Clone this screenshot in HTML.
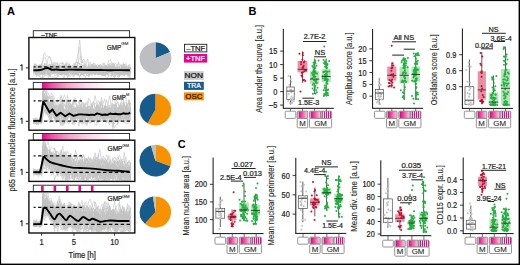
<!DOCTYPE html>
<html><head><meta charset="utf-8"><style>
html,body{margin:0;padding:0;background:#fff;}
body{width:520px;height:265px;overflow:hidden;font-family:"Liberation Sans",sans-serif;}
svg{display:block;}
</style></head><body>
<svg xmlns="http://www.w3.org/2000/svg" width="520" height="265" viewBox="0 0 520 265" font-family="Liberation Sans, sans-serif"><defs>
<linearGradient id="grad1" x1="0" x2="1" y1="0" y2="0">
<stop offset="0" stop-color="#fff"/><stop offset="0.085" stop-color="#fff"/><stop offset="0.09" stop-color="#e6058b"/><stop offset="0.2" stop-color="#ee5aa8"/><stop offset="0.35" stop-color="#f5a5cd"/><stop offset="0.55" stop-color="#fbdaeb"/><stop offset="0.78" stop-color="#fff"/><stop offset="1" stop-color="#fff"/>
</linearGradient>
<linearGradient id="grad2" x1="0" x2="1" y1="0" y2="0">
<stop offset="0" stop-color="#fff"/><stop offset="0.085" stop-color="#fff"/><stop offset="0.09" stop-color="#e6058b"/><stop offset="0.2" stop-color="#ee5aa8"/><stop offset="0.38" stop-color="#f5a5cd"/><stop offset="0.6" stop-color="#fbdaeb"/><stop offset="0.85" stop-color="#fff"/><stop offset="1" stop-color="#fff"/>
</linearGradient>
<linearGradient id="cg" x1="0" x2="1" y1="0" y2="0">
<stop offset="0" stop-color="#b8b8b8"/><stop offset="0.14" stop-color="#b8b8b8"/><stop offset="0.15" stop-color="#e6058b"/><stop offset="0.5" stop-color="#ee5aa6"/><stop offset="1" stop-color="#fbd3e8"/>
</linearGradient>
<pattern id="stripes" patternUnits="userSpaceOnUse" width="2" height="10">
<rect x="0" y="0" width="2" height="10" fill="#fde6f2"/><rect x="0" y="0" width="1" height="10" fill="#e6058b"/>
</pattern>
</defs><rect x="0" y="0" width="520" height="1.1" fill="#000"/>
<rect x="0" y="0" width="1.1" height="265" fill="#000"/>
<rect x="518.6" y="0" width="1.4" height="265" fill="#000"/>
<rect x="0" y="263.6" width="520" height="1.4" fill="#000"/>
<text x="7.00" y="14.80" font-size="11" fill="#000" font-weight="bold">A</text>
<text x="248.40" y="14.80" font-size="11" fill="#000" font-weight="bold">B</text>
<text x="177.80" y="147.60" font-size="11" fill="#000" font-weight="bold">C</text>
<rect x="33.30" y="30.70" width="96.30" height="6.80" fill="#fff" stroke="#222" stroke-width="0.9"/>
<rect x="33.3" y="82.40" width="96.3" height="6.80" fill="url(#grad1)" stroke="#222" stroke-width="0.9"/>
<rect x="33.3" y="133.50" width="96.3" height="6.70" fill="url(#grad2)" stroke="#222" stroke-width="0.9"/>
<rect x="33.30" y="185.20" width="96.30" height="6.50" fill="#fff" stroke="#222" stroke-width="0.9"/>
<rect x="41.10" y="185.60" width="2.60" height="5.70" fill="#e6058b"/>
<rect x="53.55" y="185.60" width="2.60" height="5.70" fill="#e6058b"/>
<rect x="66.00" y="185.60" width="2.60" height="5.70" fill="#e6058b"/>
<rect x="78.45" y="185.60" width="2.60" height="5.70" fill="#e6058b"/>
<rect x="90.90" y="185.60" width="2.60" height="5.70" fill="#e6058b"/>
<text x="41.30" y="36.60" font-size="6.2" fill="#231f20" stroke="#231f20" stroke-width="0.22" textLength="15.80" lengthAdjust="spacingAndGlyphs">&#8211;TNF</text>
<polyline points="33.5,70.5 34.3,71.5 35.1,71.0 35.9,70.4 36.7,69.1 37.5,69.3 38.4,71.5 39.2,72.0 40.0,73.4 40.8,73.1 41.6,73.1 42.4,72.8 43.2,69.6 44.0,71.4 44.8,72.0 45.6,72.5 46.5,69.4 47.3,67.0 48.1,66.7 48.9,67.1 49.7,68.7 50.5,69.2 51.3,70.6 52.1,69.6 52.9,70.5 53.8,71.2 54.6,70.1 55.4,73.1 56.2,73.4 57.0,74.6 57.8,72.6 58.6,70.9 59.4,70.4 60.2,70.4 61.0,71.5 61.8,71.8 62.7,70.8 63.5,69.3 64.3,68.9 65.1,71.5 65.9,70.0 66.7,70.7 67.5,71.4 68.3,68.9 69.1,69.5 69.9,72.0 70.8,68.5 71.6,68.7 72.4,69.1 73.2,68.3 74.0,69.9 74.8,70.1 75.6,67.9 76.4,69.4 77.2,67.6 78.0,59.5 78.9,47.1 79.7,40.1 80.5,47.7 81.3,57.1 82.1,62.8 82.9,60.2 83.7,59.0 84.5,60.2 85.3,63.5 86.2,66.3 87.0,70.3 87.8,67.4 88.6,66.1 89.4,67.8 90.2,71.0 91.0,71.9 91.8,68.6 92.6,65.2 93.4,67.4 94.2,67.2 95.1,66.5 95.9,69.3 96.7,71.5 97.5,71.6 98.3,71.8 99.1,72.3 99.9,74.4 100.7,74.5 101.5,74.3 102.3,74.2 103.2,70.8 104.0,72.9 104.8,73.9 105.6,73.9 106.4,69.9 107.2,69.2 108.0,71.0 108.8,68.1 109.6,68.6 110.5,70.9 111.3,68.8 112.1,72.0 112.9,72.6 113.7,71.9 114.5,72.1 115.3,72.8 116.1,72.5 116.9,73.9 117.7,72.0 118.5,71.0 119.4,72.7 120.2,72.2 121.0,70.5 121.8,72.1 122.6,74.1 123.4,72.5 124.2,69.9 125.0,70.0 125.8,70.0 126.6,69.8 127.5,72.4 128.3,70.3 129.1,72.5 129.9,70.0 130.7,69.0" fill="none" stroke="#c3c3c3" stroke-width="0.6" stroke-linejoin="round"/>
<polyline points="33.5,74.5 34.3,75.4 35.1,75.2 35.9,74.7 36.7,74.4 37.5,74.8 38.4,74.0 39.2,74.0 40.0,74.6 40.8,74.1 41.6,74.9 42.4,75.2 43.2,77.7 44.0,76.8 44.8,75.0 45.6,73.7 46.5,73.4 47.3,74.7 48.1,73.6 48.9,74.0 49.7,76.6 50.5,71.4 51.3,69.9 52.1,71.1 52.9,72.2 53.8,72.7 54.6,72.0 55.4,73.3 56.2,73.6 57.0,72.5 57.8,76.4 58.6,76.0 59.4,74.2 60.2,73.6 61.0,73.0 61.8,72.8 62.7,68.4 63.5,68.8 64.3,71.5 65.1,70.0 65.9,70.6 66.7,72.7 67.5,74.1 68.3,76.1 69.1,72.4 69.9,71.9 70.8,71.6 71.6,72.8 72.4,74.1 73.2,68.2 74.0,68.9 74.8,64.6 75.6,64.9 76.4,61.1 77.2,58.1 78.0,53.4 78.9,47.3 79.7,48.5 80.5,57.0 81.3,65.3 82.1,70.4 82.9,74.9 83.7,76.4 84.5,75.0 85.3,77.7 86.2,75.2 87.0,76.0 87.8,74.6 88.6,74.3 89.4,75.0 90.2,74.7 91.0,75.2 91.8,72.0 92.6,69.8 93.4,71.6 94.2,70.4 95.1,69.4 95.9,67.9 96.7,71.3 97.5,72.9 98.3,75.2 99.1,73.0 99.9,72.9 100.7,71.0 101.5,72.7 102.3,75.3 103.2,73.1 104.0,75.5 104.8,76.3 105.6,75.0 106.4,71.2 107.2,73.9 108.0,73.4 108.8,72.2 109.6,73.0 110.5,73.6 111.3,75.7 112.1,73.2 112.9,74.9 113.7,76.7 114.5,77.7 115.3,76.1 116.1,74.0 116.9,75.3 117.7,74.7 118.5,74.4 119.4,76.2 120.2,74.8 121.0,70.5 121.8,70.5 122.6,68.2 123.4,70.7 124.2,71.8 125.0,71.1 125.8,71.5 126.6,73.2 127.5,73.2 128.3,75.2 129.1,74.4 129.9,75.6 130.7,77.2" fill="none" stroke="#c3c3c3" stroke-width="0.6" stroke-linejoin="round"/>
<polyline points="33.5,69.4 34.3,71.1 35.1,67.9 35.9,66.9 36.7,64.8 37.5,68.1 38.4,66.8 39.2,67.8 40.0,68.2 40.8,68.8 41.6,68.3 42.4,69.3 43.2,72.5 44.0,72.0 44.8,72.4 45.6,73.5 46.5,72.3 47.3,69.8 48.1,69.1 48.9,71.2 49.7,68.4 50.5,68.0 51.3,70.3 52.1,71.6 52.9,71.3 53.8,72.4 54.6,72.1 55.4,69.8 56.2,67.5 57.0,67.3 57.8,69.7 58.6,69.0 59.4,68.0 60.2,67.4 61.0,65.8 61.8,66.9 62.7,66.0 63.5,67.9 64.3,64.8 65.1,66.9 65.9,66.9 66.7,64.8 67.5,67.5 68.3,67.9 69.1,65.1 69.9,65.2 70.8,67.1 71.6,67.3 72.4,69.5 73.2,70.9 74.0,71.9 74.8,71.9 75.6,73.3 76.4,72.5 77.2,70.1 78.0,62.2 78.9,59.4 79.7,57.8 80.5,55.9 81.3,57.1 82.1,63.3 82.9,61.3 83.7,62.2 84.5,66.1 85.3,65.1 86.2,68.6 87.0,73.3 87.8,73.1 88.6,73.5 89.4,74.2 90.2,71.7 91.0,71.2 91.8,71.5 92.6,72.5 93.4,71.9 94.2,71.2 95.1,69.4 95.9,69.1 96.7,70.9 97.5,71.0 98.3,69.5 99.1,68.4 99.9,73.2 100.7,74.3 101.5,74.2 102.3,69.0 103.2,70.4 104.0,71.2 104.8,73.7 105.6,73.5 106.4,72.5 107.2,72.8 108.0,69.0 108.8,71.1 109.6,71.4 110.5,70.0 111.3,72.3 112.1,74.7 112.9,71.3 113.7,70.0 114.5,70.6 115.3,70.8 116.1,70.1 116.9,68.6 117.7,72.6 118.5,73.6 119.4,70.8 120.2,68.6 121.0,71.8 121.8,73.0 122.6,75.2 123.4,75.2 124.2,72.5 125.0,72.3 125.8,68.4 126.6,67.8 127.5,68.4 128.3,69.8 129.1,68.9 129.9,69.1 130.7,70.2" fill="none" stroke="#c3c3c3" stroke-width="0.6" stroke-linejoin="round"/>
<polyline points="33.5,69.6 34.3,69.7 35.1,68.8 35.9,70.0 36.7,69.7 37.5,68.1 38.4,67.2 39.2,67.5 40.0,67.4 40.8,67.2 41.6,65.4 42.4,62.3 43.2,57.8 44.0,52.6 44.8,52.9 45.6,55.3 46.5,56.2 47.3,55.8 48.1,57.1 48.9,56.8 49.7,56.3 50.5,60.0 51.3,61.4 52.1,65.2 52.9,64.9 53.8,62.0 54.6,62.3 55.4,66.7 56.2,66.6 57.0,65.0 57.8,64.8 58.6,66.7 59.4,68.0 60.2,68.5 61.0,70.9 61.8,71.4 62.7,70.6 63.5,71.0 64.3,72.9 65.1,73.3 65.9,73.6 66.7,70.5 67.5,69.7 68.3,70.6 69.1,69.5 69.9,71.0 70.8,71.3 71.6,72.0 72.4,70.7 73.2,74.2 74.0,74.6 74.8,72.6 75.6,71.6 76.4,74.9 77.2,72.6 78.0,72.9 78.9,73.2 79.7,72.0 80.5,69.1 81.3,69.3 82.1,69.7 82.9,71.2 83.7,71.7 84.5,70.9 85.3,71.6 86.2,71.6 87.0,71.1 87.8,70.5 88.6,69.6 89.4,70.4 90.2,68.2 91.0,67.3 91.8,67.7 92.6,65.6 93.4,65.7 94.2,63.3 95.1,63.7 95.9,66.0 96.7,67.6 97.5,67.8 98.3,67.7 99.1,65.6 99.9,69.4 100.7,70.0 101.5,71.4 102.3,69.2 103.2,68.7 104.0,65.8 104.8,67.8 105.6,69.5 106.4,66.2 107.2,66.8 108.0,68.3 108.8,65.6 109.6,63.5 110.5,63.2 111.3,63.7 112.1,62.8 112.9,64.5 113.7,66.0 114.5,67.8 115.3,69.1 116.1,71.4 116.9,72.5 117.7,69.3 118.5,68.3 119.4,66.7 120.2,65.5 121.0,66.2 121.8,66.9 122.6,68.2 123.4,65.7 124.2,64.6 125.0,65.6 125.8,66.2 126.6,66.3 127.5,66.9 128.3,66.1 129.1,67.9 129.9,68.7 130.7,68.5" fill="none" stroke="#c3c3c3" stroke-width="0.6" stroke-linejoin="round"/>
<polyline points="33.5,69.8 34.3,65.5 35.1,65.2 35.9,66.7 36.7,65.2 37.5,66.9 38.4,67.9 39.2,65.9 40.0,65.8 40.8,64.8 41.6,64.2 42.4,62.8 43.2,60.1 44.0,57.0 44.8,57.1 45.6,58.8 46.5,62.8 47.3,65.8 48.1,66.6 48.9,66.1 49.7,67.1 50.5,66.9 51.3,66.1 52.1,67.1 52.9,67.2 53.8,68.2 54.6,69.5 55.4,69.0 56.2,73.1 57.0,71.7 57.8,73.0 58.6,72.4 59.4,73.5 60.2,68.8 61.0,67.9 61.8,68.9 62.7,70.2 63.5,73.9 64.3,73.4 65.1,74.5 65.9,74.5 66.7,74.8 67.5,74.3 68.3,72.9 69.1,72.9 69.9,70.4 70.8,72.2 71.6,70.0 72.4,70.4 73.2,73.7 74.0,72.4 74.8,71.8 75.6,73.2 76.4,72.3 77.2,70.4 78.0,70.7 78.9,71.5 79.7,72.2 80.5,70.4 81.3,73.1 82.1,75.0 82.9,73.6 83.7,73.1 84.5,71.6 85.3,73.4 86.2,71.4 87.0,72.1 87.8,70.8 88.6,69.5 89.4,70.8 90.2,72.7 91.0,72.0 91.8,70.4 92.6,71.6 93.4,71.1 94.2,71.3 95.1,73.4 95.9,74.3 96.7,72.3 97.5,75.3 98.3,73.9 99.1,74.1 99.9,71.9 100.7,71.3 101.5,68.2 102.3,71.6 103.2,73.4 104.0,70.5 104.8,67.8 105.6,65.4 106.4,67.4 107.2,65.2 108.0,63.2 108.8,60.8 109.6,59.9 110.5,59.3 111.3,62.2 112.1,62.8 112.9,65.6 113.7,67.9 114.5,69.6 115.3,69.5 116.1,68.2 116.9,69.0 117.7,68.5 118.5,71.5 119.4,72.3 120.2,71.5 121.0,70.4 121.8,69.2 122.6,67.9 123.4,68.0 124.2,69.0 125.0,70.2 125.8,71.1 126.6,74.2 127.5,71.9 128.3,71.4 129.1,75.5 129.9,71.0 130.7,69.9" fill="none" stroke="#c3c3c3" stroke-width="0.6" stroke-linejoin="round"/>
<polyline points="33.5,67.8 34.3,68.4 35.1,67.8 35.9,68.3 36.7,68.2 37.5,69.3 38.4,65.8 39.2,64.8 40.0,65.6 40.8,64.5 41.6,63.7 42.4,65.7 43.2,65.1 44.0,66.6 44.8,67.4 45.6,66.7 46.5,65.5 47.3,62.8 48.1,58.0 48.9,56.8 49.7,57.5 50.5,57.7 51.3,59.8 52.1,63.5 52.9,63.9 53.8,66.5 54.6,70.0 55.4,68.2 56.2,67.6 57.0,66.0 57.8,67.0 58.6,65.4 59.4,65.1 60.2,62.9 61.0,63.2 61.8,64.1 62.7,62.5 63.5,66.6 64.3,68.7 65.1,65.8 65.9,67.6 66.7,67.4 67.5,68.2 68.3,68.6 69.1,65.9 69.9,66.0 70.8,68.9 71.6,67.6 72.4,65.9 73.2,64.2 74.0,63.2 74.8,65.0 75.6,68.4 76.4,68.9 77.2,68.9 78.0,72.1 78.9,70.0 79.7,68.2 80.5,68.9 81.3,69.4 82.1,67.3 82.9,65.5 83.7,66.5 84.5,67.2 85.3,65.2 86.2,65.6 87.0,65.3 87.8,66.6 88.6,66.7 89.4,66.8 90.2,66.5 91.0,68.5 91.8,70.4 92.6,69.0 93.4,70.0 94.2,68.1 95.1,68.1 95.9,69.1 96.7,71.1 97.5,69.5 98.3,68.8 99.1,68.8 99.9,66.1 100.7,66.5 101.5,65.7 102.3,66.8 103.2,65.2 104.0,62.7 104.8,64.1 105.6,65.5 106.4,65.2 107.2,67.3 108.0,66.9 108.8,66.1 109.6,67.3 110.5,64.9 111.3,64.5 112.1,65.4 112.9,67.3 113.7,67.1 114.5,67.8 115.3,66.7 116.1,67.4 116.9,70.1 117.7,68.3 118.5,71.9 119.4,69.6 120.2,69.1 121.0,68.9 121.8,70.2 122.6,67.5 123.4,64.1 124.2,66.1 125.0,67.8 125.8,68.7 126.6,72.6 127.5,71.5 128.3,70.8 129.1,71.4 129.9,70.9 130.7,72.6" fill="none" stroke="#c3c3c3" stroke-width="0.6" stroke-linejoin="round"/>
<polyline points="33.5,69.7 34.3,64.4 35.1,67.3 35.9,67.6 36.7,69.8 37.5,73.4 38.4,72.5 39.2,71.5 40.0,70.4 40.8,69.0 41.6,68.4 42.4,69.9 43.2,70.1 44.0,70.3 44.8,70.0 45.6,71.6 46.5,72.0 47.3,71.3 48.1,72.1 48.9,71.4 49.7,69.2 50.5,71.9 51.3,72.2 52.1,70.1 52.9,71.9 53.8,72.0 54.6,69.0 55.4,72.0 56.2,72.0 57.0,73.0 57.8,72.6 58.6,71.7 59.4,68.8 60.2,70.8 61.0,70.6 61.8,69.9 62.7,70.1 63.5,69.5 64.3,69.5 65.1,67.4 65.9,66.2 66.7,62.1 67.5,62.5 68.3,65.1 69.1,68.7 69.9,68.8 70.8,69.4 71.6,72.4 72.4,71.5 73.2,72.4 74.0,74.5 74.8,73.4 75.6,74.5 76.4,72.2 77.2,72.0 78.0,71.4 78.9,71.3 79.7,72.8 80.5,76.0 81.3,73.3 82.1,71.6 82.9,72.0 83.7,69.8 84.5,70.8 85.3,71.6 86.2,70.8 87.0,71.5 87.8,68.7 88.6,70.4 89.4,67.9 90.2,67.4 91.0,67.2 91.8,67.2 92.6,68.9 93.4,68.5 94.2,66.9 95.1,66.6 95.9,67.5 96.7,65.3 97.5,64.5 98.3,65.8 99.1,66.0 99.9,64.4 100.7,70.0 101.5,73.9 102.3,70.1 103.2,70.4 104.0,71.3 104.8,72.7 105.6,73.1 106.4,72.0 107.2,69.8 108.0,70.1 108.8,71.8 109.6,69.7 110.5,68.2 111.3,68.8 112.1,66.1 112.9,66.9 113.7,67.1 114.5,68.7 115.3,68.1 116.1,67.3 116.9,67.5 117.7,68.2 118.5,67.7 119.4,68.5 120.2,70.2 121.0,72.1 121.8,74.4 122.6,72.0 123.4,70.8 124.2,66.7 125.0,70.8 125.8,69.5 126.6,69.7 127.5,70.7 128.3,68.4 129.1,69.7 129.9,69.8 130.7,67.0" fill="none" stroke="#c3c3c3" stroke-width="0.6" stroke-linejoin="round"/>
<polyline points="33.5,72.3 34.3,68.8 35.1,70.6 35.9,70.9 36.7,71.5 37.5,71.9 38.4,73.6 39.2,72.3 40.0,73.2 40.8,71.8 41.6,72.6 42.4,70.7 43.2,70.4 44.0,73.2 44.8,73.1 45.6,72.1 46.5,69.8 47.3,68.7 48.1,69.5 48.9,71.3 49.7,71.7 50.5,72.2 51.3,71.6 52.1,73.5 52.9,72.0 53.8,70.7 54.6,72.0 55.4,71.7 56.2,70.9 57.0,69.8 57.8,69.6 58.6,70.8 59.4,71.3 60.2,69.1 61.0,70.2 61.8,70.5 62.7,68.9 63.5,70.5 64.3,69.9 65.1,69.2 65.9,70.1 66.7,71.0 67.5,67.7 68.3,66.6 69.1,63.5 69.9,66.8 70.8,65.5 71.6,68.2 72.4,67.9 73.2,70.3 74.0,74.4 74.8,69.5 75.6,69.2 76.4,70.5 77.2,70.3 78.0,69.3 78.9,73.1 79.7,72.5 80.5,69.3 81.3,71.0 82.1,68.1 82.9,70.6 83.7,69.6 84.5,70.1 85.3,72.2 86.2,71.9 87.0,69.3 87.8,66.9 88.6,69.8 89.4,71.1 90.2,69.6 91.0,71.2 91.8,71.8 92.6,72.5 93.4,68.3 94.2,68.4 95.1,70.4 95.9,71.6 96.7,72.7 97.5,68.1 98.3,69.0 99.1,70.2 99.9,74.4 100.7,71.7 101.5,70.8 102.3,70.8 103.2,72.1 104.0,70.9 104.8,72.6 105.6,70.8 106.4,71.1 107.2,70.1 108.0,70.4 108.8,69.3 109.6,67.1 110.5,69.7 111.3,70.4 112.1,69.4 112.9,69.9 113.7,71.3 114.5,68.9 115.3,68.3 116.1,68.5 116.9,68.3 117.7,66.4 118.5,62.0 119.4,64.3 120.2,64.8 121.0,65.0 121.8,65.3 122.6,66.7 123.4,67.0 124.2,66.5 125.0,66.6 125.8,66.9 126.6,67.0 127.5,66.2 128.3,68.5 129.1,66.9 129.9,69.0 130.7,67.8" fill="none" stroke="#c3c3c3" stroke-width="0.6" stroke-linejoin="round"/>
<polyline points="33.5,72.2 34.3,71.9 35.1,70.2 35.9,70.2 36.7,70.4 37.5,67.5 38.4,67.2 39.2,68.3 40.0,68.0 40.8,68.7 41.6,70.2 42.4,71.4 43.2,72.4 44.0,72.7 44.8,71.5 45.6,71.0 46.5,70.3 47.3,69.7 48.1,69.5 48.9,66.8 49.7,67.0 50.5,67.4 51.3,65.9 52.1,65.8 52.9,66.1 53.8,65.0 54.6,67.8 55.4,62.9 56.2,63.8 57.0,62.5 57.8,66.4 58.6,72.0 59.4,67.7 60.2,68.7 61.0,70.0 61.8,69.5 62.7,70.6 63.5,66.8 64.3,69.1 65.1,69.9 65.9,70.0 66.7,69.0 67.5,70.3 68.3,69.5 69.1,70.0 69.9,69.2 70.8,65.8 71.6,66.9 72.4,68.1 73.2,69.8 74.0,68.5 74.8,68.8 75.6,70.2 76.4,70.3 77.2,72.2 78.0,74.8 78.9,72.0 79.7,68.4 80.5,70.2 81.3,72.5 82.1,73.2 82.9,73.3 83.7,70.8 84.5,68.2 85.3,68.3 86.2,64.8 87.0,60.6 87.8,59.1 88.6,64.4 89.4,68.3 90.2,67.6 91.0,67.5 91.8,69.0 92.6,68.4 93.4,71.2 94.2,70.8 95.1,68.9 95.9,71.3 96.7,70.0 97.5,70.4 98.3,70.2 99.1,69.7 99.9,70.3 100.7,69.1 101.5,66.4 102.3,63.9 103.2,63.5 104.0,64.1 104.8,65.7 105.6,67.0 106.4,68.7 107.2,69.3 108.0,68.2 108.8,67.6 109.6,64.9 110.5,66.0 111.3,67.9 112.1,69.3 112.9,69.3 113.7,69.2 114.5,70.9 115.3,70.7 116.1,71.7 116.9,72.1 117.7,71.9 118.5,73.4 119.4,71.6 120.2,70.5 121.0,69.1 121.8,68.1 122.6,71.1 123.4,73.6 124.2,72.6 125.0,72.8 125.8,73.9 126.6,74.1 127.5,74.9 128.3,71.5 129.1,70.0 129.9,70.7 130.7,72.8" fill="none" stroke="#c3c3c3" stroke-width="0.6" stroke-linejoin="round"/>
<polyline points="33.5,68.6 34.3,68.4 35.1,67.8 35.9,67.0 36.7,70.3 37.5,69.2 38.4,69.4 39.2,73.1 40.0,74.1 40.8,73.5 41.6,71.5 42.4,71.7 43.2,73.8 44.0,73.8 44.8,74.7 45.6,73.6 46.5,73.4 47.3,72.1 48.1,72.2 48.9,73.7 49.7,70.3 50.5,70.1 51.3,70.5 52.1,69.4 52.9,69.1 53.8,70.6 54.6,73.6 55.4,73.6 56.2,73.1 57.0,69.8 57.8,72.9 58.6,72.2 59.4,71.5 60.2,69.3 61.0,69.4 61.8,67.8 62.7,68.5 63.5,69.7 64.3,69.8 65.1,70.3 65.9,68.9 66.7,71.5 67.5,70.0 68.3,67.1 69.1,67.6 69.9,67.0 70.8,66.2 71.6,66.7 72.4,68.1 73.2,66.7 74.0,67.4 74.8,70.4 75.6,71.4 76.4,70.8 77.2,70.7 78.0,70.3 78.9,70.2 79.7,71.3 80.5,70.8 81.3,66.7 82.1,67.6 82.9,66.8 83.7,68.8 84.5,68.1 85.3,68.9 86.2,72.7 87.0,70.2 87.8,68.4 88.6,66.6 89.4,63.7 90.2,62.4 91.0,65.1 91.8,65.5 92.6,63.7 93.4,63.1 94.2,66.0 95.1,65.9 95.9,66.4 96.7,67.9 97.5,70.6 98.3,73.4 99.1,73.8 99.9,72.2 100.7,70.5 101.5,71.2 102.3,70.6 103.2,67.2 104.0,66.3 104.8,66.3 105.6,66.8 106.4,67.0 107.2,66.0 108.0,66.4 108.8,64.7 109.6,67.2 110.5,67.2 111.3,63.9 112.1,65.5 112.9,66.1 113.7,62.8 114.5,67.2 115.3,69.3 116.1,73.1 116.9,70.7 117.7,71.6 118.5,72.0 119.4,71.8 120.2,71.6 121.0,72.9 121.8,69.7 122.6,67.8 123.4,66.1 124.2,66.3 125.0,66.4 125.8,68.0 126.6,69.0 127.5,69.3 128.3,68.4 129.1,68.1 129.9,70.2 130.7,71.3" fill="none" stroke="#c3c3c3" stroke-width="0.6" stroke-linejoin="round"/>
<polyline points="33.5,69.9 34.3,72.5 35.1,71.0 35.9,71.9 36.7,73.3 37.5,72.1 38.4,72.9 39.2,70.4 40.0,72.1 40.8,71.9 41.6,69.0 42.4,70.4 43.2,69.0 44.0,71.5 44.8,70.1 45.6,69.9 46.5,70.5 47.3,69.9 48.1,70.5 48.9,69.6 49.7,70.9 50.5,70.8 51.3,71.0 52.1,66.4 52.9,69.4 53.8,69.7 54.6,67.1 55.4,68.2 56.2,69.5 57.0,71.5 57.8,69.5 58.6,72.2 59.4,71.5 60.2,75.0 61.0,73.5 61.8,73.7 62.7,72.2 63.5,69.9 64.3,71.8 65.1,72.9 65.9,74.6 66.7,74.8 67.5,72.7 68.3,69.4 69.1,68.6 69.9,68.0 70.8,67.4 71.6,69.2 72.4,70.1 73.2,69.7 74.0,70.2 74.8,70.0 75.6,70.5 76.4,71.7 77.2,72.8 78.0,71.1 78.9,68.5 79.7,71.3 80.5,71.2 81.3,72.8 82.1,69.5 82.9,69.2 83.7,69.6 84.5,67.5 85.3,67.5 86.2,69.5 87.0,71.4 87.8,73.5 88.6,70.8 89.4,67.7 90.2,68.1 91.0,68.5 91.8,67.4 92.6,64.3 93.4,65.9 94.2,67.8 95.1,69.3 95.9,69.1 96.7,70.3 97.5,71.8 98.3,70.7 99.1,67.8 99.9,69.1 100.7,70.2 101.5,70.3 102.3,71.8 103.2,70.4 104.0,70.3 104.8,69.8 105.6,70.9 106.4,73.3 107.2,72.1 108.0,74.9 108.8,76.1 109.6,75.8 110.5,75.2 111.3,76.7 112.1,74.7 112.9,73.3 113.7,70.8 114.5,71.4 115.3,73.3 116.1,73.3 116.9,73.2 117.7,72.1 118.5,71.8 119.4,69.0 120.2,70.8 121.0,69.3 121.8,66.7 122.6,64.7 123.4,62.8 124.2,63.9 125.0,65.5 125.8,63.5 126.6,66.4 127.5,69.1 128.3,68.9 129.1,67.3 129.9,67.3 130.7,67.3" fill="none" stroke="#c3c3c3" stroke-width="0.6" stroke-linejoin="round"/>
<polyline points="33.5,70.1 34.3,67.0 35.1,68.4 35.9,66.6 36.7,69.2 37.5,67.6 38.4,67.4 39.2,66.9 40.0,67.1 40.8,70.2 41.6,71.7 42.4,72.3 43.2,72.4 44.0,69.4 44.8,68.9 45.6,68.5 46.5,67.6 47.3,69.2 48.1,68.4 48.9,67.9 49.7,67.0 50.5,64.7 51.3,67.3 52.1,70.4 52.9,70.8 53.8,69.2 54.6,65.2 55.4,67.0 56.2,70.0 57.0,70.7 57.8,72.1 58.6,74.1 59.4,74.9 60.2,73.0 61.0,74.0 61.8,74.3 62.7,70.8 63.5,70.1 64.3,68.0 65.1,68.6 65.9,70.1 66.7,68.5 67.5,65.8 68.3,69.3 69.1,70.3 69.9,72.7 70.8,70.0 71.6,71.9 72.4,74.9 73.2,76.9 74.0,74.8 74.8,74.1 75.6,72.9 76.4,73.9 77.2,74.6 78.0,73.6 78.9,70.6 79.7,71.8 80.5,70.7 81.3,71.7 82.1,71.8 82.9,74.1 83.7,75.0 84.5,73.0 85.3,72.9 86.2,75.1 87.0,73.0 87.8,73.0 88.6,74.3 89.4,75.3 90.2,74.8 91.0,71.5 91.8,69.3 92.6,70.1 93.4,70.8 94.2,74.9 95.1,72.3 95.9,73.7 96.7,74.1 97.5,70.4 98.3,69.2 99.1,69.9 99.9,69.3 100.7,69.4 101.5,70.5 102.3,69.3 103.2,70.4 104.0,69.4 104.8,68.9 105.6,70.3 106.4,69.5 107.2,70.2 108.0,72.9 108.8,72.3 109.6,71.6 110.5,72.5 111.3,71.4 112.1,72.9 112.9,70.2 113.7,71.3 114.5,70.3 115.3,69.1 116.1,72.4 116.9,70.5 117.7,73.4 118.5,73.7 119.4,75.2 120.2,72.3 121.0,73.8 121.8,75.2 122.6,73.8 123.4,72.7 124.2,76.1 125.0,74.8 125.8,73.0 126.6,71.3 127.5,71.8 128.3,72.0 129.1,71.9 129.9,74.3 130.7,72.8" fill="none" stroke="#c3c3c3" stroke-width="0.6" stroke-linejoin="round"/>
<polyline points="33.5,72.4 34.3,70.1 35.1,71.7 35.9,74.2 36.7,70.9 37.5,68.9 38.4,67.5 39.2,65.3 40.0,67.3 40.8,65.1 41.6,67.3 42.4,70.4 43.2,67.7 44.0,67.8 44.8,65.4 45.6,67.9 46.5,67.3 47.3,67.7 48.1,68.4 48.9,69.7 49.7,69.3 50.5,69.5 51.3,68.8 52.1,69.3 52.9,67.6 53.8,68.4 54.6,65.8 55.4,66.2 56.2,70.3 57.0,70.4 57.8,68.2 58.6,69.2 59.4,67.8 60.2,65.8 61.0,65.8 61.8,68.2 62.7,69.3 63.5,69.3 64.3,68.1 65.1,66.9 65.9,69.9 66.7,70.3 67.5,68.7 68.3,65.7 69.1,64.7 69.9,70.2 70.8,68.3 71.6,68.7 72.4,69.4 73.2,69.3 74.0,69.1 74.8,67.1 75.6,66.3 76.4,70.0 77.2,68.8 78.0,70.5 78.9,67.7 79.7,67.9 80.5,68.9 81.3,70.9 82.1,68.8 82.9,70.1 83.7,70.7 84.5,69.3 85.3,70.3 86.2,68.8 87.0,67.9 87.8,68.4 88.6,64.5 89.4,65.9 90.2,65.4 91.0,64.4 91.8,65.3 92.6,67.8 93.4,67.8 94.2,70.4 95.1,68.5 95.9,66.8 96.7,70.2 97.5,70.8 98.3,72.1 99.1,70.2 99.9,71.4 100.7,71.4 101.5,72.1 102.3,71.5 103.2,73.1 104.0,71.2 104.8,69.3 105.6,67.1 106.4,69.8 107.2,68.7 108.0,67.4 108.8,66.6 109.6,66.9 110.5,65.7 111.3,66.5 112.1,66.4 112.9,66.6 113.7,66.0 114.5,67.2 115.3,67.2 116.1,68.2 116.9,69.1 117.7,69.9 118.5,66.4 119.4,66.6 120.2,66.3 121.0,68.6 121.8,66.4 122.6,66.3 123.4,66.9 124.2,67.2 125.0,69.6 125.8,69.0 126.6,70.8 127.5,68.3 128.3,65.8 129.1,69.0 129.9,70.0 130.7,70.8" fill="none" stroke="#c3c3c3" stroke-width="0.6" stroke-linejoin="round"/>
<polyline points="33.5,69.3 34.3,67.1 35.1,69.0 35.9,68.0 36.7,69.7 37.5,69.5 38.4,66.1 39.2,64.7 40.0,67.6 40.8,67.6 41.6,67.2 42.4,68.0 43.2,67.4 44.0,66.9 44.8,67.5 45.6,68.0 46.5,70.6 47.3,70.1 48.1,72.6 48.9,74.4 49.7,75.5 50.5,75.2 51.3,73.5 52.1,72.4 52.9,71.0 53.8,69.2 54.6,68.9 55.4,67.7 56.2,70.6 57.0,70.9 57.8,69.5 58.6,66.1 59.4,66.7 60.2,66.5 61.0,65.4 61.8,64.4 62.7,62.0 63.5,64.7 64.3,65.7 65.1,70.6 65.9,70.0 66.7,69.3 67.5,71.4 68.3,70.8 69.1,70.4 69.9,69.3 70.8,68.1 71.6,70.6 72.4,71.6 73.2,73.5 74.0,71.5 74.8,70.7 75.6,68.7 76.4,70.2 77.2,67.5 78.0,68.7 78.9,70.4 79.7,72.1 80.5,69.6 81.3,71.0 82.1,69.2 82.9,67.8 83.7,65.9 84.5,68.5 85.3,71.1 86.2,69.4 87.0,68.0 87.8,67.6 88.6,71.8 89.4,72.5 90.2,70.5 91.0,67.1 91.8,66.4 92.6,68.9 93.4,71.8 94.2,70.4 95.1,68.8 95.9,67.9 96.7,65.0 97.5,67.5 98.3,66.0 99.1,68.4 99.9,65.7 100.7,64.5 101.5,66.0 102.3,65.5 103.2,67.6 104.0,67.9 104.8,66.2 105.6,67.8 106.4,69.4 107.2,66.1 108.0,69.7 108.8,70.1 109.6,70.9 110.5,67.2 111.3,66.4 112.1,66.5 112.9,68.8 113.7,66.3 114.5,65.5 115.3,63.1 116.1,64.2 116.9,66.0 117.7,64.0 118.5,64.3 119.4,66.3 120.2,69.5 121.0,70.3 121.8,69.3 122.6,67.2 123.4,66.0 124.2,65.7 125.0,66.7 125.8,67.1 126.6,70.2 127.5,70.2 128.3,68.0 129.1,70.6 129.9,71.5 130.7,70.8" fill="none" stroke="#c3c3c3" stroke-width="0.6" stroke-linejoin="round"/>
<polyline points="33.5,68.6 34.3,67.9 35.1,70.4 35.9,69.4 36.7,67.9 37.5,69.3 38.4,70.3 39.2,71.7 40.0,72.7 40.8,74.7 41.6,72.5 42.4,73.8 43.2,71.6 44.0,72.7 44.8,72.7 45.6,72.8 46.5,74.0 47.3,73.3 48.1,74.6 48.9,75.2 49.7,74.4 50.5,72.7 51.3,71.2 52.1,70.5 52.9,70.5 53.8,70.8 54.6,75.8 55.4,75.7 56.2,75.8 57.0,73.2 57.8,71.6 58.6,71.1 59.4,71.6 60.2,69.9 61.0,73.0 61.8,71.7 62.7,73.4 63.5,69.2 64.3,69.9 65.1,70.8 65.9,71.3 66.7,72.4 67.5,72.6 68.3,72.6 69.1,69.3 69.9,68.8 70.8,65.9 71.6,68.5 72.4,69.9 73.2,70.0 74.0,69.2 74.8,68.9 75.6,72.7 76.4,75.1 77.2,74.1 78.0,75.5 78.9,71.8 79.7,68.7 80.5,68.7 81.3,68.2 82.1,68.2 82.9,69.5 83.7,74.9 84.5,73.0 85.3,72.7 86.2,72.8 87.0,72.4 87.8,73.7 88.6,76.0 89.4,72.8 90.2,72.7 91.0,72.0 91.8,72.5 92.6,69.8 93.4,67.5 94.2,64.9 95.1,67.7 95.9,69.1 96.7,69.9 97.5,66.6 98.3,67.4 99.1,67.4 99.9,66.3 100.7,66.3 101.5,68.9 102.3,70.6 103.2,70.8 104.0,71.9 104.8,70.9 105.6,71.2 106.4,71.4 107.2,72.3 108.0,72.0 108.8,71.7 109.6,71.5 110.5,70.5 111.3,74.4 112.1,74.4 112.9,74.3 113.7,77.3 114.5,77.7 115.3,73.7 116.1,74.2 116.9,74.8 117.7,77.0 118.5,77.6 119.4,77.2 120.2,73.7 121.0,71.7 121.8,72.2 122.6,72.8 123.4,70.9 124.2,70.5 125.0,70.1 125.8,70.7 126.6,71.5 127.5,71.1 128.3,69.2 129.1,71.9 129.9,74.4 130.7,73.5" fill="none" stroke="#c3c3c3" stroke-width="0.6" stroke-linejoin="round"/>
<polyline points="33.5,71.4 34.3,72.3 35.1,72.6 35.9,70.8 36.7,71.7 37.5,73.1 38.4,71.0 39.2,74.0 40.0,76.5 40.8,77.7 41.6,77.7 42.4,77.7 43.2,75.3 44.0,73.1 44.8,71.1 45.6,71.2 46.5,71.0 47.3,72.0 48.1,68.4 48.9,72.7 49.7,75.8 50.5,74.3 51.3,74.4 52.1,74.1 52.9,73.6 53.8,72.5 54.6,71.8 55.4,70.2 56.2,70.6 57.0,70.6 57.8,71.1 58.6,69.6 59.4,70.0 60.2,70.3 61.0,71.4 61.8,69.5 62.7,70.5 63.5,72.1 64.3,72.7 65.1,71.5 65.9,70.5 66.7,70.2 67.5,71.5 68.3,73.8 69.1,72.7 69.9,71.1 70.8,71.6 71.6,71.7 72.4,69.9 73.2,69.0 74.0,69.3 74.8,70.8 75.6,68.8 76.4,67.7 77.2,69.4 78.0,67.8 78.9,68.8 79.7,69.9 80.5,69.9 81.3,68.5 82.1,69.0 82.9,69.0 83.7,70.0 84.5,68.8 85.3,71.1 86.2,68.3 87.0,68.7 87.8,69.3 88.6,71.2 89.4,70.1 90.2,71.1 91.0,70.1 91.8,71.5 92.6,74.0 93.4,72.5 94.2,72.7 95.1,70.6 95.9,72.2 96.7,73.7 97.5,72.9 98.3,70.5 99.1,71.2 99.9,72.9 100.7,74.0 101.5,74.4 102.3,70.4 103.2,69.4 104.0,72.1 104.8,69.7 105.6,71.8 106.4,74.5 107.2,74.7 108.0,75.3 108.8,73.5 109.6,70.8 110.5,70.6 111.3,70.3 112.1,70.3 112.9,71.6 113.7,71.1 114.5,71.3 115.3,71.8 116.1,71.5 116.9,74.2 117.7,73.9 118.5,73.2 119.4,72.1 120.2,70.7 121.0,72.9 121.8,72.5 122.6,70.3 123.4,69.5 124.2,69.6 125.0,69.2 125.8,71.4 126.6,69.3 127.5,70.5 128.3,70.8 129.1,68.9 129.9,69.5 130.7,69.7" fill="none" stroke="#c3c3c3" stroke-width="0.6" stroke-linejoin="round"/>
<polyline points="33.5,66.7 34.3,67.4 35.1,64.8 35.9,63.8 36.7,66.1 37.5,68.1 38.4,67.9 39.2,66.8 40.0,68.7 40.8,65.0 41.6,64.4 42.4,66.4 43.2,67.7 44.0,66.0 44.8,63.4 45.6,66.8 46.5,67.3 47.3,65.9 48.1,66.4 48.9,68.1 49.7,63.8 50.5,66.6 51.3,68.0 52.1,64.5 52.9,66.6 53.8,64.0 54.6,66.8 55.4,67.6 56.2,71.2 57.0,69.2 57.8,68.7 58.6,70.0 59.4,68.3 60.2,66.9 61.0,66.5 61.8,66.6 62.7,65.1 63.5,66.6 64.3,67.7 65.1,67.7 65.9,70.4 66.7,69.0 67.5,70.7 68.3,68.9 69.1,69.7 69.9,66.0 70.8,66.7 71.6,66.6 72.4,66.1 73.2,65.5 74.0,65.5 74.8,64.9 75.6,62.1 76.4,62.6 77.2,63.1 78.0,63.5 78.9,62.9 79.7,64.0 80.5,66.2 81.3,66.2 82.1,65.7 82.9,68.4 83.7,69.7 84.5,70.5 85.3,71.5 86.2,69.9 87.0,69.0 87.8,70.3 88.6,68.6 89.4,68.1 90.2,68.5 91.0,68.8 91.8,68.0 92.6,69.4 93.4,68.6 94.2,69.4 95.1,70.6 95.9,70.8 96.7,71.0 97.5,68.2 98.3,65.9 99.1,65.3 99.9,66.7 100.7,69.3 101.5,66.8 102.3,67.5 103.2,66.1 104.0,65.3 104.8,65.5 105.6,67.1 106.4,67.6 107.2,69.4 108.0,67.3 108.8,68.8 109.6,69.9 110.5,69.3 111.3,69.6 112.1,68.1 112.9,66.2 113.7,65.9 114.5,65.3 115.3,70.5 116.1,68.9 116.9,71.1 117.7,70.4 118.5,70.1 119.4,70.5 120.2,68.4 121.0,69.6 121.8,69.6 122.6,66.6 123.4,67.8 124.2,68.6 125.0,69.0 125.8,71.1 126.6,69.4 127.5,69.7 128.3,70.3 129.1,68.0 129.9,69.8 130.7,66.8" fill="none" stroke="#c3c3c3" stroke-width="0.6" stroke-linejoin="round"/>
<polyline points="33.5,69.8 34.3,67.8 35.1,68.0 35.9,65.6 36.7,66.7 37.5,65.5 38.4,67.0 39.2,65.1 40.0,66.9 40.8,67.1 41.6,67.7 42.4,67.9 43.2,68.4 44.0,66.5 44.8,63.1 45.6,64.8 46.5,64.4 47.3,65.0 48.1,66.8 48.9,64.2 49.7,64.3 50.5,64.6 51.3,64.2 52.1,66.0 52.9,66.6 53.8,66.0 54.6,65.2 55.4,67.6 56.2,66.9 57.0,68.4 57.8,69.3 58.6,66.2 59.4,65.2 60.2,66.3 61.0,67.6 61.8,69.2 62.7,70.4 63.5,71.7 64.3,70.3 65.1,69.6 65.9,70.7 66.7,69.5 67.5,71.0 68.3,67.9 69.1,69.3 69.9,68.9 70.8,65.8 71.6,68.2 72.4,68.9 73.2,69.0 74.0,67.2 74.8,67.0 75.6,70.0 76.4,68.4 77.2,63.0 78.0,63.3 78.9,62.9 79.7,64.4 80.5,65.1 81.3,64.7 82.1,64.5 82.9,67.5 83.7,65.6 84.5,69.7 85.3,68.6 86.2,66.9 87.0,68.8 87.8,69.7 88.6,67.8 89.4,69.4 90.2,66.3 91.0,65.6 91.8,68.3 92.6,68.1 93.4,66.3 94.2,67.8 95.1,69.6 95.9,69.4 96.7,66.4 97.5,66.6 98.3,67.9 99.1,69.4 99.9,72.3 100.7,70.9 101.5,69.6 102.3,69.4 103.2,71.2 104.0,69.1 104.8,71.1 105.6,66.1 106.4,68.2 107.2,67.3 108.0,68.5 108.8,69.7 109.6,67.6 110.5,67.9 111.3,68.6 112.1,69.6 112.9,67.9 113.7,66.6 114.5,64.2 115.3,69.6 116.1,69.1 116.9,68.7 117.7,66.4 118.5,68.6 119.4,67.8 120.2,70.5 121.0,71.4 121.8,70.8 122.6,71.4 123.4,69.0 124.2,68.4 125.0,67.7 125.8,66.0 126.6,66.9 127.5,67.2 128.3,70.0 129.1,64.3 129.9,64.6 130.7,64.3" fill="none" stroke="#c3c3c3" stroke-width="0.6" stroke-linejoin="round"/>
<polyline points="33.5,71.1 34.3,71.6 35.1,71.3 35.9,70.3 36.7,71.1 37.5,71.5 38.4,68.3 39.2,68.4 40.0,66.8 40.8,65.9 41.6,67.4 42.4,68.4 43.2,69.1 44.0,68.1 44.8,68.4 45.6,67.5 46.5,69.0 47.3,70.5 48.1,73.3 48.9,74.5 49.7,72.1 50.5,70.9 51.3,69.3 52.1,70.1 52.9,73.3 53.8,73.7 54.6,69.2 55.4,67.6 56.2,66.3 57.0,68.3 57.8,68.9 58.6,69.8 59.4,72.8 60.2,70.8 61.0,69.4 61.8,72.8 62.7,72.7 63.5,70.8 64.3,67.5 65.1,65.9 65.9,63.2 66.7,65.4 67.5,66.8 68.3,69.4 69.1,69.5 69.9,68.6 70.8,68.0 71.6,71.7 72.4,68.5 73.2,69.3 74.0,69.7 74.8,70.9 75.6,70.1 76.4,71.0 77.2,72.1 78.0,71.4 78.9,70.4 79.7,70.1 80.5,68.7 81.3,68.8 82.1,68.8 82.9,69.6 83.7,72.0 84.5,73.6 85.3,72.0 86.2,72.5 87.0,72.4 87.8,73.1 88.6,72.4 89.4,72.3 90.2,71.0 91.0,69.6 91.8,71.2 92.6,73.1 93.4,73.4 94.2,73.3 95.1,72.9 95.9,71.5 96.7,68.3 97.5,70.0 98.3,70.4 99.1,69.5 99.9,68.3 100.7,70.9 101.5,67.9 102.3,71.4 103.2,72.2 104.0,75.5 104.8,72.9 105.6,72.2 106.4,70.9 107.2,71.0 108.0,70.5 108.8,69.3 109.6,71.3 110.5,69.8 111.3,69.2 112.1,70.4 112.9,69.6 113.7,69.1 114.5,70.1 115.3,69.6 116.1,67.8 116.9,68.4 117.7,68.6 118.5,71.9 119.4,69.7 120.2,71.5 121.0,69.9 121.8,69.5 122.6,69.2 123.4,70.0 124.2,71.5 125.0,74.0 125.8,72.0 126.6,73.7 127.5,74.4 128.3,74.6 129.1,72.2 129.9,73.1 130.7,72.2" fill="none" stroke="#c3c3c3" stroke-width="0.6" stroke-linejoin="round"/>
<polyline points="33.5,70.3 34.3,71.5 35.1,73.1 35.9,74.2 36.7,72.9 37.5,73.9 38.4,75.3 39.2,72.6 40.0,74.4 40.8,71.2 41.6,72.0 42.4,72.6 43.2,74.4 44.0,73.8 44.8,72.2 45.6,70.5 46.5,68.6 47.3,70.4 48.1,70.1 48.9,69.1 49.7,70.4 50.5,69.3 51.3,69.0 52.1,68.8 52.9,72.0 53.8,74.0 54.6,72.8 55.4,69.7 56.2,70.4 57.0,70.6 57.8,71.2 58.6,72.0 59.4,71.1 60.2,72.5 61.0,73.4 61.8,73.0 62.7,71.7 63.5,70.7 64.3,71.8 65.1,69.7 65.9,69.8 66.7,68.8 67.5,67.1 68.3,69.1 69.1,69.5 69.9,69.9 70.8,71.6 71.6,68.9 72.4,69.3 73.2,70.2 74.0,71.7 74.8,69.7 75.6,71.1 76.4,71.4 77.2,73.4 78.0,74.5 78.9,74.3 79.7,76.7 80.5,75.1 81.3,73.2 82.1,71.9 82.9,70.1 83.7,70.2 84.5,67.4 85.3,68.2 86.2,69.6 87.0,71.5 87.8,70.7 88.6,73.0 89.4,71.3 90.2,70.9 91.0,67.9 91.8,67.4 92.6,67.1 93.4,70.5 94.2,71.4 95.1,69.5 95.9,70.7 96.7,71.4 97.5,70.9 98.3,70.9 99.1,70.4 99.9,69.6 100.7,67.2 101.5,68.0 102.3,70.8 103.2,73.0 104.0,71.9 104.8,70.4 105.6,70.2 106.4,71.7 107.2,72.0 108.0,70.7 108.8,71.3 109.6,70.8 110.5,71.6 111.3,70.7 112.1,68.4 112.9,69.2 113.7,70.8 114.5,69.1 115.3,69.4 116.1,71.1 116.9,70.4 117.7,69.5 118.5,73.0 119.4,73.7 120.2,74.5 121.0,71.9 121.8,74.2 122.6,70.6 123.4,69.8 124.2,71.2 125.0,73.2 125.8,71.0 126.6,69.9 127.5,70.5 128.3,67.5 129.1,69.4 129.9,70.7 130.7,70.0" fill="none" stroke="#c3c3c3" stroke-width="0.6" stroke-linejoin="round"/>
<polyline points="33.5,72.4 34.3,72.5 35.1,72.9 35.9,74.8 36.7,73.0 37.5,72.8 38.4,71.5 39.2,73.0 40.0,71.9 40.8,72.4 41.6,72.3 42.4,72.0 43.2,74.5 44.0,73.4 44.8,75.0 45.6,75.2 46.5,76.1 47.3,74.5 48.1,75.0 48.9,75.1 49.7,73.0 50.5,72.9 51.3,72.2 52.1,71.9 52.9,73.7 53.8,71.9 54.6,69.1 55.4,66.9 56.2,67.4 57.0,67.5 57.8,68.5 58.6,70.1 59.4,73.1 60.2,73.1 61.0,73.2 61.8,71.5 62.7,72.3 63.5,74.1 64.3,75.3 65.1,71.1 65.9,72.5 66.7,74.6 67.5,74.9 68.3,71.5 69.1,71.0 69.9,71.9 70.8,72.3 71.6,70.8 72.4,69.5 73.2,71.4 74.0,69.3 74.8,72.0 75.6,71.8 76.4,72.1 77.2,69.8 78.0,69.2 78.9,70.8 79.7,68.7 80.5,72.5 81.3,70.0 82.1,68.4 82.9,69.3 83.7,70.5 84.5,71.8 85.3,71.1 86.2,70.8 87.0,70.5 87.8,69.8 88.6,66.2 89.4,69.1 90.2,70.0 91.0,70.6 91.8,69.8 92.6,70.6 93.4,70.7 94.2,70.7 95.1,72.5 95.9,69.5 96.7,70.3 97.5,68.9 98.3,69.1 99.1,72.0 99.9,70.1 100.7,70.2 101.5,69.6 102.3,71.5 103.2,69.9 104.0,67.6 104.8,69.4 105.6,69.4 106.4,69.4 107.2,71.5 108.0,70.1 108.8,69.8 109.6,70.4 110.5,71.2 111.3,70.4 112.1,72.2 112.9,75.4 113.7,73.6 114.5,75.8 115.3,71.2 116.1,73.4 116.9,72.2 117.7,72.1 118.5,71.3 119.4,70.3 120.2,68.6 121.0,68.7 121.8,71.4 122.6,73.1 123.4,72.0 124.2,70.9 125.0,69.9 125.8,68.4 126.6,72.0 127.5,72.8 128.3,72.5 129.1,71.4 129.9,69.7 130.7,72.1" fill="none" stroke="#c3c3c3" stroke-width="0.6" stroke-linejoin="round"/>
<polyline points="33.5,69.8 34.3,71.8 35.1,69.9 35.9,71.3 36.7,69.8 37.5,69.6 38.4,70.8 39.2,71.6 40.0,73.1 40.8,71.3 41.6,73.7 42.4,75.1 43.2,74.0 44.0,74.0 44.8,72.0 45.6,71.6 46.5,69.5 47.3,70.1 48.1,70.8 48.9,73.0 49.7,74.0 50.5,74.5 51.3,73.0 52.1,72.2 52.9,71.4 53.8,71.7 54.6,68.6 55.4,70.6 56.2,68.4 57.0,68.4 57.8,69.2 58.6,69.0 59.4,72.2 60.2,71.8 61.0,74.1 61.8,75.1 62.7,73.3 63.5,73.3 64.3,74.8 65.1,73.3 65.9,72.9 66.7,71.6 67.5,71.6 68.3,71.0 69.1,71.2 69.9,72.7 70.8,74.5 71.6,73.8 72.4,73.4 73.2,74.1 74.0,72.9 74.8,70.8 75.6,72.7 76.4,70.8 77.2,72.4 78.0,70.6 78.9,73.6 79.7,71.4 80.5,72.6 81.3,74.6 82.1,72.2 82.9,74.2 83.7,72.1 84.5,69.2 85.3,70.9 86.2,72.1 87.0,71.5 87.8,67.6 88.6,68.5 89.4,68.8 90.2,68.9 91.0,69.2 91.8,67.0 92.6,67.3 93.4,71.2 94.2,73.6 95.1,72.4 95.9,71.0 96.7,71.7 97.5,73.2 98.3,73.8 99.1,71.3 99.9,71.5 100.7,71.7 101.5,73.8 102.3,74.9 103.2,74.7 104.0,75.6 104.8,73.8 105.6,75.5 106.4,73.6 107.2,73.6 108.0,74.4 108.8,72.1 109.6,70.8 110.5,68.2 111.3,69.3 112.1,69.8 112.9,69.7 113.7,70.9 114.5,67.8 115.3,68.7 116.1,69.6 116.9,69.6 117.7,71.3 118.5,74.0 119.4,72.6 120.2,70.8 121.0,70.0 121.8,70.5 122.6,71.6 123.4,70.2 124.2,72.0 125.0,70.3 125.8,71.8 126.6,72.3 127.5,72.8 128.3,75.7 129.1,74.0 129.9,73.0 130.7,73.3" fill="none" stroke="#c3c3c3" stroke-width="0.6" stroke-linejoin="round"/>
<polyline points="33.5,67.8 34.3,68.8 35.1,68.0 35.9,69.5 36.7,71.7 37.5,71.3 38.4,70.7 39.2,70.8 40.0,66.0 40.8,68.2 41.6,69.6 42.4,69.9 43.2,69.3 44.0,68.3 44.8,68.5 45.6,70.7 46.5,70.3 47.3,72.3 48.1,67.6 48.9,67.6 49.7,68.6 50.5,69.0 51.3,66.7 52.1,66.5 52.9,69.4 53.8,67.5 54.6,66.7 55.4,65.9 56.2,66.1 57.0,68.2 57.8,69.6 58.6,66.5 59.4,69.7 60.2,68.8 61.0,68.2 61.8,71.2 62.7,70.7 63.5,68.6 64.3,68.0 65.1,67.4 65.9,66.5 66.7,66.9 67.5,69.1 68.3,69.9 69.1,67.7 69.9,72.6 70.8,70.3 71.6,70.4 72.4,70.3 73.2,71.3 74.0,70.4 74.8,71.0 75.6,73.9 76.4,72.9 77.2,70.4 78.0,70.8 78.9,69.3 79.7,68.9 80.5,69.4 81.3,70.1 82.1,69.6 82.9,71.0 83.7,70.4 84.5,68.2 85.3,70.0 86.2,69.4 87.0,71.4 87.8,70.0 88.6,70.8 89.4,71.0 90.2,66.6 91.0,65.2 91.8,64.8 92.6,68.4 93.4,65.9 94.2,68.4 95.1,70.5 95.9,71.1 96.7,71.8 97.5,70.5 98.3,70.3 99.1,70.5 99.9,71.0 100.7,71.8 101.5,70.9 102.3,69.5 103.2,68.8 104.0,69.7 104.8,67.2 105.6,66.0 106.4,66.5 107.2,66.6 108.0,67.1 108.8,63.8 109.6,64.9 110.5,65.9 111.3,68.2 112.1,65.6 112.9,66.4 113.7,68.1 114.5,69.3 115.3,71.3 116.1,72.5 116.9,70.2 117.7,71.1 118.5,70.2 119.4,68.9 120.2,71.5 121.0,70.1 121.8,68.7 122.6,68.4 123.4,67.5 124.2,69.7 125.0,70.3 125.8,72.4 126.6,72.3 127.5,70.7 128.3,72.1 129.1,70.4 129.9,69.6 130.7,69.4" fill="none" stroke="#c3c3c3" stroke-width="0.6" stroke-linejoin="round"/>
<polyline points="33.5,74.0 34.3,72.6 35.1,73.0 35.9,72.7 36.7,70.6 37.5,69.4 38.4,69.8 39.2,71.1 40.0,71.9 40.8,72.7 41.6,72.6 42.4,71.8 43.2,72.6 44.0,70.9 44.8,69.2 45.6,69.5 46.5,68.1 47.3,68.4 48.1,68.3 48.9,68.6 49.7,69.5 50.5,69.0 51.3,69.3 52.1,67.4 52.9,69.0 53.8,68.5 54.6,70.2 55.4,66.4 56.2,66.8 57.0,68.7 57.8,65.9 58.6,67.1 59.4,68.7 60.2,69.8 61.0,68.2 61.8,69.6 62.7,70.6 63.5,69.5 64.3,71.4 65.1,71.6 65.9,71.8 66.7,71.2 67.5,72.3 68.3,72.4 69.1,74.1 69.9,74.3 70.8,72.7 71.6,72.2 72.4,73.6 73.2,72.7 74.0,73.1 74.8,73.7 75.6,73.0 76.4,69.2 77.2,70.2 78.0,71.1 78.9,71.6 79.7,70.6 80.5,72.9 81.3,72.5 82.1,71.4 82.9,70.5 83.7,71.6 84.5,70.0 85.3,69.1 86.2,73.1 87.0,74.8 87.8,75.7 88.6,76.9 89.4,76.5 90.2,72.7 91.0,74.4 91.8,75.7 92.6,75.5 93.4,71.5 94.2,73.6 95.1,75.3 95.9,73.7 96.7,73.5 97.5,74.3 98.3,73.6 99.1,74.9 99.9,74.3 100.7,74.8 101.5,74.2 102.3,71.3 103.2,70.0 104.0,75.5 104.8,75.0 105.6,76.3 106.4,76.9 107.2,77.7 108.0,77.4 108.8,75.0 109.6,74.3 110.5,70.7 111.3,70.8 112.1,72.6 112.9,69.1 113.7,70.3 114.5,72.1 115.3,74.2 116.1,72.2 116.9,71.2 117.7,68.5 118.5,68.0 119.4,70.0 120.2,73.8 121.0,71.6 121.8,73.9 122.6,74.1 123.4,72.8 124.2,76.0 125.0,71.0 125.8,71.2 126.6,71.9 127.5,75.3 128.3,77.2 129.1,77.7 129.9,77.5 130.7,77.6" fill="none" stroke="#c3c3c3" stroke-width="0.6" stroke-linejoin="round"/>
<polyline points="33.5,73.6 34.3,73.9 35.1,73.3 35.9,72.5 36.7,70.7 37.5,74.3 38.4,73.2 39.2,69.8 40.0,71.0 40.8,71.5 41.6,72.1 42.4,75.1 43.2,74.3 44.0,73.4 44.8,72.1 45.6,72.2 46.5,71.7 47.3,72.3 48.1,77.3 48.9,76.6 49.7,74.2 50.5,76.8 51.3,77.0 52.1,77.1 52.9,77.0 53.8,77.1 54.6,76.9 55.4,77.7 56.2,77.7 57.0,77.7 57.8,76.2 58.6,75.3 59.4,73.4 60.2,74.7 61.0,75.5 61.8,74.0 62.7,74.5 63.5,77.7 64.3,77.7 65.1,75.2 65.9,74.4 66.7,74.9 67.5,74.2 68.3,74.4 69.1,75.8 69.9,75.5 70.8,73.0 71.6,74.0 72.4,73.5 73.2,73.5 74.0,72.4 74.8,70.3 75.6,69.1 76.4,69.6 77.2,68.8 78.0,65.7 78.9,69.4 79.7,68.6 80.5,68.6 81.3,70.6 82.1,67.4 82.9,71.0 83.7,70.3 84.5,72.0 85.3,71.5 86.2,72.3 87.0,72.6 87.8,72.6 88.6,69.8 89.4,68.4 90.2,69.5 91.0,72.6 91.8,71.8 92.6,72.9 93.4,73.1 94.2,73.8 95.1,75.0 95.9,72.1 96.7,72.7 97.5,72.4 98.3,72.0 99.1,70.9 99.9,70.2 100.7,69.3 101.5,68.6 102.3,73.6 103.2,76.0 104.0,75.1 104.8,75.6 105.6,73.3 106.4,68.8 107.2,67.1 108.0,68.9 108.8,72.2 109.6,72.3 110.5,70.9 111.3,71.0 112.1,69.9 112.9,68.6 113.7,69.4 114.5,69.7 115.3,69.3 116.1,68.9 116.9,68.5 117.7,70.1 118.5,73.0 119.4,72.6 120.2,76.1 121.0,72.7 121.8,73.1 122.6,71.2 123.4,71.4 124.2,71.9 125.0,73.0 125.8,74.7 126.6,73.3 127.5,71.2 128.3,71.3 129.1,72.2 129.9,71.3 130.7,73.1" fill="none" stroke="#c3c3c3" stroke-width="0.6" stroke-linejoin="round"/>
<polyline points="33.5,69.0 34.3,70.2 35.1,72.0 35.9,68.8 36.7,69.8 37.5,69.8 38.4,68.0 39.2,70.9 40.0,71.3 40.8,70.6 41.6,71.4 42.4,72.4 43.2,73.2 44.0,73.6 44.8,73.5 45.6,71.0 46.5,70.4 47.3,70.8 48.1,66.6 48.9,71.2 49.7,70.6 50.5,69.1 51.3,66.9 52.1,68.5 52.9,69.3 53.8,68.9 54.6,68.9 55.4,68.1 56.2,67.8 57.0,68.6 57.8,68.3 58.6,70.2 59.4,70.2 60.2,70.7 61.0,71.5 61.8,73.4 62.7,73.7 63.5,73.4 64.3,72.5 65.1,70.9 65.9,70.4 66.7,71.7 67.5,71.9 68.3,71.1 69.1,69.0 69.9,67.3 70.8,68.9 71.6,71.1 72.4,71.7 73.2,69.4 74.0,69.6 74.8,70.4 75.6,69.2 76.4,70.3 77.2,70.2 78.0,69.2 78.9,67.8 79.7,70.0 80.5,70.9 81.3,69.6 82.1,68.5 82.9,70.6 83.7,71.7 84.5,71.1 85.3,73.6 86.2,72.5 87.0,70.5 87.8,72.4 88.6,71.7 89.4,72.1 90.2,71.9 91.0,70.2 91.8,68.6 92.6,69.0 93.4,71.8 94.2,70.1 95.1,72.5 95.9,72.5 96.7,70.4 97.5,71.0 98.3,72.0 99.1,70.3 99.9,67.3 100.7,68.9 101.5,67.8 102.3,69.4 103.2,67.0 104.0,67.9 104.8,67.6 105.6,66.3 106.4,67.3 107.2,68.6 108.0,68.5 108.8,67.4 109.6,68.8 110.5,66.7 111.3,68.8 112.1,70.2 112.9,73.1 113.7,74.0 114.5,73.7 115.3,73.4 116.1,72.8 116.9,70.3 117.7,72.8 118.5,73.2 119.4,72.2 120.2,70.1 121.0,72.7 121.8,73.1 122.6,70.7 123.4,71.9 124.2,74.7 125.0,73.7 125.8,73.6 126.6,72.3 127.5,71.0 128.3,72.7 129.1,77.1 129.9,75.6 130.7,74.2" fill="none" stroke="#c3c3c3" stroke-width="0.6" stroke-linejoin="round"/>
<polyline points="33.5,69.1 34.3,70.4 35.1,71.4 35.9,69.3 36.7,67.7 37.5,68.1 38.4,69.8 39.2,70.2 40.0,72.0 40.8,69.2 41.6,70.0 42.4,68.9 43.2,69.3 44.0,69.9 44.8,68.3 45.6,68.3 46.5,66.8 47.3,68.0 48.1,67.1 48.9,67.1 49.7,68.1 50.5,67.5 51.3,69.9 52.1,68.8 52.9,70.3 53.8,70.6 54.6,68.7 55.4,68.6 56.2,67.6 57.0,67.6 57.8,67.7 58.6,71.1 59.4,70.0 60.2,72.3 61.0,72.3 61.8,69.5 62.7,65.9 63.5,68.0 64.3,65.4 65.1,67.7 65.9,69.8 66.7,70.3 67.5,69.8 68.3,69.4 69.1,69.8 69.9,69.3 70.8,68.5 71.6,68.3 72.4,70.4 73.2,69.2 74.0,69.9 74.8,68.0 75.6,67.4 76.4,65.9 77.2,66.6 78.0,68.5 78.9,69.3 79.7,68.6 80.5,69.8 81.3,69.2 82.1,69.9 82.9,70.2 83.7,70.9 84.5,66.7 85.3,65.5 86.2,67.8 87.0,68.2 87.8,72.0 88.6,71.0 89.4,69.7 90.2,72.0 91.0,72.2 91.8,74.4 92.6,73.8 93.4,72.3 94.2,72.7 95.1,70.6 95.9,69.6 96.7,68.8 97.5,68.6 98.3,70.1 99.1,69.2 99.9,69.8 100.7,69.0 101.5,70.5 102.3,66.0 103.2,66.7 104.0,67.8 104.8,66.6 105.6,69.0 106.4,69.5 107.2,71.5 108.0,72.5 108.8,72.7 109.6,71.6 110.5,69.3 111.3,69.1 112.1,68.5 112.9,69.2 113.7,68.6 114.5,73.6 115.3,70.0 116.1,71.7 116.9,70.4 117.7,69.8 118.5,71.2 119.4,70.7 120.2,68.5 121.0,69.5 121.8,69.2 122.6,66.1 123.4,67.4 124.2,66.4 125.0,66.1 125.8,67.8 126.6,68.8 127.5,68.6 128.3,72.2 129.1,72.1 129.9,70.5 130.7,70.6" fill="none" stroke="#c3c3c3" stroke-width="0.6" stroke-linejoin="round"/>
<polyline points="33.5,65.8 34.3,64.3 35.1,63.6 35.9,68.3 36.7,68.3 37.5,68.1 38.4,67.6 39.2,69.5 40.0,69.5 40.8,72.1 41.6,72.5 42.4,74.1 43.2,72.6 44.0,72.2 44.8,70.7 45.6,70.0 46.5,67.1 47.3,66.8 48.1,66.0 48.9,65.9 49.7,68.7 50.5,69.3 51.3,71.1 52.1,71.9 52.9,72.6 53.8,73.2 54.6,71.2 55.4,71.9 56.2,70.6 57.0,69.4 57.8,71.2 58.6,74.0 59.4,71.1 60.2,73.3 61.0,73.4 61.8,70.9 62.7,70.9 63.5,71.0 64.3,71.1 65.1,70.0 65.9,67.8 66.7,68.3 67.5,69.9 68.3,70.9 69.1,71.4 69.9,72.5 70.8,70.1 71.6,69.8 72.4,70.1 73.2,71.4 74.0,71.1 74.8,71.3 75.6,71.0 76.4,73.7 77.2,69.1 78.0,69.1 78.9,72.9 79.7,72.3 80.5,68.6 81.3,69.0 82.1,66.8 82.9,66.5 83.7,67.6 84.5,70.7 85.3,71.0 86.2,71.5 87.0,72.5 87.8,71.9 88.6,69.8 89.4,69.5 90.2,69.9 91.0,69.3 91.8,68.3 92.6,68.0 93.4,66.0 94.2,65.3 95.1,66.3 95.9,66.5 96.7,67.4 97.5,70.0 98.3,70.3 99.1,69.9 99.9,67.9 100.7,66.6 101.5,67.9 102.3,66.9 103.2,68.2 104.0,66.9 104.8,67.7 105.6,68.0 106.4,69.9 107.2,69.1 108.0,68.6 108.8,69.1 109.6,69.2 110.5,71.8 111.3,70.7 112.1,69.5 112.9,68.9 113.7,69.7 114.5,69.9 115.3,70.8 116.1,68.2 116.9,72.3 117.7,74.3 118.5,72.8 119.4,70.0 120.2,70.0 121.0,70.4 121.8,66.6 122.6,67.4 123.4,65.6 124.2,67.3 125.0,70.0 125.8,71.4 126.6,68.5 127.5,70.8 128.3,71.8 129.1,70.5 129.9,70.9 130.7,72.8" fill="none" stroke="#c3c3c3" stroke-width="0.6" stroke-linejoin="round"/>
<polyline points="33.5,67.9 34.3,67.1 35.1,69.1 35.9,65.5 36.7,68.4 37.5,66.8 38.4,68.5 39.2,65.9 40.0,65.0 40.8,64.9 41.6,67.0 42.4,64.8 43.2,66.6 44.0,66.0 44.8,68.5 45.6,67.9 46.5,68.6 47.3,68.2 48.1,70.9 48.9,69.5 49.7,69.0 50.5,71.8 51.3,70.8 52.1,71.1 52.9,69.1 53.8,69.1 54.6,65.3 55.4,66.2 56.2,65.7 57.0,64.0 57.8,62.9 58.6,66.1 59.4,67.3 60.2,65.1 61.0,68.7 61.8,67.4 62.7,67.0 63.5,67.7 64.3,66.0 65.1,64.1 65.9,64.0 66.7,66.9 67.5,68.7 68.3,66.0 69.1,68.4 69.9,68.4 70.8,69.0 71.6,68.8 72.4,69.2 73.2,67.3 74.0,66.1 74.8,65.5 75.6,65.6 76.4,67.2 77.2,65.6 78.0,68.7 78.9,67.5 79.7,66.7 80.5,68.2 81.3,68.8 82.1,68.0 82.9,66.4 83.7,65.3 84.5,63.6 85.3,66.6 86.2,68.6 87.0,71.3 87.8,71.1 88.6,70.8 89.4,71.1 90.2,71.7 91.0,70.3 91.8,70.2 92.6,72.9 93.4,68.9 94.2,66.5 95.1,65.4 95.9,67.3 96.7,69.3 97.5,68.4 98.3,69.3 99.1,68.9 99.9,69.1 100.7,67.9 101.5,67.9 102.3,67.9 103.2,69.7 104.0,72.6 104.8,68.5 105.6,69.2 106.4,68.8 107.2,70.1 108.0,71.1 108.8,71.4 109.6,71.7 110.5,69.2 111.3,66.2 112.1,69.3 112.9,70.8 113.7,68.5 114.5,70.4 115.3,70.7 116.1,66.2 116.9,68.1 117.7,66.5 118.5,68.7 119.4,67.4 120.2,66.4 121.0,64.5 121.8,65.1 122.6,67.5 123.4,66.6 124.2,64.1 125.0,68.5 125.8,71.2 126.6,71.4 127.5,69.6 128.3,67.3 129.1,64.9 129.9,66.6 130.7,69.0" fill="none" stroke="#c3c3c3" stroke-width="0.6" stroke-linejoin="round"/>
<polyline points="33.5,73.2 34.3,72.8 35.1,72.5 35.9,73.5 36.7,76.7 37.5,74.7 38.4,75.6 39.2,76.6 40.0,75.2 40.8,74.4 41.6,72.0 42.4,74.0 43.2,73.0 44.0,72.1 44.8,72.5 45.6,71.4 46.5,70.3 47.3,70.7 48.1,73.7 48.9,73.2 49.7,74.0 50.5,71.6 51.3,69.0 52.1,73.0 52.9,72.5 53.8,70.3 54.6,71.0 55.4,72.5 56.2,70.1 57.0,69.6 57.8,71.0 58.6,70.2 59.4,72.3 60.2,74.0 61.0,74.5 61.8,73.5 62.7,73.3 63.5,72.3 64.3,72.4 65.1,73.1 65.9,72.7 66.7,74.3 67.5,77.7 68.3,75.9 69.1,75.6 69.9,76.2 70.8,76.4 71.6,75.1 72.4,73.9 73.2,75.2 74.0,75.6 74.8,75.8 75.6,73.8 76.4,74.6 77.2,75.5 78.0,74.6 78.9,75.2 79.7,77.7 80.5,73.8 81.3,74.6 82.1,72.4 82.9,70.5 83.7,70.9 84.5,72.4 85.3,72.7 86.2,71.1 87.0,69.4 87.8,69.6 88.6,70.7 89.4,70.1 90.2,68.7 91.0,72.7 91.8,71.5 92.6,71.8 93.4,71.3 94.2,71.0 95.1,71.7 95.9,71.6 96.7,73.0 97.5,71.3 98.3,69.5 99.1,73.6 99.9,73.4 100.7,74.5 101.5,76.0 102.3,76.1 103.2,75.3 104.0,72.3 104.8,70.1 105.6,72.5 106.4,73.8 107.2,74.5 108.0,71.6 108.8,68.7 109.6,68.4 110.5,67.9 111.3,69.6 112.1,69.1 112.9,72.7 113.7,71.9 114.5,71.4 115.3,73.2 116.1,73.7 116.9,72.2 117.7,73.8 118.5,76.6 119.4,73.8 120.2,73.2 121.0,71.6 121.8,69.0 122.6,71.2 123.4,72.8 124.2,74.5 125.0,74.8 125.8,71.2 126.6,71.7 127.5,71.1 128.3,69.9 129.1,69.1 129.9,71.4 130.7,71.5" fill="none" stroke="#c3c3c3" stroke-width="0.6" stroke-linejoin="round"/>
<polyline points="33.5,121.0 35.1,119.0 36.7,123.4 38.4,123.8 40.0,119.1 41.6,113.9 43.2,90.4 44.8,90.4 46.5,91.9 48.1,92.5 49.7,98.8 51.3,96.0 52.9,106.9 54.6,111.6 56.2,108.3 57.8,103.2 59.4,106.6 61.0,108.6 62.7,102.6 64.3,104.3 65.9,109.0 67.5,111.8 69.1,108.9 70.8,110.7 72.4,105.0 74.0,99.6 75.6,109.5 77.2,105.7 78.9,108.0 80.5,107.4 82.1,110.8 83.7,106.4 85.3,114.7 87.0,110.4 88.6,111.9 90.2,112.4 91.8,114.0 93.4,111.9 95.1,102.7 96.7,104.8 98.3,115.4 99.9,111.9 101.5,112.2 103.2,111.8 104.8,107.0 106.4,106.4 108.0,106.3 109.6,112.7 111.3,110.6 112.9,116.3 114.5,111.7 116.1,116.7 117.7,112.0 119.4,104.7 121.0,115.2 122.6,110.6 124.2,113.4 125.8,110.1 127.5,107.3 129.1,108.5 130.7,102.9" fill="none" stroke="#c3c3c3" stroke-width="0.6" stroke-linejoin="round"/>
<polyline points="33.5,120.1 35.1,119.2 36.7,121.9 38.4,120.1 40.0,120.8 41.6,118.2 43.2,103.3 44.8,103.2 46.5,100.6 48.1,101.6 49.7,105.2 51.3,100.7 52.9,108.8 54.6,115.2 56.2,122.7 57.8,112.3 59.4,113.5 61.0,115.8 62.7,121.5 64.3,118.3 65.9,120.0 67.5,110.2 69.1,111.4 70.8,121.4 72.4,115.8 74.0,125.3 75.6,114.5 77.2,114.3 78.9,108.6 80.5,116.9 82.1,116.6 83.7,123.9 85.3,117.5 87.0,114.9 88.6,110.0 90.2,114.5 91.8,119.2 93.4,119.2 95.1,121.0 96.7,118.8 98.3,115.0 99.9,117.6 101.5,116.7 103.2,110.4 104.8,121.5 106.4,118.0 108.0,111.6 109.6,115.6 111.3,116.0 112.9,119.2 114.5,121.2 116.1,103.4 117.7,115.7 119.4,121.5 121.0,112.1 122.6,106.4 124.2,114.3 125.8,115.9 127.5,116.1 129.1,109.9 130.7,110.9" fill="none" stroke="#c3c3c3" stroke-width="0.6" stroke-linejoin="round"/>
<polyline points="33.5,123.9 35.1,120.0 36.7,120.2 38.4,121.6 40.0,120.9 41.6,122.7 43.2,99.5 44.8,102.4 46.5,108.9 48.1,102.8 49.7,109.6 51.3,109.9 52.9,112.6 54.6,105.8 56.2,110.8 57.8,109.4 59.4,103.8 61.0,105.0 62.7,107.3 64.3,115.2 65.9,116.9 67.5,118.1 69.1,117.8 70.8,112.9 72.4,119.6 74.0,120.0 75.6,118.1 77.2,117.5 78.9,109.8 80.5,115.5 82.1,110.7 83.7,109.4 85.3,112.8 87.0,115.3 88.6,115.1 90.2,113.8 91.8,110.7 93.4,115.3 95.1,111.9 96.7,107.7 98.3,113.5 99.9,120.4 101.5,114.3 103.2,110.7 104.8,119.8 106.4,122.8 108.0,114.9 109.6,113.2 111.3,114.9 112.9,126.6 114.5,116.6 116.1,118.7 117.7,117.1 119.4,107.6 121.0,108.9 122.6,108.0 124.2,114.7 125.8,114.6 127.5,121.4 129.1,113.6 130.7,114.2" fill="none" stroke="#c3c3c3" stroke-width="0.6" stroke-linejoin="round"/>
<polyline points="33.5,122.6 35.1,120.1 36.7,120.3 38.4,122.5 40.0,120.1 41.6,120.2 43.2,94.9 44.8,94.5 46.5,99.3 48.1,104.5 49.7,107.0 51.3,108.3 52.9,95.9 54.6,111.0 56.2,107.8 57.8,99.4 59.4,101.2 61.0,96.3 62.7,99.9 64.3,94.9 65.9,98.9 67.5,106.4 69.1,107.1 70.8,104.3 72.4,107.1 74.0,108.5 75.6,109.0 77.2,108.4 78.9,107.2 80.5,111.6 82.1,102.1 83.7,105.4 85.3,108.6 87.0,107.0 88.6,106.3 90.2,106.6 91.8,109.1 93.4,113.9 95.1,108.6 96.7,106.5 98.3,109.0 99.9,107.4 101.5,100.7 103.2,108.7 104.8,106.9 106.4,106.1 108.0,110.8 109.6,108.3 111.3,105.6 112.9,98.8 114.5,99.4 116.1,106.7 117.7,107.6 119.4,110.0 121.0,109.3 122.6,105.8 124.2,102.0 125.8,102.4 127.5,106.3 129.1,102.4 130.7,109.0" fill="none" stroke="#c3c3c3" stroke-width="0.6" stroke-linejoin="round"/>
<polyline points="33.5,119.3 35.1,121.8 36.7,122.9 38.4,125.0 40.0,119.2 41.6,120.3 43.2,97.8 44.8,102.1 46.5,99.0 48.1,105.7 49.7,109.5 51.3,106.5 52.9,109.3 54.6,105.6 56.2,114.2 57.8,105.4 59.4,112.7 61.0,95.2 62.7,105.2 64.3,104.4 65.9,107.8 67.5,111.4 69.1,109.6 70.8,106.9 72.4,112.0 74.0,97.8 75.6,97.9 77.2,109.5 78.9,107.9 80.5,98.5 82.1,107.1 83.7,102.2 85.3,112.5 87.0,112.7 88.6,106.0 90.2,112.5 91.8,104.5 93.4,110.7 95.1,110.0 96.7,106.0 98.3,100.3 99.9,104.7 101.5,97.5 103.2,103.5 104.8,98.8 106.4,111.0 108.0,103.7 109.6,95.7 111.3,107.1 112.9,108.2 114.5,104.5 116.1,114.8 117.7,111.2 119.4,107.7 121.0,104.1 122.6,93.5 124.2,106.0 125.8,110.1 127.5,104.3 129.1,99.6 130.7,104.0" fill="none" stroke="#c3c3c3" stroke-width="0.6" stroke-linejoin="round"/>
<polyline points="33.5,120.0 35.1,118.6 36.7,119.8 38.4,121.1 40.0,120.6 41.6,121.7 43.2,108.7 44.8,107.6 46.5,112.3 48.1,116.5 49.7,118.5 51.3,119.2 52.9,111.5 54.6,112.9 56.2,123.0 57.8,117.4 59.4,116.2 61.0,112.4 62.7,118.5 64.3,114.7 65.9,111.8 67.5,114.1 69.1,111.9 70.8,117.6 72.4,114.2 74.0,116.2 75.6,114.5 77.2,116.2 78.9,112.1 80.5,118.7 82.1,109.2 83.7,111.5 85.3,108.8 87.0,111.7 88.6,109.7 90.2,113.5 91.8,112.5 93.4,111.6 95.1,109.6 96.7,111.6 98.3,111.3 99.9,115.1 101.5,116.4 103.2,119.2 104.8,114.8 106.4,111.8 108.0,109.9 109.6,113.4 111.3,115.3 112.9,122.4 114.5,115.9 116.1,121.5 117.7,123.2 119.4,111.4 121.0,118.8 122.6,119.0 124.2,119.9 125.8,114.7 127.5,117.8 129.1,112.0 130.7,112.2" fill="none" stroke="#c3c3c3" stroke-width="0.6" stroke-linejoin="round"/>
<polyline points="33.5,119.2 35.1,121.1 36.7,120.5 38.4,121.2 40.0,119.0 41.6,119.2 43.2,91.4 44.8,99.6 46.5,102.7 48.1,109.9 49.7,107.5 51.3,113.7 52.9,115.3 54.6,118.0 56.2,117.2 57.8,119.3 59.4,118.8 61.0,122.4 62.7,121.0 64.3,121.8 65.9,118.1 67.5,123.0 69.1,124.2 70.8,118.2 72.4,122.8 74.0,122.5 75.6,120.5 77.2,114.8 78.9,126.1 80.5,113.0 82.1,120.0 83.7,118.4 85.3,124.4 87.0,119.0 88.6,120.2 90.2,122.6 91.8,122.1 93.4,117.8 95.1,120.5 96.7,116.7 98.3,118.4 99.9,114.7 101.5,118.4 103.2,118.2 104.8,116.0 106.4,120.5 108.0,121.7 109.6,125.1 111.3,118.6 112.9,120.9 114.5,124.1 116.1,119.4 117.7,119.8 119.4,120.2 121.0,116.7 122.6,114.3 124.2,122.7 125.8,120.2 127.5,118.8 129.1,113.4 130.7,117.6" fill="none" stroke="#c3c3c3" stroke-width="0.6" stroke-linejoin="round"/>
<polyline points="33.5,121.3 35.1,120.7 36.7,124.5 38.4,122.2 40.0,120.8 41.6,121.0 43.2,90.4 44.8,90.4 46.5,95.5 48.1,101.0 49.7,108.7 51.3,93.3 52.9,95.0 54.6,98.0 56.2,109.6 57.8,117.3 59.4,108.3 61.0,106.6 62.7,112.0 64.3,99.4 65.9,107.1 67.5,95.3 69.1,106.2 70.8,106.0 72.4,107.0 74.0,111.0 75.6,107.4 77.2,113.5 78.9,109.6 80.5,110.7 82.1,119.8 83.7,109.1 85.3,113.3 87.0,106.8 88.6,114.5 90.2,114.5 91.8,110.9 93.4,114.1 95.1,116.9 96.7,115.4 98.3,109.8 99.9,109.3 101.5,114.4 103.2,104.7 104.8,106.4 106.4,111.4 108.0,112.4 109.6,116.9 111.3,117.3 112.9,111.6 114.5,109.8 116.1,100.1 117.7,102.0 119.4,105.5 121.0,106.4 122.6,108.3 124.2,111.2 125.8,105.4 127.5,106.1 129.1,100.9 130.7,111.4" fill="none" stroke="#c3c3c3" stroke-width="0.6" stroke-linejoin="round"/>
<polyline points="33.5,121.2 35.1,121.0 36.7,124.6 38.4,120.3 40.0,119.8 41.6,121.3 43.2,109.6 44.8,101.7 46.5,106.2 48.1,107.9 49.7,116.8 51.3,115.7 52.9,110.4 54.6,110.6 56.2,120.1 57.8,109.5 59.4,117.7 61.0,115.3 62.7,124.7 64.3,123.3 65.9,116.9 67.5,116.1 69.1,115.0 70.8,113.8 72.4,117.7 74.0,122.2 75.6,112.4 77.2,115.7 78.9,122.8 80.5,120.9 82.1,114.4 83.7,113.6 85.3,113.3 87.0,110.3 88.6,121.1 90.2,118.3 91.8,114.6 93.4,111.2 95.1,114.7 96.7,113.8 98.3,122.9 99.9,116.0 101.5,117.7 103.2,121.8 104.8,120.5 106.4,117.1 108.0,108.4 109.6,120.7 111.3,119.5 112.9,115.4 114.5,115.9 116.1,112.6 117.7,112.6 119.4,110.3 121.0,117.8 122.6,118.4 124.2,117.1 125.8,119.6 127.5,118.9 129.1,116.8 130.7,111.8" fill="none" stroke="#c3c3c3" stroke-width="0.6" stroke-linejoin="round"/>
<polyline points="33.5,121.4 35.1,119.0 36.7,121.2 38.4,119.3 40.0,123.4 41.6,122.8 43.2,90.4 44.8,91.1 46.5,94.3 48.1,99.3 49.7,95.6 51.3,106.0 52.9,112.1 54.6,108.4 56.2,114.3 57.8,114.0 59.4,105.6 61.0,114.1 62.7,105.1 64.3,109.4 65.9,111.3 67.5,117.0 69.1,112.5 70.8,111.7 72.4,109.7 74.0,113.5 75.6,113.4 77.2,115.8 78.9,118.6 80.5,116.4 82.1,113.3 83.7,112.3 85.3,119.3 87.0,114.8 88.6,113.4 90.2,120.4 91.8,120.4 93.4,116.6 95.1,113.0 96.7,109.4 98.3,116.0 99.9,111.4 101.5,116.8 103.2,110.6 104.8,112.9 106.4,114.8 108.0,113.9 109.6,113.2 111.3,113.9 112.9,108.3 114.5,107.2 116.1,111.0 117.7,119.7 119.4,113.3 121.0,108.9 122.6,108.7 124.2,111.6 125.8,116.8 127.5,110.5 129.1,113.7 130.7,112.1" fill="none" stroke="#c3c3c3" stroke-width="0.6" stroke-linejoin="round"/>
<polyline points="33.5,122.6 35.1,118.3 36.7,121.4 38.4,123.3 40.0,119.2 41.6,119.1 43.2,96.3 44.8,100.2 46.5,99.8 48.1,103.1 49.7,105.2 51.3,103.3 52.9,105.2 54.6,112.8 56.2,105.4 57.8,108.7 59.4,116.0 61.0,111.6 62.7,111.7 64.3,115.5 65.9,109.0 67.5,106.1 69.1,103.0 70.8,104.2 72.4,112.0 74.0,116.0 75.6,111.1 77.2,109.0 78.9,112.6 80.5,114.1 82.1,113.0 83.7,104.3 85.3,108.5 87.0,101.2 88.6,111.4 90.2,108.5 91.8,108.7 93.4,117.6 95.1,117.9 96.7,113.7 98.3,112.4 99.9,112.3 101.5,109.7 103.2,111.5 104.8,119.3 106.4,109.6 108.0,108.8 109.6,111.2 111.3,114.6 112.9,115.2 114.5,107.8 116.1,110.1 117.7,110.2 119.4,106.4 121.0,110.9 122.6,108.7 124.2,114.1 125.8,113.1 127.5,108.1 129.1,110.4 130.7,108.4" fill="none" stroke="#c3c3c3" stroke-width="0.6" stroke-linejoin="round"/>
<polyline points="33.5,119.0 35.1,120.0 36.7,121.9 38.4,120.0 40.0,122.8 41.6,123.7 43.2,107.0 44.8,111.8 46.5,115.0 48.1,111.8 49.7,113.7 51.3,120.3 52.9,117.8 54.6,117.6 56.2,114.8 57.8,121.3 59.4,119.7 61.0,125.8 62.7,125.1 64.3,123.3 65.9,121.0 67.5,118.8 69.1,115.0 70.8,118.7 72.4,119.8 74.0,121.9 75.6,123.5 77.2,120.3 78.9,116.0 80.5,120.8 82.1,124.6 83.7,115.7 85.3,119.5 87.0,120.6 88.6,120.9 90.2,120.7 91.8,118.1 93.4,117.9 95.1,124.8 96.7,125.0 98.3,112.8 99.9,106.9 101.5,118.3 103.2,115.6 104.8,115.5 106.4,111.5 108.0,118.5 109.6,117.1 111.3,115.1 112.9,120.9 114.5,127.5 116.1,124.8 117.7,123.5 119.4,117.0 121.0,120.1 122.6,117.2 124.2,121.6 125.8,120.2 127.5,117.4 129.1,119.0 130.7,113.5" fill="none" stroke="#c3c3c3" stroke-width="0.6" stroke-linejoin="round"/>
<polyline points="33.5,119.0 35.1,118.5 36.7,122.8 38.4,121.5 40.0,121.6 41.6,120.4 43.2,91.1 44.8,99.0 46.5,96.6 48.1,104.5 49.7,104.4 51.3,105.4 52.9,105.7 54.6,116.3 56.2,106.4 57.8,112.4 59.4,114.4 61.0,104.8 62.7,109.6 64.3,120.4 65.9,117.3 67.5,99.8 69.1,107.3 70.8,103.3 72.4,111.7 74.0,109.2 75.6,109.1 77.2,107.7 78.9,111.7 80.5,109.3 82.1,107.3 83.7,109.9 85.3,112.9 87.0,108.4 88.6,115.7 90.2,105.7 91.8,112.2 93.4,110.3 95.1,117.6 96.7,108.9 98.3,107.7 99.9,105.4 101.5,118.8 103.2,115.3 104.8,107.7 106.4,109.8 108.0,107.5 109.6,116.2 111.3,113.3 112.9,103.3 114.5,110.5 116.1,114.5 117.7,111.8 119.4,113.3 121.0,111.0 122.6,111.3 124.2,111.5 125.8,108.0 127.5,111.6 129.1,111.1 130.7,109.6" fill="none" stroke="#c3c3c3" stroke-width="0.6" stroke-linejoin="round"/>
<polyline points="33.5,117.6 35.1,119.6 36.7,122.6 38.4,120.5 40.0,119.5 41.6,117.7 43.2,92.6 44.8,93.7 46.5,100.0 48.1,96.1 49.7,109.1 51.3,102.9 52.9,100.6 54.6,102.5 56.2,110.2 57.8,113.5 59.4,104.9 61.0,111.2 62.7,113.2 64.3,113.4 65.9,109.3 67.5,100.3 69.1,106.7 70.8,104.0 72.4,106.7 74.0,99.1 75.6,103.8 77.2,106.2 78.9,101.5 80.5,105.7 82.1,111.9 83.7,107.2 85.3,102.8 87.0,114.5 88.6,98.2 90.2,100.6 91.8,106.1 93.4,103.1 95.1,95.6 96.7,103.7 98.3,107.4 99.9,102.0 101.5,110.7 103.2,108.1 104.8,110.1 106.4,99.8 108.0,104.2 109.6,110.4 111.3,113.2 112.9,111.2 114.5,105.3 116.1,105.2 117.7,102.3 119.4,108.7 121.0,102.4 122.6,104.1 124.2,95.6 125.8,96.8 127.5,110.1 129.1,104.8 130.7,104.0" fill="none" stroke="#c3c3c3" stroke-width="0.6" stroke-linejoin="round"/>
<polyline points="33.5,119.7 35.1,120.8 36.7,121.4 38.4,121.1 40.0,120.1 41.6,121.1 43.2,97.7 44.8,101.6 46.5,108.2 48.1,108.0 49.7,108.9 51.3,101.6 52.9,107.5 54.6,113.9 56.2,111.4 57.8,112.5 59.4,104.7 61.0,104.9 62.7,113.3 64.3,119.2 65.9,113.8 67.5,106.4 69.1,109.6 70.8,106.1 72.4,111.6 74.0,121.7 75.6,116.1 77.2,113.1 78.9,117.1 80.5,112.1 82.1,114.3 83.7,114.2 85.3,115.2 87.0,107.7 88.6,115.5 90.2,117.3 91.8,104.6 93.4,101.2 95.1,107.8 96.7,117.4 98.3,113.2 99.9,115.7 101.5,116.0 103.2,117.4 104.8,111.1 106.4,110.7 108.0,114.4 109.6,115.0 111.3,115.1 112.9,114.5 114.5,110.8 116.1,116.7 117.7,115.4 119.4,117.6 121.0,103.2 122.6,114.8 124.2,102.6 125.8,111.7 127.5,109.5 129.1,112.0 130.7,109.3" fill="none" stroke="#c3c3c3" stroke-width="0.6" stroke-linejoin="round"/>
<polyline points="33.5,119.6 35.1,120.7 36.7,124.9 38.4,119.9 40.0,118.9 41.6,121.4 43.2,96.9 44.8,100.3 46.5,111.8 48.1,115.2 49.7,112.6 51.3,108.9 52.9,112.9 54.6,109.0 56.2,114.3 57.8,115.3 59.4,105.3 61.0,115.8 62.7,119.4 64.3,122.2 65.9,112.6 67.5,110.7 69.1,111.4 70.8,110.3 72.4,124.6 74.0,114.8 75.6,115.5 77.2,117.4 78.9,118.3 80.5,122.6 82.1,112.9 83.7,119.6 85.3,117.7 87.0,112.1 88.6,116.8 90.2,111.1 91.8,122.3 93.4,114.7 95.1,120.4 96.7,121.4 98.3,114.0 99.9,112.3 101.5,116.6 103.2,112.5 104.8,119.5 106.4,117.9 108.0,113.7 109.6,112.5 111.3,118.2 112.9,110.5 114.5,121.9 116.1,113.6 117.7,115.1 119.4,112.3 121.0,122.1 122.6,119.7 124.2,121.4 125.8,119.2 127.5,116.5 129.1,122.3 130.7,118.3" fill="none" stroke="#c3c3c3" stroke-width="0.6" stroke-linejoin="round"/>
<polyline points="33.5,123.3 35.1,121.4 36.7,119.8 38.4,119.2 40.0,122.1 41.6,120.4 43.2,105.5 44.8,109.0 46.5,114.1 48.1,106.4 49.7,102.3 51.3,101.5 52.9,108.5 54.6,110.6 56.2,112.9 57.8,112.1 59.4,108.4 61.0,103.1 62.7,110.9 64.3,112.7 65.9,113.8 67.5,115.5 69.1,104.6 70.8,99.1 72.4,101.3 74.0,118.1 75.6,107.5 77.2,111.0 78.9,109.4 80.5,112.3 82.1,122.9 83.7,109.3 85.3,108.8 87.0,107.0 88.6,110.3 90.2,111.9 91.8,105.7 93.4,114.4 95.1,114.8 96.7,111.0 98.3,108.4 99.9,108.0 101.5,102.6 103.2,111.2 104.8,105.5 106.4,106.8 108.0,113.1 109.6,105.3 111.3,105.9 112.9,112.0 114.5,116.7 116.1,107.0 117.7,113.3 119.4,107.0 121.0,110.2 122.6,110.4 124.2,103.9 125.8,112.0 127.5,116.3 129.1,109.4 130.7,108.6" fill="none" stroke="#c3c3c3" stroke-width="0.6" stroke-linejoin="round"/>
<polyline points="33.5,121.2 35.1,119.9 36.7,120.0 38.4,119.6 40.0,120.9 41.6,122.1 43.2,91.7 44.8,99.3 46.5,94.4 48.1,110.3 49.7,108.9 51.3,104.4 52.9,113.2 54.6,110.7 56.2,118.8 57.8,118.2 59.4,119.6 61.0,109.5 62.7,112.9 64.3,115.9 65.9,114.3 67.5,120.1 69.1,111.0 70.8,117.5 72.4,120.8 74.0,108.1 75.6,109.8 77.2,110.0 78.9,111.2 80.5,115.3 82.1,113.7 83.7,114.7 85.3,112.7 87.0,114.0 88.6,116.7 90.2,118.1 91.8,111.8 93.4,113.9 95.1,111.3 96.7,112.3 98.3,107.6 99.9,117.2 101.5,117.9 103.2,114.8 104.8,111.6 106.4,112.4 108.0,111.5 109.6,106.9 111.3,119.5 112.9,128.5 114.5,110.9 116.1,108.7 117.7,115.8 119.4,117.0 121.0,108.1 122.6,104.7 124.2,114.4 125.8,105.6 127.5,118.3 129.1,111.9 130.7,112.7" fill="none" stroke="#c3c3c3" stroke-width="0.6" stroke-linejoin="round"/>
<polyline points="33.5,120.3 35.1,124.0 36.7,122.4 38.4,120.7 40.0,122.8 41.6,123.1 43.2,114.8 44.8,110.9 46.5,106.6 48.1,112.3 49.7,112.0 51.3,103.7 52.9,103.0 54.6,118.3 56.2,115.4 57.8,115.0 59.4,112.4 61.0,108.8 62.7,113.3 64.3,117.5 65.9,112.5 67.5,114.0 69.1,115.4 70.8,110.2 72.4,112.9 74.0,109.9 75.6,114.5 77.2,110.8 78.9,116.1 80.5,109.1 82.1,118.2 83.7,111.5 85.3,108.4 87.0,107.7 88.6,114.2 90.2,108.8 91.8,118.8 93.4,118.3 95.1,114.9 96.7,105.4 98.3,110.0 99.9,108.3 101.5,104.0 103.2,112.6 104.8,120.8 106.4,111.1 108.0,115.0 109.6,116.7 111.3,107.9 112.9,109.4 114.5,111.9 116.1,113.2 117.7,107.0 119.4,111.7 121.0,110.9 122.6,114.5 124.2,104.7 125.8,107.6 127.5,108.3 129.1,108.7 130.7,112.5" fill="none" stroke="#c3c3c3" stroke-width="0.6" stroke-linejoin="round"/>
<polyline points="33.5,123.8 35.1,120.8 36.7,123.0 38.4,119.9 40.0,119.3 41.6,122.0 43.2,100.2 44.8,96.9 46.5,113.0 48.1,106.7 49.7,107.7 51.3,113.5 52.9,105.7 54.6,108.2 56.2,118.6 57.8,111.6 59.4,123.1 61.0,114.6 62.7,125.2 64.3,117.3 65.9,116.0 67.5,111.8 69.1,112.0 70.8,111.7 72.4,114.4 74.0,118.5 75.6,110.2 77.2,110.0 78.9,104.8 80.5,118.9 82.1,114.6 83.7,114.3 85.3,114.1 87.0,118.5 88.6,116.5 90.2,118.3 91.8,114.2 93.4,114.0 95.1,114.0 96.7,105.6 98.3,116.7 99.9,107.9 101.5,109.4 103.2,116.5 104.8,114.7 106.4,117.8 108.0,121.8 109.6,122.2 111.3,120.5 112.9,113.9 114.5,122.0 116.1,111.2 117.7,113.2 119.4,118.0 121.0,113.5 122.6,112.7 124.2,111.6 125.8,118.7 127.5,104.0 129.1,116.8 130.7,117.2" fill="none" stroke="#c3c3c3" stroke-width="0.6" stroke-linejoin="round"/>
<polyline points="33.5,121.0 35.1,118.8 36.7,119.0 38.4,122.2 40.0,120.3 41.6,121.4 43.2,98.5 44.8,102.1 46.5,97.5 48.1,102.1 49.7,112.1 51.3,113.4 52.9,105.0 54.6,109.0 56.2,110.0 57.8,116.7 59.4,115.5 61.0,113.8 62.7,112.2 64.3,117.2 65.9,117.0 67.5,112.8 69.1,115.7 70.8,112.9 72.4,120.0 74.0,120.2 75.6,114.4 77.2,118.4 78.9,116.6 80.5,113.2 82.1,112.0 83.7,108.8 85.3,110.6 87.0,117.1 88.6,121.7 90.2,114.8 91.8,116.8 93.4,118.1 95.1,119.9 96.7,117.8 98.3,121.0 99.9,120.0 101.5,114.1 103.2,118.0 104.8,106.9 106.4,114.5 108.0,116.3 109.6,118.0 111.3,114.8 112.9,119.3 114.5,121.7 116.1,113.3 117.7,113.5 119.4,116.9 121.0,118.2 122.6,116.3 124.2,118.9 125.8,111.3 127.5,118.1 129.1,120.4 130.7,119.9" fill="none" stroke="#c3c3c3" stroke-width="0.6" stroke-linejoin="round"/>
<polyline points="33.5,120.7 35.1,120.9 36.7,119.7 38.4,122.6 40.0,122.9 41.6,121.2 43.2,97.3 44.8,94.0 46.5,90.4 48.1,102.4 49.7,111.6 51.3,107.0 52.9,105.4 54.6,105.4 56.2,116.6 57.8,111.7 59.4,113.2 61.0,116.8 62.7,116.2 64.3,124.3 65.9,115.9 67.5,118.1 69.1,116.5 70.8,111.5 72.4,114.5 74.0,112.8 75.6,110.1 77.2,114.9 78.9,110.8 80.5,120.4 82.1,111.9 83.7,111.6 85.3,114.2 87.0,112.1 88.6,114.3 90.2,111.9 91.8,107.9 93.4,103.5 95.1,107.2 96.7,118.4 98.3,115.9 99.9,114.8 101.5,112.5 103.2,113.5 104.8,115.1 106.4,108.7 108.0,110.1 109.6,109.0 111.3,117.9 112.9,110.0 114.5,117.7 116.1,112.2 117.7,124.8 119.4,115.2 121.0,114.0 122.6,118.7 124.2,117.5 125.8,117.8 127.5,109.5 129.1,116.9 130.7,119.7" fill="none" stroke="#c3c3c3" stroke-width="0.6" stroke-linejoin="round"/>
<polyline points="33.5,123.1 35.1,119.1 36.7,121.9 38.4,119.7 40.0,123.5 41.6,120.3 43.2,101.6 44.8,98.0 46.5,103.5 48.1,109.9 49.7,105.0 51.3,106.3 52.9,102.7 54.6,111.8 56.2,109.4 57.8,109.2 59.4,108.8 61.0,114.0 62.7,107.1 64.3,111.3 65.9,110.9 67.5,108.9 69.1,106.7 70.8,109.8 72.4,112.5 74.0,106.1 75.6,112.0 77.2,106.8 78.9,110.6 80.5,120.5 82.1,108.7 83.7,110.8 85.3,110.4 87.0,115.5 88.6,110.4 90.2,104.2 91.8,103.8 93.4,111.3 95.1,112.5 96.7,115.1 98.3,109.1 99.9,113.6 101.5,107.7 103.2,116.5 104.8,111.8 106.4,108.9 108.0,111.9 109.6,117.9 111.3,108.3 112.9,105.6 114.5,105.8 116.1,105.3 117.7,110.1 119.4,112.5 121.0,110.6 122.6,111.2 124.2,115.4 125.8,110.2 127.5,105.4 129.1,100.0 130.7,109.0" fill="none" stroke="#c3c3c3" stroke-width="0.6" stroke-linejoin="round"/>
<polyline points="33.5,118.8 35.1,120.4 36.7,118.9 38.4,121.0 40.0,118.5 41.6,120.0 43.2,115.4 44.8,109.6 46.5,112.0 48.1,110.3 49.7,123.0 51.3,115.6 52.9,109.0 54.6,118.6 56.2,109.9 57.8,112.2 59.4,114.9 61.0,114.3 62.7,110.9 64.3,121.8 65.9,123.2 67.5,112.3 69.1,115.1 70.8,112.2 72.4,113.3 74.0,119.7 75.6,116.6 77.2,114.8 78.9,115.1 80.5,109.9 82.1,119.0 83.7,112.4 85.3,120.0 87.0,113.9 88.6,113.1 90.2,120.9 91.8,116.5 93.4,112.7 95.1,112.3 96.7,116.0 98.3,122.0 99.9,118.2 101.5,113.9 103.2,110.3 104.8,111.3 106.4,114.0 108.0,115.7 109.6,111.4 111.3,118.9 112.9,111.2 114.5,110.7 116.1,115.7 117.7,116.7 119.4,113.3 121.0,118.2 122.6,108.5 124.2,119.7 125.8,123.8 127.5,123.4 129.1,115.4 130.7,121.2" fill="none" stroke="#c3c3c3" stroke-width="0.6" stroke-linejoin="round"/>
<polyline points="33.5,123.1 35.1,122.8 36.7,120.9 38.4,122.2 40.0,120.6 41.6,118.1 43.2,90.4 44.8,97.0 46.5,104.7 48.1,107.1 49.7,112.0 51.3,118.4 52.9,100.7 54.6,117.6 56.2,121.6 57.8,120.0 59.4,116.3 61.0,115.5 62.7,118.0 64.3,118.9 65.9,115.2 67.5,119.8 69.1,112.9 70.8,115.9 72.4,115.9 74.0,113.0 75.6,119.2 77.2,117.1 78.9,111.9 80.5,115.6 82.1,110.9 83.7,121.9 85.3,119.8 87.0,125.6 88.6,116.1 90.2,119.9 91.8,113.3 93.4,113.0 95.1,115.9 96.7,117.4 98.3,120.0 99.9,116.0 101.5,121.5 103.2,121.7 104.8,113.9 106.4,115.8 108.0,113.0 109.6,122.4 111.3,114.7 112.9,119.8 114.5,120.4 116.1,115.8 117.7,114.4 119.4,117.7 121.0,113.4 122.6,110.1 124.2,110.9 125.8,116.6 127.5,116.8 129.1,122.9 130.7,108.5" fill="none" stroke="#c3c3c3" stroke-width="0.6" stroke-linejoin="round"/>
<polyline points="33.5,122.0 35.1,121.7 36.7,122.8 38.4,120.1 40.0,121.5 41.6,119.6 43.2,108.9 44.8,109.6 46.5,111.6 48.1,111.5 49.7,116.4 51.3,112.5 52.9,112.6 54.6,109.8 56.2,117.3 57.8,119.0 59.4,118.0 61.0,112.3 62.7,110.0 64.3,109.8 65.9,110.3 67.5,111.2 69.1,111.6 70.8,106.3 72.4,116.2 74.0,108.9 75.6,110.7 77.2,110.4 78.9,116.2 80.5,121.2 82.1,113.0 83.7,112.2 85.3,111.6 87.0,112.3 88.6,112.6 90.2,123.3 91.8,110.2 93.4,112.4 95.1,109.7 96.7,113.0 98.3,110.1 99.9,114.6 101.5,109.0 103.2,121.1 104.8,114.8 106.4,106.1 108.0,114.7 109.6,110.4 111.3,107.1 112.9,113.4 114.5,110.2 116.1,114.9 117.7,110.7 119.4,115.9 121.0,113.5 122.6,113.4 124.2,112.6 125.8,110.5 127.5,110.2 129.1,113.0 130.7,113.9" fill="none" stroke="#c3c3c3" stroke-width="0.6" stroke-linejoin="round"/>
<polyline points="33.5,120.1 35.1,119.3 36.7,121.6 38.4,121.5 40.0,120.1 41.6,120.7 43.2,100.0 44.8,99.6 46.5,102.4 48.1,102.4 49.7,110.2 51.3,103.8 52.9,110.6 54.6,120.6 56.2,113.3 57.8,119.4 59.4,114.0 61.0,108.7 62.7,110.5 64.3,109.3 65.9,113.7 67.5,115.7 69.1,116.0 70.8,111.9 72.4,108.4 74.0,112.8 75.6,120.1 77.2,115.2 78.9,112.7 80.5,104.3 82.1,109.7 83.7,114.6 85.3,109.4 87.0,118.0 88.6,111.7 90.2,109.4 91.8,110.0 93.4,112.3 95.1,116.9 96.7,110.2 98.3,104.6 99.9,111.1 101.5,115.0 103.2,119.7 104.8,109.3 106.4,118.5 108.0,116.5 109.6,114.5 111.3,109.4 112.9,108.5 114.5,107.7 116.1,115.4 117.7,113.9 119.4,117.2 121.0,120.5 122.6,113.2 124.2,111.8 125.8,119.8 127.5,107.9 129.1,109.2 130.7,109.1" fill="none" stroke="#c3c3c3" stroke-width="0.6" stroke-linejoin="round"/>
<polyline points="33.5,118.9 35.1,123.0 36.7,121.2 38.4,120.8 40.0,122.7 41.6,122.3 43.2,107.0 44.8,102.5 46.5,108.7 48.1,113.4 49.7,119.7 51.3,115.5 52.9,117.6 54.6,112.0 56.2,116.6 57.8,109.7 59.4,115.2 61.0,125.3 62.7,119.7 64.3,119.2 65.9,120.1 67.5,118.6 69.1,111.5 70.8,113.8 72.4,117.0 74.0,119.2 75.6,115.0 77.2,117.0 78.9,114.4 80.5,111.7 82.1,114.1 83.7,113.9 85.3,120.6 87.0,123.7 88.6,121.2 90.2,117.6 91.8,115.5 93.4,111.2 95.1,114.6 96.7,122.6 98.3,122.3 99.9,119.0 101.5,117.1 103.2,117.8 104.8,119.3 106.4,118.0 108.0,119.5 109.6,114.0 111.3,116.7 112.9,115.7 114.5,121.1 116.1,112.6 117.7,121.9 119.4,117.7 121.0,115.3 122.6,116.4 124.2,117.1 125.8,115.9 127.5,118.3 129.1,114.2 130.7,108.6" fill="none" stroke="#c3c3c3" stroke-width="0.6" stroke-linejoin="round"/>
<polyline points="33.5,119.8 35.1,119.6 36.7,117.6 38.4,120.2 40.0,122.6 41.6,119.7 43.2,95.5 44.8,101.1 46.5,104.4 48.1,101.8 49.7,104.0 51.3,100.9 52.9,99.9 54.6,109.2 56.2,111.9 57.8,116.7 59.4,112.4 61.0,109.2 62.7,105.7 64.3,118.3 65.9,115.0 67.5,112.7 69.1,107.6 70.8,107.6 72.4,115.2 74.0,110.4 75.6,115.5 77.2,116.1 78.9,111.8 80.5,106.4 82.1,113.8 83.7,119.1 85.3,111.0 87.0,108.1 88.6,117.3 90.2,114.9 91.8,111.2 93.4,118.3 95.1,113.1 96.7,114.3 98.3,111.3 99.9,110.0 101.5,114.1 103.2,110.5 104.8,105.8 106.4,110.5 108.0,118.2 109.6,117.9 111.3,122.4 112.9,118.6 114.5,120.3 116.1,115.1 117.7,111.9 119.4,115.1 121.0,109.6 122.6,115.0 124.2,111.1 125.8,113.6 127.5,109.4 129.1,111.3 130.7,115.5" fill="none" stroke="#c3c3c3" stroke-width="0.6" stroke-linejoin="round"/>
<polyline points="33.5,122.9 35.1,123.1 36.7,120.8 38.4,121.6 40.0,121.2 41.6,119.6 43.2,97.2 44.8,98.3 46.5,104.1 48.1,101.0 49.7,106.9 51.3,114.4 52.9,104.2 54.6,109.1 56.2,116.9 57.8,111.1 59.4,110.6 61.0,101.1 62.7,112.7 64.3,110.6 65.9,117.4 67.5,111.8 69.1,109.0 70.8,112.5 72.4,111.2 74.0,110.2 75.6,117.8 77.2,116.4 78.9,112.4 80.5,114.6 82.1,115.1 83.7,114.3 85.3,112.1 87.0,111.9 88.6,113.4 90.2,114.2 91.8,113.2 93.4,109.6 95.1,110.8 96.7,112.1 98.3,106.9 99.9,110.4 101.5,114.5 103.2,112.7 104.8,110.3 106.4,111.2 108.0,109.5 109.6,114.2 111.3,109.6 112.9,104.0 114.5,104.9 116.1,111.0 117.7,111.9 119.4,109.3 121.0,105.5 122.6,108.8 124.2,106.7 125.8,107.3 127.5,110.0 129.1,106.9 130.7,110.2" fill="none" stroke="#c3c3c3" stroke-width="0.6" stroke-linejoin="round"/>
<polyline points="33.5,168.5 35.1,172.0 36.7,171.5 38.4,171.7 40.0,170.7 41.6,166.5 43.2,157.8 44.8,147.9 46.5,160.8 48.1,156.9 49.7,160.2 51.3,170.8 52.9,163.8 54.6,163.7 56.2,171.9 57.8,167.7 59.4,169.6 61.0,163.5 62.7,175.1 64.3,174.1 65.9,171.8 67.5,173.2 69.1,168.9 70.8,168.8 72.4,164.5 74.0,171.8 75.6,176.5 77.2,175.7 78.9,176.0 80.5,175.3 82.1,168.7 83.7,166.4 85.3,173.8 87.0,173.2 88.6,176.4 90.2,172.0 91.8,168.9 93.4,173.9 95.1,170.8 96.7,166.3 98.3,169.7 99.9,169.5 101.5,168.5 103.2,170.9 104.8,177.3 106.4,180.2 108.0,180.2 109.6,174.0 111.3,179.0 112.9,175.0 114.5,176.3 116.1,172.3 117.7,174.1 119.4,168.3 121.0,180.2 122.6,173.1 124.2,177.3 125.8,173.4 127.5,176.2 129.1,171.1 130.7,173.4" fill="none" stroke="#c3c3c3" stroke-width="0.6" stroke-linejoin="round"/>
<polyline points="33.5,172.6 35.1,172.5 36.7,174.9 38.4,173.6 40.0,174.8 41.6,170.7 43.2,157.3 44.8,152.4 46.5,158.2 48.1,156.2 49.7,156.0 51.3,151.9 52.9,158.2 54.6,169.3 56.2,167.0 57.8,168.2 59.4,169.8 61.0,173.5 62.7,171.1 64.3,172.0 65.9,173.6 67.5,178.6 69.1,178.2 70.8,170.5 72.4,171.5 74.0,174.2 75.6,178.0 77.2,179.2 78.9,174.9 80.5,180.2 82.1,175.9 83.7,180.2 85.3,180.2 87.0,180.2 88.6,177.5 90.2,178.3 91.8,170.2 93.4,167.9 95.1,172.6 96.7,178.6 98.3,180.2 99.9,176.9 101.5,180.2 103.2,180.0 104.8,180.2 106.4,171.9 108.0,173.5 109.6,173.1 111.3,173.0 112.9,180.2 114.5,175.2 116.1,174.2 117.7,175.9 119.4,180.2 121.0,177.0 122.6,180.2 124.2,180.2 125.8,176.4 127.5,169.2 129.1,173.7 130.7,173.2" fill="none" stroke="#c3c3c3" stroke-width="0.6" stroke-linejoin="round"/>
<polyline points="33.5,170.8 35.1,169.2 36.7,174.2 38.4,173.5 40.0,169.4 41.6,172.0 43.2,167.1 44.8,150.4 46.5,146.5 48.1,156.1 49.7,153.8 51.3,153.8 52.9,158.2 54.6,155.9 56.2,159.2 57.8,155.8 59.4,156.1 61.0,153.0 62.7,146.0 64.3,160.9 65.9,151.5 67.5,161.2 69.1,159.7 70.8,153.3 72.4,158.1 74.0,162.1 75.6,155.1 77.2,158.4 78.9,155.7 80.5,154.5 82.1,155.7 83.7,163.4 85.3,162.4 87.0,159.4 88.6,158.8 90.2,159.6 91.8,160.4 93.4,160.2 95.1,152.7 96.7,162.2 98.3,156.7 99.9,149.4 101.5,161.4 103.2,155.8 104.8,159.2 106.4,160.1 108.0,158.3 109.6,162.6 111.3,160.1 112.9,159.8 114.5,157.0 116.1,159.5 117.7,156.8 119.4,160.9 121.0,166.7 122.6,166.3 124.2,164.1 125.8,156.9 127.5,165.3 129.1,166.2 130.7,171.0" fill="none" stroke="#c3c3c3" stroke-width="0.6" stroke-linejoin="round"/>
<polyline points="33.5,173.4 35.1,170.5 36.7,173.9 38.4,173.4 40.0,169.9 41.6,171.1 43.2,161.0 44.8,161.8 46.5,156.4 48.1,163.7 49.7,158.2 51.3,162.0 52.9,161.8 54.6,157.2 56.2,163.2 57.8,161.6 59.4,152.6 61.0,159.0 62.7,160.3 64.3,160.8 65.9,160.8 67.5,162.0 69.1,155.7 70.8,168.2 72.4,167.0 74.0,167.6 75.6,165.7 77.2,166.7 78.9,165.7 80.5,162.2 82.1,160.2 83.7,166.2 85.3,170.9 87.0,168.6 88.6,173.8 90.2,162.7 91.8,165.6 93.4,164.6 95.1,170.5 96.7,166.3 98.3,153.4 99.9,165.4 101.5,167.3 103.2,164.4 104.8,167.7 106.4,164.5 108.0,174.5 109.6,172.3 111.3,174.4 112.9,171.5 114.5,160.2 116.1,171.3 117.7,170.2 119.4,160.1 121.0,168.7 122.6,173.8 124.2,177.3 125.8,167.0 127.5,172.9 129.1,172.1 130.7,170.0" fill="none" stroke="#c3c3c3" stroke-width="0.6" stroke-linejoin="round"/>
<polyline points="33.5,172.8 35.1,170.0 36.7,173.1 38.4,175.0 40.0,172.2 41.6,171.1 43.2,153.2 44.8,147.5 46.5,149.9 48.1,149.6 49.7,153.1 51.3,147.0 52.9,148.5 54.6,148.6 56.2,158.5 57.8,156.5 59.4,161.6 61.0,150.1 62.7,154.3 64.3,163.5 65.9,156.3 67.5,151.3 69.1,155.2 70.8,157.7 72.4,159.6 74.0,165.1 75.6,166.2 77.2,167.2 78.9,163.7 80.5,158.9 82.1,158.2 83.7,154.3 85.3,164.8 87.0,166.2 88.6,161.9 90.2,157.5 91.8,163.1 93.4,163.3 95.1,162.2 96.7,157.0 98.3,161.9 99.9,159.6 101.5,164.6 103.2,164.9 104.8,163.6 106.4,154.8 108.0,156.5 109.6,160.5 111.3,167.6 112.9,167.0 114.5,166.2 116.1,165.1 117.7,159.1 119.4,155.4 121.0,158.4 122.6,165.1 124.2,167.5 125.8,165.0 127.5,164.3 129.1,171.2 130.7,163.4" fill="none" stroke="#c3c3c3" stroke-width="0.6" stroke-linejoin="round"/>
<polyline points="33.5,172.7 35.1,173.7 36.7,172.0 38.4,171.2 40.0,171.2 41.6,174.2 43.2,144.9 44.8,142.3 46.5,150.4 48.1,153.3 49.7,150.2 51.3,152.9 52.9,155.8 54.6,147.7 56.2,153.9 57.8,157.7 59.4,159.9 61.0,161.7 62.7,157.4 64.3,151.6 65.9,162.2 67.5,161.9 69.1,156.5 70.8,162.7 72.4,163.7 74.0,159.3 75.6,150.0 77.2,156.1 78.9,156.0 80.5,155.6 82.1,158.7 83.7,155.2 85.3,160.7 87.0,167.6 88.6,156.5 90.2,163.7 91.8,158.6 93.4,162.3 95.1,160.3 96.7,165.8 98.3,158.8 99.9,163.7 101.5,158.6 103.2,161.9 104.8,161.6 106.4,166.2 108.0,156.3 109.6,155.7 111.3,166.6 112.9,164.4 114.5,169.2 116.1,159.2 117.7,162.1 119.4,160.4 121.0,161.0 122.6,158.9 124.2,160.5 125.8,165.6 127.5,163.1 129.1,160.2 130.7,165.8" fill="none" stroke="#c3c3c3" stroke-width="0.6" stroke-linejoin="round"/>
<polyline points="33.5,173.8 35.1,173.1 36.7,171.4 38.4,174.1 40.0,172.5 41.6,174.8 43.2,155.3 44.8,154.1 46.5,155.4 48.1,160.8 49.7,159.0 51.3,165.7 52.9,151.8 54.6,164.6 56.2,160.5 57.8,161.8 59.4,165.7 61.0,165.1 62.7,160.4 64.3,169.9 65.9,167.3 67.5,161.0 69.1,160.9 70.8,156.2 72.4,157.6 74.0,163.4 75.6,167.5 77.2,167.1 78.9,163.6 80.5,160.8 82.1,159.2 83.7,172.0 85.3,169.2 87.0,164.2 88.6,171.5 90.2,170.0 91.8,166.0 93.4,164.8 95.1,171.8 96.7,169.7 98.3,174.8 99.9,170.6 101.5,166.3 103.2,165.8 104.8,165.5 106.4,169.4 108.0,170.1 109.6,171.6 111.3,171.3 112.9,165.4 114.5,167.9 116.1,165.5 117.7,170.8 119.4,164.6 121.0,166.6 122.6,166.0 124.2,166.9 125.8,168.6 127.5,176.0 129.1,170.1 130.7,164.5" fill="none" stroke="#c3c3c3" stroke-width="0.6" stroke-linejoin="round"/>
<polyline points="33.5,171.9 35.1,172.2 36.7,173.8 38.4,172.3 40.0,172.2 41.6,172.0 43.2,157.5 44.8,146.1 46.5,149.6 48.1,159.0 49.7,156.9 51.3,158.5 52.9,158.6 54.6,159.9 56.2,159.1 57.8,156.3 59.4,159.1 61.0,161.5 62.7,158.3 64.3,163.6 65.9,169.9 67.5,157.6 69.1,160.5 70.8,162.2 72.4,164.0 74.0,164.6 75.6,161.5 77.2,163.9 78.9,164.5 80.5,164.3 82.1,170.8 83.7,166.3 85.3,159.3 87.0,157.9 88.6,166.4 90.2,164.0 91.8,162.7 93.4,159.6 95.1,163.6 96.7,165.2 98.3,163.2 99.9,164.4 101.5,169.6 103.2,170.2 104.8,169.5 106.4,166.7 108.0,161.6 109.6,169.4 111.3,173.5 112.9,173.3 114.5,172.9 116.1,169.4 117.7,169.3 119.4,167.9 121.0,172.8 122.6,167.6 124.2,176.4 125.8,172.5 127.5,167.6 129.1,168.3 130.7,162.0" fill="none" stroke="#c3c3c3" stroke-width="0.6" stroke-linejoin="round"/>
<polyline points="33.5,176.4 35.1,170.7 36.7,171.5 38.4,173.6 40.0,174.1 41.6,171.9 43.2,146.1 44.8,149.6 46.5,149.9 48.1,155.6 49.7,158.2 51.3,162.0 52.9,157.2 54.6,159.5 56.2,161.4 57.8,169.2 59.4,167.6 61.0,160.7 62.7,161.9 64.3,175.6 65.9,172.1 67.5,165.7 69.1,166.8 70.8,171.6 72.4,177.9 74.0,179.8 75.6,172.5 77.2,171.9 78.9,180.2 80.5,170.9 82.1,179.7 83.7,176.3 85.3,174.9 87.0,179.6 88.6,177.3 90.2,171.8 91.8,168.3 93.4,174.1 95.1,177.2 96.7,180.2 98.3,166.1 99.9,179.8 101.5,179.2 103.2,180.2 104.8,180.2 106.4,178.2 108.0,178.8 109.6,178.9 111.3,174.9 112.9,176.4 114.5,177.7 116.1,175.7 117.7,171.4 119.4,171.0 121.0,178.7 122.6,180.0 124.2,178.7 125.8,173.6 127.5,180.2 129.1,177.2 130.7,169.9" fill="none" stroke="#c3c3c3" stroke-width="0.6" stroke-linejoin="round"/>
<polyline points="33.5,170.7 35.1,172.2 36.7,171.8 38.4,172.1 40.0,172.7 41.6,171.8 43.2,150.5 44.8,154.1 46.5,165.4 48.1,157.7 49.7,167.3 51.3,175.7 52.9,171.1 54.6,163.0 56.2,173.0 57.8,162.8 59.4,170.5 61.0,169.3 62.7,176.1 64.3,177.4 65.9,174.1 67.5,180.2 69.1,178.3 70.8,172.5 72.4,170.0 74.0,180.2 75.6,174.1 77.2,176.0 78.9,174.3 80.5,172.7 82.1,168.1 83.7,173.2 85.3,174.2 87.0,178.8 88.6,173.6 90.2,168.7 91.8,170.0 93.4,174.5 95.1,176.4 96.7,178.8 98.3,174.9 99.9,178.1 101.5,177.2 103.2,180.2 104.8,177.5 106.4,177.6 108.0,179.3 109.6,180.2 111.3,174.3 112.9,174.9 114.5,175.9 116.1,168.7 117.7,180.2 119.4,180.2 121.0,178.5 122.6,180.2 124.2,180.2 125.8,180.2 127.5,180.2 129.1,180.2 130.7,173.4" fill="none" stroke="#c3c3c3" stroke-width="0.6" stroke-linejoin="round"/>
<polyline points="33.5,172.6 35.1,173.0 36.7,170.7 38.4,173.8 40.0,168.3 41.6,170.4 43.2,143.6 44.8,148.9 46.5,155.6 48.1,155.7 49.7,161.0 51.3,160.0 52.9,159.5 54.6,163.0 56.2,161.4 57.8,163.3 59.4,167.9 61.0,162.7 62.7,169.4 64.3,161.9 65.9,164.8 67.5,159.6 69.1,163.9 70.8,173.3 72.4,170.2 74.0,173.4 75.6,163.1 77.2,163.5 78.9,169.6 80.5,172.0 82.1,172.5 83.7,162.7 85.3,170.0 87.0,168.9 88.6,169.5 90.2,171.1 91.8,168.4 93.4,162.6 95.1,164.3 96.7,163.3 98.3,163.8 99.9,168.7 101.5,175.4 103.2,168.5 104.8,167.4 106.4,165.9 108.0,163.3 109.6,170.2 111.3,169.1 112.9,170.0 114.5,167.3 116.1,172.8 117.7,166.9 119.4,173.1 121.0,169.3 122.6,174.6 124.2,168.8 125.8,173.4 127.5,174.2 129.1,172.3 130.7,178.9" fill="none" stroke="#c3c3c3" stroke-width="0.6" stroke-linejoin="round"/>
<polyline points="33.5,173.2 35.1,173.7 36.7,172.9 38.4,174.6 40.0,169.1 41.6,172.7 43.2,153.7 44.8,150.9 46.5,149.2 48.1,154.5 49.7,161.8 51.3,164.5 52.9,172.4 54.6,172.4 56.2,161.7 57.8,171.0 59.4,172.5 61.0,176.1 62.7,170.0 64.3,167.9 65.9,170.8 67.5,177.1 69.1,174.7 70.8,178.9 72.4,176.1 74.0,170.3 75.6,167.8 77.2,179.0 78.9,167.3 80.5,170.2 82.1,170.9 83.7,168.7 85.3,169.8 87.0,172.3 88.6,180.2 90.2,174.0 91.8,171.1 93.4,173.3 95.1,177.1 96.7,170.8 98.3,171.6 99.9,166.5 101.5,175.7 103.2,177.2 104.8,180.2 106.4,170.7 108.0,180.2 109.6,179.5 111.3,174.4 112.9,173.3 114.5,173.5 116.1,170.0 117.7,177.5 119.4,173.2 121.0,172.2 122.6,177.1 124.2,176.3 125.8,173.5 127.5,174.6 129.1,173.8 130.7,180.2" fill="none" stroke="#c3c3c3" stroke-width="0.6" stroke-linejoin="round"/>
<polyline points="33.5,172.4 35.1,172.4 36.7,172.1 38.4,173.4 40.0,171.1 41.6,173.6 43.2,159.3 44.8,154.1 46.5,155.1 48.1,161.3 49.7,163.7 51.3,154.8 52.9,154.3 54.6,167.1 56.2,165.2 57.8,176.7 59.4,161.3 61.0,164.6 62.7,164.0 64.3,168.9 65.9,173.4 67.5,175.1 69.1,165.2 70.8,172.9 72.4,164.5 74.0,169.4 75.6,169.7 77.2,171.6 78.9,166.2 80.5,174.1 82.1,169.7 83.7,169.3 85.3,168.3 87.0,165.1 88.6,171.8 90.2,171.3 91.8,171.8 93.4,177.6 95.1,167.7 96.7,168.8 98.3,170.2 99.9,174.0 101.5,170.6 103.2,174.7 104.8,173.5 106.4,164.7 108.0,167.7 109.6,162.8 111.3,169.2 112.9,169.7 114.5,173.8 116.1,172.8 117.7,171.8 119.4,177.1 121.0,175.3 122.6,167.8 124.2,168.9 125.8,173.3 127.5,179.6 129.1,173.0 130.7,172.1" fill="none" stroke="#c3c3c3" stroke-width="0.6" stroke-linejoin="round"/>
<polyline points="33.5,172.9 35.1,172.2 36.7,169.6 38.4,170.9 40.0,171.9 41.6,172.7 43.2,147.5 44.8,157.2 46.5,158.1 48.1,160.4 49.7,159.0 51.3,157.8 52.9,162.7 54.6,153.9 56.2,166.2 57.8,165.5 59.4,168.8 61.0,163.6 62.7,163.4 64.3,165.9 65.9,169.4 67.5,172.1 69.1,170.2 70.8,173.3 72.4,175.4 74.0,168.6 75.6,172.1 77.2,167.0 78.9,170.4 80.5,177.0 82.1,171.6 83.7,180.2 85.3,177.4 87.0,178.5 88.6,175.7 90.2,178.4 91.8,179.8 93.4,176.3 95.1,173.4 96.7,173.0 98.3,180.2 99.9,176.3 101.5,174.4 103.2,173.2 104.8,169.3 106.4,173.6 108.0,177.7 109.6,175.1 111.3,173.7 112.9,178.3 114.5,179.2 116.1,175.9 117.7,178.4 119.4,173.8 121.0,180.2 122.6,174.2 124.2,176.0 125.8,178.3 127.5,176.5 129.1,173.4 130.7,180.2" fill="none" stroke="#c3c3c3" stroke-width="0.6" stroke-linejoin="round"/>
<polyline points="33.5,170.7 35.1,172.8 36.7,174.0 38.4,172.2 40.0,170.1 41.6,169.4 43.2,163.4 44.8,153.7 46.5,161.2 48.1,166.7 49.7,166.6 51.3,160.7 52.9,163.9 54.6,170.1 56.2,173.1 57.8,176.0 59.4,163.1 61.0,170.6 62.7,168.3 64.3,173.4 65.9,164.6 67.5,169.8 69.1,174.2 70.8,169.7 72.4,170.4 74.0,168.1 75.6,176.2 77.2,167.7 78.9,168.1 80.5,170.6 82.1,171.1 83.7,180.2 85.3,175.2 87.0,169.9 88.6,174.9 90.2,174.7 91.8,174.5 93.4,173.3 95.1,175.3 96.7,169.3 98.3,168.4 99.9,171.5 101.5,169.4 103.2,176.5 104.8,180.2 106.4,180.2 108.0,177.6 109.6,176.7 111.3,172.5 112.9,169.5 114.5,176.6 116.1,169.6 117.7,175.7 119.4,175.0 121.0,178.5 122.6,176.3 124.2,176.3 125.8,173.7 127.5,168.8 129.1,173.7 130.7,178.6" fill="none" stroke="#c3c3c3" stroke-width="0.6" stroke-linejoin="round"/>
<polyline points="33.5,173.3 35.1,170.3 36.7,173.0 38.4,170.7 40.0,173.3 41.6,171.4 43.2,141.4 44.8,141.4 46.5,145.3 48.1,141.4 49.7,150.5 51.3,164.2 52.9,158.9 54.6,157.5 56.2,154.6 57.8,161.0 59.4,159.5 61.0,158.4 62.7,167.8 64.3,166.0 65.9,161.0 67.5,170.1 69.1,165.8 70.8,167.8 72.4,167.0 74.0,171.1 75.6,169.6 77.2,165.7 78.9,169.5 80.5,165.8 82.1,167.4 83.7,173.8 85.3,164.1 87.0,162.8 88.6,165.2 90.2,165.3 91.8,172.6 93.4,162.3 95.1,176.5 96.7,176.0 98.3,167.9 99.9,169.4 101.5,167.6 103.2,171.6 104.8,172.3 106.4,172.9 108.0,173.2 109.6,178.0 111.3,170.3 112.9,172.7 114.5,169.6 116.1,170.1 117.7,171.0 119.4,170.1 121.0,171.7 122.6,167.2 124.2,169.5 125.8,168.1 127.5,165.7 129.1,167.3 130.7,168.4" fill="none" stroke="#c3c3c3" stroke-width="0.6" stroke-linejoin="round"/>
<polyline points="33.5,173.7 35.1,172.4 36.7,172.8 38.4,169.8 40.0,170.9 41.6,169.5 43.2,163.6 44.8,169.6 46.5,166.9 48.1,165.1 49.7,169.2 51.3,166.6 52.9,162.9 54.6,170.2 56.2,173.1 57.8,172.8 59.4,163.1 61.0,174.3 62.7,166.9 64.3,170.9 65.9,173.4 67.5,178.8 69.1,163.7 70.8,164.1 72.4,173.2 74.0,171.8 75.6,168.4 77.2,157.5 78.9,169.4 80.5,168.8 82.1,158.9 83.7,178.8 85.3,161.0 87.0,166.2 88.6,169.3 90.2,170.8 91.8,173.2 93.4,169.6 95.1,166.6 96.7,168.5 98.3,161.9 99.9,165.1 101.5,178.1 103.2,169.5 104.8,170.8 106.4,179.1 108.0,177.1 109.6,173.1 111.3,175.0 112.9,171.3 114.5,168.3 116.1,175.6 117.7,173.3 119.4,178.9 121.0,172.4 122.6,171.0 124.2,173.8 125.8,172.2 127.5,171.5 129.1,169.2 130.7,173.5" fill="none" stroke="#c3c3c3" stroke-width="0.6" stroke-linejoin="round"/>
<polyline points="33.5,170.3 35.1,172.0 36.7,169.5 38.4,171.9 40.0,171.5 41.6,170.6 43.2,155.9 44.8,161.8 46.5,169.6 48.1,169.6 49.7,166.2 51.3,163.8 52.9,165.0 54.6,170.6 56.2,165.9 57.8,169.4 59.4,172.6 61.0,165.9 62.7,166.6 64.3,171.3 65.9,170.6 67.5,170.3 69.1,168.9 70.8,170.8 72.4,179.1 74.0,178.4 75.6,166.4 77.2,171.4 78.9,172.4 80.5,172.4 82.1,166.8 83.7,171.0 85.3,172.9 87.0,169.9 88.6,173.5 90.2,163.0 91.8,165.3 93.4,172.3 95.1,174.6 96.7,172.9 98.3,171.6 99.9,174.2 101.5,178.3 103.2,178.4 104.8,174.6 106.4,172.6 108.0,178.5 109.6,177.4 111.3,178.7 112.9,174.3 114.5,171.3 116.1,175.2 117.7,172.6 119.4,179.4 121.0,179.4 122.6,167.2 124.2,177.0 125.8,180.2 127.5,180.2 129.1,174.7 130.7,172.2" fill="none" stroke="#c3c3c3" stroke-width="0.6" stroke-linejoin="round"/>
<polyline points="33.5,169.8 35.1,170.4 36.7,172.9 38.4,172.0 40.0,173.7 41.6,172.6 43.2,150.6 44.8,148.3 46.5,154.3 48.1,162.4 49.7,161.9 51.3,158.3 52.9,162.0 54.6,157.0 56.2,153.4 57.8,151.1 59.4,158.9 61.0,162.8 62.7,161.5 64.3,159.9 65.9,158.5 67.5,164.5 69.1,161.0 70.8,155.1 72.4,165.7 74.0,159.2 75.6,162.4 77.2,161.4 78.9,165.5 80.5,162.9 82.1,166.5 83.7,163.0 85.3,159.8 87.0,159.2 88.6,163.9 90.2,158.6 91.8,165.0 93.4,161.4 95.1,158.2 96.7,158.1 98.3,161.2 99.9,169.5 101.5,166.9 103.2,163.6 104.8,159.5 106.4,170.4 108.0,163.3 109.6,163.4 111.3,161.8 112.9,168.7 114.5,165.1 116.1,162.1 117.7,164.3 119.4,160.0 121.0,159.2 122.6,162.8 124.2,152.4 125.8,167.4 127.5,173.0 129.1,161.4 130.7,163.6" fill="none" stroke="#c3c3c3" stroke-width="0.6" stroke-linejoin="round"/>
<polyline points="33.5,171.9 35.1,170.2 36.7,173.4 38.4,176.7 40.0,174.6 41.6,173.1 43.2,153.6 44.8,160.2 46.5,158.7 48.1,164.8 49.7,165.6 51.3,165.0 52.9,155.9 54.6,162.2 56.2,160.9 57.8,165.0 59.4,164.3 61.0,168.6 62.7,158.9 64.3,161.3 65.9,164.7 67.5,167.0 69.1,164.7 70.8,166.2 72.4,166.9 74.0,171.1 75.6,167.1 77.2,168.0 78.9,159.9 80.5,155.5 82.1,159.6 83.7,167.6 85.3,158.1 87.0,167.7 88.6,167.2 90.2,167.6 91.8,164.8 93.4,165.7 95.1,171.1 96.7,170.1 98.3,168.6 99.9,166.6 101.5,169.3 103.2,173.8 104.8,169.8 106.4,167.9 108.0,164.4 109.6,169.1 111.3,165.8 112.9,163.3 114.5,172.3 116.1,167.7 117.7,161.4 119.4,165.8 121.0,176.9 122.6,170.8 124.2,165.1 125.8,165.2 127.5,172.7 129.1,172.7 130.7,171.9" fill="none" stroke="#c3c3c3" stroke-width="0.6" stroke-linejoin="round"/>
<polyline points="33.5,172.6 35.1,175.0 36.7,170.1 38.4,174.0 40.0,174.4 41.6,174.7 43.2,147.1 44.8,144.5 46.5,154.5 48.1,158.7 49.7,155.8 51.3,157.6 52.9,156.7 54.6,163.5 56.2,151.1 57.8,159.6 59.4,155.0 61.0,157.1 62.7,154.3 64.3,156.8 65.9,161.1 67.5,162.2 69.1,169.8 70.8,163.0 72.4,164.5 74.0,164.8 75.6,164.5 77.2,169.5 78.9,164.9 80.5,164.3 82.1,163.2 83.7,163.6 85.3,163.5 87.0,167.8 88.6,164.6 90.2,164.4 91.8,163.9 93.4,167.3 95.1,162.9 96.7,168.1 98.3,163.0 99.9,167.5 101.5,173.3 103.2,167.4 104.8,165.4 106.4,160.9 108.0,168.0 109.6,166.2 111.3,169.7 112.9,163.9 114.5,167.9 116.1,173.8 117.7,169.0 119.4,165.5 121.0,161.1 122.6,165.7 124.2,169.2 125.8,169.6 127.5,162.8 129.1,162.3 130.7,162.4" fill="none" stroke="#c3c3c3" stroke-width="0.6" stroke-linejoin="round"/>
<polyline points="33.5,172.2 35.1,173.1 36.7,174.2 38.4,172.1 40.0,173.5 41.6,169.5 43.2,169.3 44.8,162.7 46.5,168.3 48.1,163.1 49.7,161.3 51.3,162.9 52.9,165.9 54.6,166.0 56.2,163.0 57.8,167.5 59.4,168.8 61.0,163.0 62.7,161.7 64.3,158.3 65.9,164.9 67.5,167.4 69.1,165.2 70.8,165.4 72.4,167.6 74.0,168.6 75.6,171.0 77.2,172.5 78.9,171.2 80.5,173.9 82.1,165.8 83.7,171.1 85.3,171.0 87.0,165.3 88.6,166.0 90.2,170.7 91.8,170.0 93.4,164.6 95.1,166.8 96.7,175.8 98.3,174.5 99.9,171.3 101.5,176.2 103.2,167.9 104.8,169.8 106.4,174.8 108.0,170.4 109.6,166.6 111.3,173.0 112.9,178.2 114.5,162.2 116.1,170.9 117.7,166.5 119.4,169.8 121.0,165.9 122.6,180.2 124.2,170.8 125.8,172.2 127.5,169.5 129.1,168.0 130.7,170.0" fill="none" stroke="#c3c3c3" stroke-width="0.6" stroke-linejoin="round"/>
<polyline points="33.5,174.0 35.1,171.5 36.7,169.9 38.4,170.8 40.0,172.7 41.6,172.4 43.2,156.0 44.8,157.2 46.5,153.4 48.1,160.2 49.7,160.4 51.3,163.8 52.9,161.3 54.6,163.1 56.2,165.7 57.8,168.3 59.4,162.3 61.0,168.5 62.7,161.9 64.3,164.5 65.9,166.5 67.5,167.1 69.1,156.7 70.8,161.6 72.4,165.8 74.0,171.0 75.6,165.2 77.2,173.4 78.9,161.2 80.5,167.1 82.1,169.9 83.7,168.3 85.3,169.1 87.0,172.0 88.6,165.5 90.2,170.2 91.8,172.9 93.4,168.2 95.1,159.2 96.7,162.6 98.3,164.6 99.9,164.2 101.5,170.4 103.2,166.4 104.8,179.3 106.4,173.7 108.0,165.3 109.6,168.2 111.3,176.1 112.9,173.9 114.5,166.7 116.1,174.1 117.7,169.1 119.4,179.4 121.0,169.8 122.6,173.1 124.2,173.6 125.8,169.7 127.5,170.3 129.1,175.9 130.7,174.0" fill="none" stroke="#c3c3c3" stroke-width="0.6" stroke-linejoin="round"/>
<polyline points="33.5,171.9 35.1,172.2 36.7,171.3 38.4,172.6 40.0,171.7 41.6,172.1 43.2,154.7 44.8,151.5 46.5,154.3 48.1,160.6 49.7,165.5 51.3,152.8 52.9,155.1 54.6,162.4 56.2,165.1 57.8,160.3 59.4,162.4 61.0,162.0 62.7,172.4 64.3,164.4 65.9,159.5 67.5,157.7 69.1,158.8 70.8,169.8 72.4,164.8 74.0,173.7 75.6,169.7 77.2,168.2 78.9,169.1 80.5,170.0 82.1,170.7 83.7,163.2 85.3,163.8 87.0,164.1 88.6,166.8 90.2,165.9 91.8,161.8 93.4,163.5 95.1,174.0 96.7,177.1 98.3,165.7 99.9,169.1 101.5,168.1 103.2,164.8 104.8,170.8 106.4,168.7 108.0,175.5 109.6,171.7 111.3,168.1 112.9,158.1 114.5,167.0 116.1,172.3 117.7,166.8 119.4,172.6 121.0,172.7 122.6,162.9 124.2,167.9 125.8,170.8 127.5,173.1 129.1,171.1 130.7,170.2" fill="none" stroke="#c3c3c3" stroke-width="0.6" stroke-linejoin="round"/>
<polyline points="33.5,172.5 35.1,170.5 36.7,172.1 38.4,171.7 40.0,171.6 41.6,171.1 43.2,141.4 44.8,144.5 46.5,153.6 48.1,156.2 49.7,151.8 51.3,157.5 52.9,161.2 54.6,154.1 56.2,160.8 57.8,162.4 59.4,165.0 61.0,164.0 62.7,156.2 64.3,154.5 65.9,170.9 67.5,164.0 69.1,170.1 70.8,171.3 72.4,167.0 74.0,161.4 75.6,170.9 77.2,166.7 78.9,168.4 80.5,168.6 82.1,170.6 83.7,171.3 85.3,161.5 87.0,160.2 88.6,166.4 90.2,166.8 91.8,170.1 93.4,167.0 95.1,166.5 96.7,175.6 98.3,174.4 99.9,173.5 101.5,173.1 103.2,165.7 104.8,167.7 106.4,168.2 108.0,164.1 109.6,164.5 111.3,168.8 112.9,164.0 114.5,170.5 116.1,171.2 117.7,168.5 119.4,167.8 121.0,171.6 122.6,171.8 124.2,171.4 125.8,165.0 127.5,162.5 129.1,177.1 130.7,168.4" fill="none" stroke="#c3c3c3" stroke-width="0.6" stroke-linejoin="round"/>
<polyline points="33.5,172.5 35.1,170.3 36.7,172.7 38.4,172.5 40.0,173.0 41.6,171.6 43.2,151.5 44.8,150.2 46.5,146.4 48.1,149.8 49.7,151.6 51.3,155.6 52.9,162.2 54.6,156.2 56.2,158.3 57.8,160.4 59.4,156.1 61.0,158.9 62.7,164.3 64.3,167.8 65.9,156.6 67.5,165.8 69.1,163.5 70.8,169.9 72.4,168.4 74.0,173.8 75.6,168.0 77.2,164.4 78.9,162.2 80.5,159.5 82.1,167.3 83.7,168.4 85.3,169.9 87.0,168.3 88.6,160.7 90.2,164.0 91.8,165.3 93.4,167.2 95.1,170.2 96.7,173.4 98.3,169.5 99.9,159.5 101.5,162.4 103.2,158.4 104.8,163.6 106.4,162.7 108.0,168.5 109.6,167.6 111.3,173.0 112.9,173.7 114.5,167.7 116.1,172.5 117.7,169.5 119.4,171.0 121.0,174.9 122.6,165.5 124.2,168.5 125.8,175.6 127.5,167.4 129.1,170.3 130.7,170.4" fill="none" stroke="#c3c3c3" stroke-width="0.6" stroke-linejoin="round"/>
<polyline points="33.5,173.5 35.1,171.1 36.7,171.8 38.4,172.6 40.0,174.7 41.6,170.8 43.2,141.4 44.8,141.4 46.5,150.5 48.1,153.6 49.7,155.0 51.3,152.2 52.9,161.7 54.6,165.7 56.2,160.7 57.8,160.6 59.4,166.9 61.0,165.8 62.7,169.8 64.3,164.1 65.9,166.8 67.5,165.1 69.1,164.3 70.8,165.8 72.4,166.5 74.0,170.0 75.6,167.4 77.2,168.8 78.9,165.6 80.5,163.6 82.1,174.2 83.7,166.2 85.3,176.4 87.0,174.5 88.6,161.2 90.2,166.1 91.8,167.8 93.4,170.0 95.1,169.7 96.7,168.1 98.3,175.6 99.9,171.3 101.5,175.2 103.2,169.3 104.8,168.5 106.4,176.8 108.0,171.6 109.6,167.6 111.3,170.8 112.9,176.3 114.5,172.3 116.1,169.5 117.7,174.7 119.4,176.9 121.0,172.6 122.6,171.6 124.2,171.3 125.8,180.2 127.5,174.1 129.1,180.2 130.7,173.9" fill="none" stroke="#c3c3c3" stroke-width="0.6" stroke-linejoin="round"/>
<polyline points="33.5,173.2 35.1,171.5 36.7,170.7 38.4,171.7 40.0,173.3 41.6,170.4 43.2,155.5 44.8,156.9 46.5,156.0 48.1,158.5 49.7,167.6 51.3,170.5 52.9,168.5 54.6,180.2 56.2,174.4 57.8,175.7 59.4,168.3 61.0,175.4 62.7,179.4 64.3,172.2 65.9,180.2 67.5,171.5 69.1,169.3 70.8,173.7 72.4,171.6 74.0,177.2 75.6,171.2 77.2,175.2 78.9,167.7 80.5,174.5 82.1,179.9 83.7,175.6 85.3,177.4 87.0,180.2 88.6,172.7 90.2,170.8 91.8,176.1 93.4,177.8 95.1,176.1 96.7,173.1 98.3,180.2 99.9,173.5 101.5,176.1 103.2,177.5 104.8,180.2 106.4,176.9 108.0,174.9 109.6,180.2 111.3,176.4 112.9,180.2 114.5,178.6 116.1,176.9 117.7,178.5 119.4,178.0 121.0,180.2 122.6,169.2 124.2,177.8 125.8,179.6 127.5,175.8 129.1,177.6 130.7,180.2" fill="none" stroke="#c3c3c3" stroke-width="0.6" stroke-linejoin="round"/>
<polyline points="33.5,174.2 35.1,169.1 36.7,172.5 38.4,171.3 40.0,172.8 41.6,169.5 43.2,160.8 44.8,161.2 46.5,172.4 48.1,171.9 49.7,165.7 51.3,172.3 52.9,172.9 54.6,170.3 56.2,169.9 57.8,170.1 59.4,165.4 61.0,168.7 62.7,176.0 64.3,179.4 65.9,180.2 67.5,173.6 69.1,176.6 70.8,165.2 72.4,172.3 74.0,169.4 75.6,177.4 77.2,168.7 78.9,169.9 80.5,169.9 82.1,176.1 83.7,178.8 85.3,172.2 87.0,180.2 88.6,177.2 90.2,172.5 91.8,176.7 93.4,175.9 95.1,179.4 96.7,178.1 98.3,180.2 99.9,180.2 101.5,175.1 103.2,179.8 104.8,180.2 106.4,173.8 108.0,173.8 109.6,173.7 111.3,167.0 112.9,178.6 114.5,177.0 116.1,180.2 117.7,176.4 119.4,178.1 121.0,180.2 122.6,180.2 124.2,180.2 125.8,174.6 127.5,180.2 129.1,180.2 130.7,180.2" fill="none" stroke="#c3c3c3" stroke-width="0.6" stroke-linejoin="round"/>
<polyline points="33.5,174.5 35.1,170.1 36.7,175.1 38.4,172.6 40.0,174.5 41.6,172.9 43.2,146.0 44.8,147.6 46.5,149.2 48.1,150.7 49.7,150.4 51.3,158.3 52.9,155.6 54.6,154.2 56.2,159.5 57.8,156.2 59.4,158.9 61.0,158.6 62.7,157.4 64.3,160.6 65.9,159.2 67.5,157.6 69.1,164.2 70.8,163.0 72.4,158.5 74.0,162.2 75.6,165.3 77.2,166.9 78.9,167.0 80.5,166.7 82.1,168.1 83.7,164.1 85.3,162.3 87.0,167.9 88.6,164.7 90.2,166.0 91.8,168.8 93.4,170.6 95.1,172.2 96.7,164.9 98.3,165.3 99.9,169.2 101.5,162.0 103.2,161.7 104.8,169.4 106.4,165.8 108.0,164.1 109.6,170.9 111.3,170.8 112.9,172.5 114.5,167.8 116.1,167.3 117.7,167.1 119.4,169.8 121.0,160.9 122.6,165.0 124.2,171.4 125.8,166.5 127.5,168.7 129.1,169.9 130.7,171.7" fill="none" stroke="#c3c3c3" stroke-width="0.6" stroke-linejoin="round"/>
<polyline points="33.5,173.2 35.1,172.1 36.7,170.7 38.4,171.2 40.0,171.1 41.6,172.8 43.2,159.3 44.8,158.9 46.5,166.4 48.1,167.7 49.7,154.6 51.3,156.5 52.9,159.0 54.6,166.0 56.2,160.5 57.8,168.7 59.4,163.9 61.0,167.6 62.7,159.1 64.3,160.3 65.9,166.0 67.5,165.2 69.1,155.4 70.8,160.6 72.4,163.4 74.0,165.5 75.6,160.8 77.2,169.6 78.9,164.7 80.5,169.1 82.1,165.7 83.7,163.9 85.3,162.1 87.0,158.5 88.6,166.2 90.2,166.9 91.8,167.9 93.4,162.8 95.1,159.7 96.7,161.9 98.3,162.7 99.9,164.1 101.5,168.5 103.2,161.7 104.8,162.5 106.4,167.5 108.0,169.2 109.6,174.7 111.3,168.9 112.9,162.6 114.5,160.9 116.1,161.8 117.7,165.4 119.4,166.8 121.0,165.8 122.6,163.6 124.2,165.1 125.8,165.8 127.5,168.7 129.1,167.2 130.7,163.4" fill="none" stroke="#c3c3c3" stroke-width="0.6" stroke-linejoin="round"/>
<polyline points="33.5,171.5 35.1,173.5 36.7,173.7 38.4,172.8 40.0,173.4 41.6,172.2 43.2,164.8 44.8,162.1 46.5,166.4 48.1,158.3 49.7,158.5 51.3,167.3 52.9,164.9 54.6,164.5 56.2,162.9 57.8,173.0 59.4,164.2 61.0,168.6 62.7,163.7 64.3,168.3 65.9,179.0 67.5,180.2 69.1,170.8 70.8,167.4 72.4,177.7 74.0,169.4 75.6,164.6 77.2,172.5 78.9,168.1 80.5,166.0 82.1,176.1 83.7,170.3 85.3,168.2 87.0,172.9 88.6,172.2 90.2,177.5 91.8,174.2 93.4,179.9 95.1,179.0 96.7,180.2 98.3,179.6 99.9,175.3 101.5,176.6 103.2,174.9 104.8,168.5 106.4,169.2 108.0,177.0 109.6,165.9 111.3,170.4 112.9,169.4 114.5,174.2 116.1,171.1 117.7,175.8 119.4,174.9 121.0,173.7 122.6,172.1 124.2,166.5 125.8,175.0 127.5,170.8 129.1,174.3 130.7,177.5" fill="none" stroke="#c3c3c3" stroke-width="0.6" stroke-linejoin="round"/>
<polyline points="33.5,172.8 35.1,174.8 36.7,170.0 38.4,169.3 40.0,172.7 41.6,176.5 43.2,157.1 44.8,160.5 46.5,160.3 48.1,165.1 49.7,160.7 51.3,158.0 52.9,159.0 54.6,157.9 56.2,172.7 57.8,165.5 59.4,162.7 61.0,168.9 62.7,167.8 64.3,164.6 65.9,167.7 67.5,167.0 69.1,170.6 70.8,173.4 72.4,166.3 74.0,166.3 75.6,165.8 77.2,171.4 78.9,169.0 80.5,170.2 82.1,171.0 83.7,165.0 85.3,167.3 87.0,172.6 88.6,171.8 90.2,171.2 91.8,166.8 93.4,166.0 95.1,164.0 96.7,166.2 98.3,167.6 99.9,162.4 101.5,172.2 103.2,166.1 104.8,169.4 106.4,171.4 108.0,167.2 109.6,161.6 111.3,172.0 112.9,171.3 114.5,168.7 116.1,173.8 117.7,173.8 119.4,166.5 121.0,169.0 122.6,162.7 124.2,167.9 125.8,175.4 127.5,167.7 129.1,173.2 130.7,164.8" fill="none" stroke="#c3c3c3" stroke-width="0.6" stroke-linejoin="round"/>
<polyline points="33.5,172.5 35.1,172.0 36.7,171.4 38.4,172.1 40.0,171.0 41.6,171.3 43.2,160.5 44.8,161.8 46.5,162.9 48.1,165.2 49.7,164.4 51.3,158.8 52.9,167.6 54.6,153.0 56.2,162.3 57.8,165.0 59.4,162.2 61.0,171.8 62.7,161.7 64.3,160.2 65.9,163.0 67.5,167.4 69.1,169.7 70.8,167.7 72.4,169.8 74.0,164.7 75.6,164.4 77.2,167.4 78.9,162.0 80.5,167.4 82.1,165.9 83.7,170.1 85.3,164.0 87.0,165.1 88.6,165.1 90.2,166.0 91.8,163.7 93.4,166.4 95.1,162.6 96.7,169.8 98.3,171.5 99.9,169.2 101.5,168.3 103.2,165.5 104.8,165.0 106.4,168.0 108.0,165.8 109.6,164.5 111.3,169.7 112.9,169.8 114.5,168.3 116.1,166.6 117.7,169.4 119.4,167.4 121.0,168.2 122.6,170.9 124.2,173.5 125.8,174.2 127.5,168.9 129.1,175.5 130.7,167.0" fill="none" stroke="#c3c3c3" stroke-width="0.6" stroke-linejoin="round"/>
<polyline points="33.5,172.8 35.1,172.2 36.7,172.7 38.4,172.2 40.0,172.4 41.6,171.3 43.2,150.6 44.8,144.5 46.5,154.5 48.1,155.3 49.7,159.1 51.3,156.4 52.9,161.1 54.6,154.4 56.2,151.1 57.8,161.7 59.4,166.1 61.0,150.3 62.7,166.1 64.3,162.2 65.9,162.9 67.5,157.7 69.1,159.4 70.8,166.7 72.4,162.3 74.0,164.4 75.6,164.4 77.2,173.0 78.9,170.0 80.5,160.8 82.1,162.9 83.7,160.6 85.3,159.4 87.0,162.0 88.6,169.7 90.2,166.6 91.8,168.8 93.4,166.0 95.1,164.6 96.7,166.5 98.3,166.4 99.9,174.4 101.5,175.3 103.2,169.9 104.8,170.2 106.4,160.0 108.0,166.1 109.6,177.0 111.3,166.1 112.9,170.9 114.5,173.3 116.1,167.3 117.7,167.2 119.4,166.3 121.0,171.3 122.6,169.0 124.2,174.7 125.8,174.3 127.5,169.7 129.1,179.4 130.7,169.4" fill="none" stroke="#c3c3c3" stroke-width="0.6" stroke-linejoin="round"/>
<polyline points="33.5,172.6 35.1,172.3 36.7,173.6 38.4,171.3 40.0,172.4 41.6,172.7 43.2,160.7 44.8,158.3 46.5,159.0 48.1,158.7 49.7,162.6 51.3,165.3 52.9,163.3 54.6,164.9 56.2,158.5 57.8,163.3 59.4,171.3 61.0,174.0 62.7,168.8 64.3,160.2 65.9,175.2 67.5,169.8 69.1,180.2 70.8,170.2 72.4,174.5 74.0,168.9 75.6,176.0 77.2,176.3 78.9,167.5 80.5,175.7 82.1,180.2 83.7,172.2 85.3,166.7 87.0,171.9 88.6,170.0 90.2,165.5 91.8,166.6 93.4,172.1 95.1,166.0 96.7,175.6 98.3,174.7 99.9,172.2 101.5,178.3 103.2,170.1 104.8,175.4 106.4,168.3 108.0,171.3 109.6,175.7 111.3,171.8 112.9,173.0 114.5,176.2 116.1,180.2 117.7,180.1 119.4,176.8 121.0,173.5 122.6,168.4 124.2,180.2 125.8,180.2 127.5,167.2 129.1,177.1 130.7,174.9" fill="none" stroke="#c3c3c3" stroke-width="0.6" stroke-linejoin="round"/>
<polyline points="33.5,172.6 35.1,173.0 36.7,173.7 38.4,172.1 40.0,171.0 41.6,170.6 43.2,166.0 44.8,154.8 46.5,159.6 48.1,160.2 49.7,164.2 51.3,163.0 52.9,174.2 54.6,169.2 56.2,167.3 57.8,174.6 59.4,167.0 61.0,164.8 62.7,171.0 64.3,170.6 65.9,171.2 67.5,172.6 69.1,166.8 70.8,165.0 72.4,164.7 74.0,167.9 75.6,172.1 77.2,164.5 78.9,165.6 80.5,162.5 82.1,175.4 83.7,172.7 85.3,170.0 87.0,163.9 88.6,163.9 90.2,165.4 91.8,168.5 93.4,163.8 95.1,167.5 96.7,173.9 98.3,170.3 99.9,170.2 101.5,161.7 103.2,167.7 104.8,169.3 106.4,167.5 108.0,164.6 109.6,169.4 111.3,166.5 112.9,167.9 114.5,164.1 116.1,169.5 117.7,174.4 119.4,168.2 121.0,172.1 122.6,165.4 124.2,172.9 125.8,173.9 127.5,170.5 129.1,175.1 130.7,168.9" fill="none" stroke="#c3c3c3" stroke-width="0.6" stroke-linejoin="round"/>
<polyline points="33.5,174.1 35.1,171.9 36.7,171.6 38.4,173.4 40.0,173.9 41.6,170.3 43.2,153.2 44.8,145.8 46.5,154.9 48.1,163.8 49.7,153.5 51.3,159.2 52.9,157.9 54.6,160.7 56.2,162.4 57.8,164.1 59.4,167.4 61.0,166.9 62.7,169.5 64.3,170.2 65.9,171.1 67.5,164.6 69.1,168.3 70.8,166.1 72.4,164.1 74.0,175.1 75.6,170.2 77.2,168.7 78.9,159.9 80.5,166.3 82.1,171.3 83.7,168.3 85.3,166.5 87.0,174.4 88.6,168.5 90.2,167.7 91.8,168.5 93.4,168.3 95.1,173.6 96.7,172.6 98.3,170.0 99.9,168.7 101.5,169.2 103.2,177.0 104.8,170.4 106.4,173.4 108.0,165.0 109.6,171.4 111.3,173.9 112.9,176.7 114.5,173.4 116.1,174.0 117.7,173.2 119.4,176.1 121.0,180.2 122.6,174.0 124.2,169.0 125.8,174.0 127.5,172.0 129.1,174.8 130.7,175.8" fill="none" stroke="#c3c3c3" stroke-width="0.6" stroke-linejoin="round"/>
<polyline points="33.5,172.5 35.1,170.9 36.7,171.2 38.4,171.4 40.0,173.5 41.6,169.5 43.2,158.0 44.8,160.4 46.5,161.4 48.1,159.5 49.7,158.5 51.3,166.5 52.9,159.8 54.6,154.3 56.2,160.4 57.8,162.5 59.4,157.9 61.0,156.8 62.7,169.7 64.3,164.6 65.9,166.8 67.5,161.9 69.1,157.9 70.8,162.8 72.4,169.7 74.0,162.8 75.6,157.5 77.2,163.1 78.9,163.7 80.5,164.9 82.1,161.1 83.7,163.4 85.3,162.9 87.0,168.6 88.6,166.6 90.2,169.2 91.8,166.0 93.4,157.3 95.1,157.0 96.7,166.9 98.3,169.9 99.9,170.6 101.5,167.0 103.2,159.7 104.8,164.1 106.4,168.4 108.0,173.0 109.6,166.9 111.3,165.2 112.9,164.1 114.5,171.2 116.1,171.8 117.7,161.3 119.4,171.8 121.0,165.1 122.6,161.8 124.2,161.1 125.8,164.4 127.5,177.1 129.1,180.2 130.7,165.5" fill="none" stroke="#c3c3c3" stroke-width="0.6" stroke-linejoin="round"/>
<polyline points="33.5,168.5 35.1,173.5 36.7,174.0 38.4,172.7 40.0,171.5 41.6,172.7 43.2,156.9 44.8,152.0 46.5,161.6 48.1,162.8 49.7,161.6 51.3,156.4 52.9,163.1 54.6,171.6 56.2,172.8 57.8,171.2 59.4,166.6 61.0,168.3 62.7,170.7 64.3,170.1 65.9,173.8 67.5,168.0 69.1,160.7 70.8,159.7 72.4,165.7 74.0,164.9 75.6,173.0 77.2,176.0 78.9,172.2 80.5,173.9 82.1,172.4 83.7,172.7 85.3,170.2 87.0,170.3 88.6,176.7 90.2,172.0 91.8,172.2 93.4,177.3 95.1,177.4 96.7,172.1 98.3,174.0 99.9,169.5 101.5,173.5 103.2,175.0 104.8,174.1 106.4,174.8 108.0,175.8 109.6,164.6 111.3,169.6 112.9,174.1 114.5,172.5 116.1,170.6 117.7,173.2 119.4,180.2 121.0,175.0 122.6,172.6 124.2,172.9 125.8,170.3 127.5,176.6 129.1,171.9 130.7,178.7" fill="none" stroke="#c3c3c3" stroke-width="0.6" stroke-linejoin="round"/>
<polyline points="33.5,224.3 35.1,224.2 36.7,225.1 38.4,225.0 40.0,222.5 41.6,220.5 43.2,192.9 44.8,192.9 46.5,192.9 48.1,192.9 49.7,209.1 51.3,205.3 52.9,205.8 54.6,208.5 56.2,215.9 57.8,210.8 59.4,210.5 61.0,210.6 62.7,213.4 64.3,208.3 65.9,216.2 67.5,213.1 69.1,217.9 70.8,216.1 72.4,209.5 74.0,210.6 75.6,217.4 77.2,221.8 78.9,221.3 80.5,216.5 82.1,219.2 83.7,205.4 85.3,211.3 87.0,211.0 88.6,211.8 90.2,217.9 91.8,217.3 93.4,217.1 95.1,216.1 96.7,219.5 98.3,221.1 99.9,216.5 101.5,221.5 103.2,214.8 104.8,224.4 106.4,213.4 108.0,215.7 109.6,212.6 111.3,216.7 112.9,222.5 114.5,215.3 116.1,224.3 117.7,224.3 119.4,220.3 121.0,215.8 122.6,221.0 124.2,206.9 125.8,213.0 127.5,220.9 129.1,218.1 130.7,227.7" fill="none" stroke="#c3c3c3" stroke-width="0.6" stroke-linejoin="round"/>
<polyline points="33.5,222.4 35.1,225.7 36.7,223.9 38.4,223.5 40.0,224.0 41.6,221.9 43.2,198.0 44.8,211.9 46.5,206.5 48.1,213.9 49.7,212.3 51.3,211.7 52.9,211.3 54.6,207.1 56.2,208.8 57.8,204.0 59.4,207.8 61.0,211.5 62.7,214.9 64.3,221.4 65.9,215.1 67.5,205.1 69.1,215.0 70.8,216.5 72.4,215.4 74.0,215.9 75.6,219.4 77.2,214.1 78.9,213.5 80.5,209.2 82.1,213.6 83.7,211.1 85.3,214.6 87.0,211.4 88.6,207.7 90.2,220.2 91.8,218.5 93.4,221.2 95.1,223.2 96.7,211.6 98.3,220.9 99.9,214.4 101.5,209.2 103.2,212.4 104.8,215.0 106.4,225.2 108.0,218.3 109.6,217.1 111.3,219.6 112.9,219.6 114.5,217.7 116.1,226.7 117.7,215.3 119.4,212.8 121.0,209.2 122.6,211.8 124.2,213.2 125.8,215.3 127.5,216.4 129.1,224.2 130.7,222.7" fill="none" stroke="#c3c3c3" stroke-width="0.6" stroke-linejoin="round"/>
<polyline points="33.5,225.3 35.1,221.7 36.7,223.8 38.4,223.4 40.0,221.4 41.6,223.0 43.2,207.7 44.8,207.5 46.5,200.8 48.1,203.7 49.7,206.2 51.3,216.7 52.9,215.1 54.6,213.1 56.2,210.3 57.8,201.1 59.4,199.0 61.0,209.2 62.7,204.8 64.3,216.8 65.9,219.9 67.5,222.5 69.1,213.7 70.8,220.7 72.4,225.4 74.0,229.6 75.6,215.2 77.2,220.3 78.9,221.0 80.5,221.3 82.1,215.8 83.7,222.0 85.3,229.8 87.0,228.2 88.6,218.4 90.2,218.3 91.8,223.4 93.4,221.5 95.1,218.5 96.7,226.6 98.3,225.3 99.9,227.7 101.5,223.0 103.2,228.1 104.8,221.7 106.4,217.9 108.0,221.7 109.6,216.3 111.3,226.5 112.9,225.8 114.5,215.9 116.1,222.2 117.7,226.0 119.4,221.8 121.0,224.3 122.6,220.4 124.2,222.0 125.8,222.2 127.5,224.6 129.1,219.0 130.7,217.5" fill="none" stroke="#c3c3c3" stroke-width="0.6" stroke-linejoin="round"/>
<polyline points="33.5,224.7 35.1,223.1 36.7,223.6 38.4,225.2 40.0,222.3 41.6,223.5 43.2,193.9 44.8,207.7 46.5,198.6 48.1,214.6 49.7,212.7 51.3,215.6 52.9,219.6 54.6,218.4 56.2,219.9 57.8,231.8 59.4,220.8 61.0,217.1 62.7,229.9 64.3,228.1 65.9,226.0 67.5,225.4 69.1,216.5 70.8,219.4 72.4,218.1 74.0,228.1 75.6,224.2 77.2,217.1 78.9,212.6 80.5,212.8 82.1,218.3 83.7,217.8 85.3,223.3 87.0,217.9 88.6,225.1 90.2,225.0 91.8,221.1 93.4,225.0 95.1,221.8 96.7,223.6 98.3,222.7 99.9,231.8 101.5,222.4 103.2,226.9 104.8,222.8 106.4,223.6 108.0,229.6 109.6,225.9 111.3,225.5 112.9,217.1 114.5,222.4 116.1,231.8 117.7,231.2 119.4,214.6 121.0,218.7 122.6,224.4 124.2,219.9 125.8,225.8 127.5,222.3 129.1,231.8 130.7,231.8" fill="none" stroke="#c3c3c3" stroke-width="0.6" stroke-linejoin="round"/>
<polyline points="33.5,222.7 35.1,224.5 36.7,224.9 38.4,221.8 40.0,221.6 41.6,221.4 43.2,200.9 44.8,202.3 46.5,206.2 48.1,201.2 49.7,201.6 51.3,205.7 52.9,203.7 54.6,211.1 56.2,224.2 57.8,213.4 59.4,207.4 61.0,208.3 62.7,219.2 64.3,210.6 65.9,215.8 67.5,214.8 69.1,210.8 70.8,209.7 72.4,206.6 74.0,210.2 75.6,220.4 77.2,223.6 78.9,217.5 80.5,219.1 82.1,216.2 83.7,209.1 85.3,201.7 87.0,208.7 88.6,215.1 90.2,215.4 91.8,215.0 93.4,219.9 95.1,214.8 96.7,214.0 98.3,216.2 99.9,216.1 101.5,223.2 103.2,220.5 104.8,218.0 106.4,215.7 108.0,223.2 109.6,220.2 111.3,226.4 112.9,222.6 114.5,217.6 116.1,215.5 117.7,216.4 119.4,218.5 121.0,221.3 122.6,220.5 124.2,224.8 125.8,212.7 127.5,217.3 129.1,212.1 130.7,212.9" fill="none" stroke="#c3c3c3" stroke-width="0.6" stroke-linejoin="round"/>
<polyline points="33.5,225.7 35.1,226.8 36.7,225.4 38.4,225.0 40.0,225.0 41.6,223.8 43.2,201.0 44.8,205.4 46.5,197.6 48.1,204.3 49.7,202.6 51.3,201.1 52.9,206.1 54.6,208.9 56.2,207.6 57.8,207.9 59.4,200.6 61.0,210.2 62.7,214.7 64.3,202.8 65.9,206.9 67.5,208.0 69.1,201.8 70.8,207.2 72.4,207.7 74.0,207.6 75.6,211.2 77.2,208.4 78.9,208.5 80.5,211.5 82.1,209.3 83.7,210.5 85.3,213.5 87.0,205.6 88.6,210.6 90.2,214.3 91.8,207.3 93.4,201.8 95.1,202.0 96.7,205.8 98.3,209.5 99.9,209.4 101.5,212.6 103.2,209.2 104.8,211.6 106.4,210.5 108.0,202.6 109.6,208.9 111.3,211.9 112.9,212.6 114.5,210.9 116.1,207.0 117.7,205.0 119.4,201.8 121.0,210.9 122.6,215.2 124.2,217.1 125.8,219.4 127.5,207.7 129.1,213.3 130.7,208.1" fill="none" stroke="#c3c3c3" stroke-width="0.6" stroke-linejoin="round"/>
<polyline points="33.5,223.6 35.1,223.9 36.7,226.0 38.4,224.5 40.0,222.9 41.6,227.0 43.2,209.6 44.8,212.7 46.5,198.3 48.1,207.3 49.7,206.4 51.3,220.3 52.9,214.3 54.6,210.9 56.2,221.6 57.8,210.2 59.4,210.4 61.0,206.6 62.7,215.0 64.3,216.0 65.9,215.7 67.5,213.3 69.1,210.9 70.8,210.1 72.4,207.8 74.0,219.1 75.6,220.1 77.2,211.8 78.9,211.8 80.5,217.0 82.1,224.4 83.7,214.7 85.3,213.5 87.0,214.0 88.6,217.2 90.2,215.7 91.8,220.1 93.4,220.5 95.1,219.3 96.7,223.9 98.3,217.4 99.9,214.7 101.5,225.7 103.2,204.3 104.8,202.9 106.4,202.5 108.0,215.8 109.6,212.5 111.3,220.8 112.9,209.0 114.5,215.5 116.1,215.5 117.7,212.7 119.4,221.5 121.0,216.5 122.6,219.3 124.2,215.6 125.8,217.9 127.5,215.8 129.1,217.6 130.7,217.2" fill="none" stroke="#c3c3c3" stroke-width="0.6" stroke-linejoin="round"/>
<polyline points="33.5,226.8 35.1,223.8 36.7,223.6 38.4,223.3 40.0,222.8 41.6,223.5 43.2,209.0 44.8,210.7 46.5,203.5 48.1,208.0 49.7,212.4 51.3,215.8 52.9,211.0 54.6,212.1 56.2,212.9 57.8,218.0 59.4,212.7 61.0,211.6 62.7,208.8 64.3,215.4 65.9,228.0 67.5,215.1 69.1,225.1 70.8,207.3 72.4,209.8 74.0,221.6 75.6,214.4 77.2,215.7 78.9,222.8 80.5,213.0 82.1,212.5 83.7,208.3 85.3,220.5 87.0,219.7 88.6,224.2 90.2,221.2 91.8,220.8 93.4,218.3 95.1,220.2 96.7,214.5 98.3,217.0 99.9,214.5 101.5,224.2 103.2,215.1 104.8,217.7 106.4,222.7 108.0,220.5 109.6,217.1 111.3,211.1 112.9,212.0 114.5,213.4 116.1,215.0 117.7,217.1 119.4,215.9 121.0,212.2 122.6,224.1 124.2,211.4 125.8,222.9 127.5,219.8 129.1,227.2 130.7,220.8" fill="none" stroke="#c3c3c3" stroke-width="0.6" stroke-linejoin="round"/>
<polyline points="33.5,223.8 35.1,226.3 36.7,222.1 38.4,222.9 40.0,223.5 41.6,224.0 43.2,192.9 44.8,192.9 46.5,192.9 48.1,202.7 49.7,210.4 51.3,212.5 52.9,210.4 54.6,220.8 56.2,214.9 57.8,217.1 59.4,213.2 61.0,221.8 62.7,215.4 64.3,209.7 65.9,218.4 67.5,220.9 69.1,220.7 70.8,216.3 72.4,219.2 74.0,216.6 75.6,220.5 77.2,223.8 78.9,225.3 80.5,230.1 82.1,215.1 83.7,222.5 85.3,224.2 87.0,218.6 88.6,223.7 90.2,223.8 91.8,219.3 93.4,225.9 95.1,231.8 96.7,228.9 98.3,229.2 99.9,231.1 101.5,226.0 103.2,229.8 104.8,223.0 106.4,225.8 108.0,228.4 109.6,231.0 111.3,224.8 112.9,223.8 114.5,226.9 116.1,224.8 117.7,223.7 119.4,223.1 121.0,215.0 122.6,222.8 124.2,225.1 125.8,224.2 127.5,220.3 129.1,222.3 130.7,225.0" fill="none" stroke="#c3c3c3" stroke-width="0.6" stroke-linejoin="round"/>
<polyline points="33.5,226.5 35.1,226.1 36.7,223.4 38.4,223.7 40.0,221.6 41.6,223.7 43.2,204.2 44.8,202.3 46.5,206.7 48.1,203.8 49.7,204.2 51.3,200.4 52.9,203.6 54.6,208.9 56.2,210.9 57.8,216.4 59.4,209.7 61.0,204.1 62.7,209.4 64.3,212.2 65.9,213.3 67.5,219.8 69.1,210.9 70.8,213.2 72.4,211.5 74.0,206.0 75.6,211.7 77.2,213.7 78.9,219.0 80.5,205.1 82.1,200.6 83.7,211.5 85.3,212.9 87.0,214.5 88.6,214.9 90.2,212.6 91.8,212.6 93.4,213.0 95.1,209.4 96.7,212.3 98.3,205.8 99.9,213.1 101.5,212.7 103.2,206.6 104.8,208.3 106.4,208.8 108.0,208.5 109.6,205.5 111.3,215.2 112.9,209.6 114.5,211.8 116.1,208.4 117.7,212.7 119.4,215.7 121.0,219.5 122.6,217.3 124.2,208.8 125.8,216.8 127.5,214.2 129.1,213.8 130.7,211.3" fill="none" stroke="#c3c3c3" stroke-width="0.6" stroke-linejoin="round"/>
<polyline points="33.5,222.6 35.1,224.9 36.7,225.2 38.4,224.9 40.0,225.2 41.6,221.6 43.2,196.2 44.8,206.8 46.5,203.7 48.1,212.3 49.7,208.5 51.3,214.3 52.9,209.7 54.6,214.3 56.2,218.1 57.8,205.0 59.4,213.8 61.0,213.1 62.7,219.6 64.3,218.4 65.9,218.2 67.5,212.2 69.1,227.6 70.8,215.0 72.4,215.8 74.0,215.5 75.6,217.5 77.2,221.0 78.9,215.3 80.5,223.1 82.1,218.0 83.7,220.3 85.3,210.8 87.0,216.3 88.6,218.8 90.2,218.1 91.8,216.6 93.4,220.5 95.1,222.2 96.7,217.5 98.3,213.3 99.9,224.0 101.5,221.1 103.2,226.1 104.8,225.9 106.4,221.8 108.0,215.9 109.6,219.1 111.3,218.0 112.9,225.8 114.5,215.3 116.1,224.3 117.7,215.9 119.4,218.6 121.0,215.7 122.6,218.0 124.2,219.4 125.8,222.8 127.5,219.5 129.1,224.2 130.7,229.2" fill="none" stroke="#c3c3c3" stroke-width="0.6" stroke-linejoin="round"/>
<polyline points="33.5,223.9 35.1,222.8 36.7,223.3 38.4,223.9 40.0,225.4 41.6,224.8 43.2,197.2 44.8,204.3 46.5,215.9 48.1,211.1 49.7,206.8 51.3,220.9 52.9,206.9 54.6,211.5 56.2,213.9 57.8,210.9 59.4,214.3 61.0,213.9 62.7,214.8 64.3,213.2 65.9,214.0 67.5,210.2 69.1,209.1 70.8,210.7 72.4,210.2 74.0,210.8 75.6,214.7 77.2,224.0 78.9,218.0 80.5,212.9 82.1,215.8 83.7,217.0 85.3,213.0 87.0,212.3 88.6,214.3 90.2,207.7 91.8,217.9 93.4,218.5 95.1,209.3 96.7,217.6 98.3,215.3 99.9,219.0 101.5,217.9 103.2,213.9 104.8,212.0 106.4,211.5 108.0,220.5 109.6,217.8 111.3,221.9 112.9,215.1 114.5,217.2 116.1,216.9 117.7,214.0 119.4,218.4 121.0,210.3 122.6,211.5 124.2,217.5 125.8,217.3 127.5,218.8 129.1,215.6 130.7,212.7" fill="none" stroke="#c3c3c3" stroke-width="0.6" stroke-linejoin="round"/>
<polyline points="33.5,222.1 35.1,222.2 36.7,221.8 38.4,222.5 40.0,226.6 41.6,226.3 43.2,214.2 44.8,206.6 46.5,214.3 48.1,209.7 49.7,213.0 51.3,218.2 52.9,215.1 54.6,224.2 56.2,224.7 57.8,213.5 59.4,208.3 61.0,217.5 62.7,220.0 64.3,223.3 65.9,220.9 67.5,225.7 69.1,223.6 70.8,219.0 72.4,228.7 74.0,225.6 75.6,227.6 77.2,231.8 78.9,225.3 80.5,224.2 82.1,216.2 83.7,220.9 85.3,224.8 87.0,231.8 88.6,229.0 90.2,226.5 91.8,219.6 93.4,220.5 95.1,217.2 96.7,218.9 98.3,225.7 99.9,227.9 101.5,223.3 103.2,225.3 104.8,223.1 106.4,228.4 108.0,228.9 109.6,224.1 111.3,223.7 112.9,220.7 114.5,223.4 116.1,231.8 117.7,227.5 119.4,230.0 121.0,229.2 122.6,231.8 124.2,225.9 125.8,222.7 127.5,229.9 129.1,230.7 130.7,224.3" fill="none" stroke="#c3c3c3" stroke-width="0.6" stroke-linejoin="round"/>
<polyline points="33.5,222.7 35.1,223.4 36.7,223.9 38.4,221.3 40.0,223.4 41.6,222.5 43.2,207.7 44.8,215.8 46.5,202.2 48.1,216.4 49.7,207.2 51.3,219.4 52.9,219.6 54.6,217.8 56.2,218.2 57.8,220.1 59.4,214.8 61.0,218.9 62.7,223.8 64.3,210.3 65.9,218.0 67.5,220.9 69.1,220.9 70.8,213.9 72.4,225.7 74.0,226.7 75.6,226.3 77.2,217.8 78.9,218.7 80.5,219.4 82.1,226.2 83.7,231.8 85.3,220.1 87.0,218.8 88.6,221.0 90.2,218.8 91.8,216.5 93.4,219.0 95.1,217.0 96.7,218.0 98.3,227.9 99.9,223.8 101.5,227.0 103.2,229.2 104.8,228.2 106.4,226.6 108.0,227.5 109.6,223.4 111.3,227.6 112.9,214.9 114.5,228.4 116.1,219.8 117.7,222.9 119.4,220.1 121.0,226.9 122.6,226.8 124.2,220.2 125.8,220.0 127.5,223.5 129.1,225.5 130.7,227.3" fill="none" stroke="#c3c3c3" stroke-width="0.6" stroke-linejoin="round"/>
<polyline points="33.5,220.1 35.1,220.3 36.7,223.4 38.4,226.9 40.0,227.2 41.6,223.6 43.2,201.5 44.8,202.8 46.5,204.5 48.1,208.8 49.7,202.7 51.3,207.7 52.9,208.9 54.6,216.0 56.2,208.6 57.8,207.1 59.4,202.6 61.0,201.4 62.7,208.0 64.3,212.4 65.9,216.7 67.5,212.7 69.1,207.7 70.8,204.8 72.4,204.3 74.0,206.7 75.6,211.6 77.2,212.5 78.9,203.5 80.5,209.8 82.1,208.9 83.7,205.0 85.3,209.5 87.0,213.2 88.6,208.1 90.2,205.5 91.8,209.0 93.4,212.1 95.1,211.0 96.7,218.7 98.3,214.5 99.9,209.8 101.5,216.0 103.2,211.1 104.8,215.6 106.4,213.8 108.0,218.0 109.6,209.3 111.3,215.0 112.9,214.8 114.5,209.4 116.1,215.3 117.7,222.6 119.4,216.1 121.0,210.4 122.6,212.1 124.2,218.1 125.8,214.9 127.5,219.4 129.1,211.4 130.7,218.2" fill="none" stroke="#c3c3c3" stroke-width="0.6" stroke-linejoin="round"/>
<polyline points="33.5,222.8 35.1,226.2 36.7,224.3 38.4,222.6 40.0,221.6 41.6,221.8 43.2,209.2 44.8,203.6 46.5,206.7 48.1,214.1 49.7,214.7 51.3,212.9 52.9,211.0 54.6,217.8 56.2,208.5 57.8,209.7 59.4,204.6 61.0,212.9 62.7,214.4 64.3,220.4 65.9,217.7 67.5,218.4 69.1,209.1 70.8,218.6 72.4,219.5 74.0,223.1 75.6,222.3 77.2,217.5 78.9,222.6 80.5,217.8 82.1,224.0 83.7,214.9 85.3,213.9 87.0,217.0 88.6,215.6 90.2,219.8 91.8,212.8 93.4,217.9 95.1,212.8 96.7,224.5 98.3,219.8 99.9,215.0 101.5,220.6 103.2,217.0 104.8,218.0 106.4,216.8 108.0,225.9 109.6,224.6 111.3,210.2 112.9,216.1 114.5,214.4 116.1,213.8 117.7,222.7 119.4,214.3 121.0,211.0 122.6,218.3 124.2,215.4 125.8,218.8 127.5,220.8 129.1,220.8 130.7,215.6" fill="none" stroke="#c3c3c3" stroke-width="0.6" stroke-linejoin="round"/>
<polyline points="33.5,222.4 35.1,224.8 36.7,223.2 38.4,225.0 40.0,221.9 41.6,225.7 43.2,207.6 44.8,210.4 46.5,208.0 48.1,211.2 49.7,210.0 51.3,216.2 52.9,221.1 54.6,226.3 56.2,219.6 57.8,214.0 59.4,209.6 61.0,216.2 62.7,209.1 64.3,224.4 65.9,223.7 67.5,222.3 69.1,214.5 70.8,215.7 72.4,216.7 74.0,223.3 75.6,221.0 77.2,225.7 78.9,226.5 80.5,215.2 82.1,218.9 83.7,225.4 85.3,219.8 87.0,222.5 88.6,222.6 90.2,217.8 91.8,230.7 93.4,223.2 95.1,225.7 96.7,222.1 98.3,229.8 99.9,230.4 101.5,230.3 103.2,229.3 104.8,227.9 106.4,230.4 108.0,226.6 109.6,224.7 111.3,227.2 112.9,220.7 114.5,213.0 116.1,225.8 117.7,225.1 119.4,221.5 121.0,222.7 122.6,220.0 124.2,220.1 125.8,224.4 127.5,224.7 129.1,227.8 130.7,224.4" fill="none" stroke="#c3c3c3" stroke-width="0.6" stroke-linejoin="round"/>
<polyline points="33.5,223.6 35.1,224.3 36.7,223.5 38.4,225.2 40.0,223.4 41.6,222.1 43.2,209.0 44.8,203.8 46.5,201.4 48.1,215.5 49.7,202.7 51.3,205.6 52.9,215.8 54.6,214.2 56.2,217.6 57.8,202.0 59.4,209.4 61.0,219.1 62.7,216.9 64.3,213.7 65.9,221.7 67.5,216.0 69.1,221.0 70.8,211.7 72.4,214.7 74.0,215.6 75.6,216.4 77.2,224.7 78.9,224.4 80.5,221.4 82.1,218.5 83.7,214.9 85.3,214.7 87.0,218.8 88.6,216.2 90.2,221.3 91.8,216.1 93.4,211.8 95.1,213.9 96.7,221.6 98.3,221.6 99.9,219.4 101.5,211.7 103.2,217.0 104.8,212.1 106.4,220.4 108.0,221.7 109.6,217.4 111.3,217.8 112.9,218.1 114.5,216.2 116.1,215.0 117.7,216.7 119.4,223.5 121.0,228.0 122.6,215.0 124.2,213.3 125.8,213.5 127.5,214.4 129.1,218.9 130.7,217.5" fill="none" stroke="#c3c3c3" stroke-width="0.6" stroke-linejoin="round"/>
<polyline points="33.5,222.6 35.1,221.6 36.7,226.7 38.4,223.9 40.0,224.2 41.6,223.6 43.2,200.8 44.8,195.5 46.5,205.4 48.1,203.6 49.7,199.7 51.3,210.8 52.9,213.4 54.6,219.3 56.2,218.5 57.8,208.6 59.4,210.1 61.0,212.3 62.7,213.9 64.3,210.8 65.9,217.1 67.5,220.6 69.1,221.2 70.8,221.1 72.4,219.6 74.0,206.7 75.6,214.5 77.2,215.4 78.9,206.5 80.5,222.1 82.1,220.6 83.7,216.5 85.3,218.0 87.0,219.4 88.6,217.5 90.2,223.5 91.8,225.8 93.4,222.1 95.1,216.5 96.7,219.5 98.3,223.3 99.9,223.3 101.5,217.3 103.2,223.1 104.8,223.0 106.4,222.3 108.0,217.8 109.6,218.6 111.3,210.9 112.9,217.6 114.5,216.9 116.1,217.7 117.7,217.8 119.4,217.8 121.0,219.4 122.6,219.7 124.2,216.7 125.8,218.4 127.5,218.8 129.1,221.3 130.7,221.5" fill="none" stroke="#c3c3c3" stroke-width="0.6" stroke-linejoin="round"/>
<polyline points="33.5,223.2 35.1,226.1 36.7,225.9 38.4,224.9 40.0,226.5 41.6,223.9 43.2,216.6 44.8,214.4 46.5,211.4 48.1,208.0 49.7,213.5 51.3,217.1 52.9,217.6 54.6,226.4 56.2,217.2 57.8,207.0 59.4,215.4 61.0,220.9 62.7,212.0 64.3,215.5 65.9,213.3 67.5,209.8 69.1,214.6 70.8,205.9 72.4,208.1 74.0,219.6 75.6,225.8 77.2,220.0 78.9,215.2 80.5,219.6 82.1,214.1 83.7,211.7 85.3,219.5 87.0,221.0 88.6,218.5 90.2,221.8 91.8,213.4 93.4,220.4 95.1,217.1 96.7,214.4 98.3,211.5 99.9,223.9 101.5,216.3 103.2,222.5 104.8,215.2 106.4,216.3 108.0,218.2 109.6,207.8 111.3,216.1 112.9,220.0 114.5,219.1 116.1,218.5 117.7,222.3 119.4,221.6 121.0,217.8 122.6,219.7 124.2,216.9 125.8,213.3 127.5,228.1 129.1,224.8 130.7,224.3" fill="none" stroke="#c3c3c3" stroke-width="0.6" stroke-linejoin="round"/>
<polyline points="33.5,223.4 35.1,224.2 36.7,225.3 38.4,224.6 40.0,223.8 41.6,223.7 43.2,208.8 44.8,203.2 46.5,211.4 48.1,202.7 49.7,214.3 51.3,216.8 52.9,215.0 54.6,227.1 56.2,216.4 57.8,226.8 59.4,216.0 61.0,223.6 62.7,221.1 64.3,229.5 65.9,225.0 67.5,228.1 69.1,222.1 70.8,213.6 72.4,223.0 74.0,225.6 75.6,226.7 77.2,231.8 78.9,224.5 80.5,219.1 82.1,223.9 83.7,220.4 85.3,223.0 87.0,224.8 88.6,222.4 90.2,229.6 91.8,225.3 93.4,231.8 95.1,228.1 96.7,231.0 98.3,226.4 99.9,224.9 101.5,225.0 103.2,223.5 104.8,228.6 106.4,227.9 108.0,222.6 109.6,219.8 111.3,222.0 112.9,218.6 114.5,222.1 116.1,220.1 117.7,229.0 119.4,222.7 121.0,224.1 122.6,226.2 124.2,227.1 125.8,228.9 127.5,230.6 129.1,230.4 130.7,226.3" fill="none" stroke="#c3c3c3" stroke-width="0.6" stroke-linejoin="round"/>
<polyline points="33.5,225.9 35.1,224.0 36.7,223.5 38.4,222.9 40.0,220.8 41.6,224.2 43.2,209.4 44.8,201.3 46.5,210.8 48.1,207.4 49.7,211.4 51.3,208.4 52.9,212.1 54.6,214.5 56.2,220.0 57.8,208.9 59.4,214.9 61.0,211.3 62.7,214.4 64.3,215.5 65.9,208.7 67.5,211.3 69.1,206.8 70.8,213.9 72.4,217.6 74.0,218.5 75.6,209.2 77.2,209.6 78.9,212.1 80.5,215.0 82.1,215.1 83.7,213.9 85.3,213.5 87.0,214.5 88.6,219.4 90.2,213.6 91.8,208.3 93.4,220.2 95.1,209.2 96.7,214.7 98.3,219.5 99.9,220.2 101.5,219.9 103.2,225.6 104.8,224.3 106.4,213.5 108.0,213.7 109.6,224.3 111.3,220.6 112.9,217.1 114.5,223.4 116.1,218.4 117.7,220.0 119.4,220.4 121.0,221.1 122.6,216.1 124.2,221.8 125.8,216.7 127.5,213.7 129.1,219.5 130.7,220.7" fill="none" stroke="#c3c3c3" stroke-width="0.6" stroke-linejoin="round"/>
<polyline points="33.5,225.6 35.1,223.4 36.7,224.4 38.4,225.4 40.0,221.9 41.6,223.6 43.2,203.7 44.8,209.3 46.5,210.4 48.1,208.3 49.7,213.1 51.3,218.4 52.9,216.5 54.6,220.9 56.2,219.4 57.8,211.8 59.4,225.6 61.0,225.8 62.7,221.7 64.3,228.4 65.9,222.7 67.5,230.6 69.1,223.3 70.8,224.3 72.4,222.7 74.0,225.7 75.6,227.8 77.2,227.8 78.9,224.3 80.5,229.1 82.1,227.9 83.7,225.1 85.3,229.8 87.0,223.9 88.6,231.8 90.2,226.8 91.8,231.8 93.4,225.5 95.1,225.9 96.7,228.6 98.3,231.8 99.9,231.8 101.5,227.7 103.2,225.5 104.8,231.0 106.4,231.8 108.0,231.8 109.6,227.2 111.3,231.8 112.9,228.6 114.5,228.8 116.1,230.8 117.7,226.4 119.4,218.9 121.0,227.9 122.6,231.2 124.2,230.5 125.8,230.8 127.5,229.4 129.1,231.8 130.7,229.5" fill="none" stroke="#c3c3c3" stroke-width="0.6" stroke-linejoin="round"/>
<polyline points="33.5,225.5 35.1,226.4 36.7,224.9 38.4,223.9 40.0,225.5 41.6,225.7 43.2,202.9 44.8,210.9 46.5,207.0 48.1,211.6 49.7,217.5 51.3,221.0 52.9,216.7 54.6,222.3 56.2,217.2 57.8,208.6 59.4,213.9 61.0,210.2 62.7,213.6 64.3,221.0 65.9,218.5 67.5,217.9 69.1,213.7 70.8,213.2 72.4,220.9 74.0,224.0 75.6,214.0 77.2,225.6 78.9,223.4 80.5,220.0 82.1,215.7 83.7,221.1 85.3,218.4 87.0,217.9 88.6,222.4 90.2,224.4 91.8,216.1 93.4,223.1 95.1,222.6 96.7,226.5 98.3,228.4 99.9,225.6 101.5,220.5 103.2,228.2 104.8,227.0 106.4,220.8 108.0,220.1 109.6,222.1 111.3,226.7 112.9,224.6 114.5,231.0 116.1,219.8 117.7,227.4 119.4,221.4 121.0,222.4 122.6,222.3 124.2,229.4 125.8,230.5 127.5,217.7 129.1,224.6 130.7,226.4" fill="none" stroke="#c3c3c3" stroke-width="0.6" stroke-linejoin="round"/>
<polyline points="33.5,222.6 35.1,223.7 36.7,219.4 38.4,225.2 40.0,226.7 41.6,224.8 43.2,198.2 44.8,201.1 46.5,201.1 48.1,202.2 49.7,209.5 51.3,212.2 52.9,220.2 54.6,221.1 56.2,213.7 57.8,203.2 59.4,218.9 61.0,218.3 62.7,218.1 64.3,216.9 65.9,231.2 67.5,227.2 69.1,220.2 70.8,217.1 72.4,221.9 74.0,226.4 75.6,224.3 77.2,226.9 78.9,225.0 80.5,223.7 82.1,215.8 83.7,220.2 85.3,221.1 87.0,221.4 88.6,221.5 90.2,223.5 91.8,219.7 93.4,220.8 95.1,217.2 96.7,231.8 98.3,221.4 99.9,219.2 101.5,221.3 103.2,222.0 104.8,219.4 106.4,213.1 108.0,228.7 109.6,228.4 111.3,222.6 112.9,225.6 114.5,219.4 116.1,216.4 117.7,224.1 119.4,226.3 121.0,221.5 122.6,223.5 124.2,211.3 125.8,221.4 127.5,227.8 129.1,225.2 130.7,224.8" fill="none" stroke="#c3c3c3" stroke-width="0.6" stroke-linejoin="round"/>
<polyline points="33.5,226.4 35.1,221.2 36.7,224.4 38.4,225.5 40.0,227.1 41.6,224.8 43.2,193.0 44.8,196.5 46.5,194.6 48.1,201.4 49.7,204.1 51.3,210.7 52.9,204.4 54.6,202.8 56.2,210.8 57.8,218.9 59.4,213.1 61.0,208.4 62.7,216.0 64.3,215.3 65.9,213.3 67.5,213.6 69.1,213.1 70.8,223.1 72.4,218.3 74.0,216.7 75.6,220.6 77.2,224.7 78.9,225.2 80.5,209.4 82.1,213.9 83.7,213.7 85.3,219.9 87.0,217.0 88.6,222.7 90.2,216.4 91.8,210.9 93.4,212.6 95.1,214.7 96.7,218.2 98.3,218.2 99.9,222.0 101.5,224.4 103.2,227.2 104.8,218.4 106.4,218.6 108.0,228.2 109.6,214.4 111.3,218.9 112.9,214.7 114.5,213.1 116.1,223.8 117.7,213.2 119.4,214.2 121.0,225.8 122.6,217.1 124.2,224.0 125.8,222.4 127.5,224.0 129.1,215.2 130.7,230.6" fill="none" stroke="#c3c3c3" stroke-width="0.6" stroke-linejoin="round"/>
<polyline points="33.5,222.6 35.1,222.7 36.7,225.4 38.4,224.0 40.0,220.4 41.6,223.7 43.2,205.2 44.8,207.6 46.5,199.5 48.1,204.4 49.7,206.9 51.3,211.6 52.9,207.4 54.6,210.5 56.2,208.4 57.8,212.0 59.4,211.7 61.0,206.5 62.7,208.2 64.3,211.1 65.9,208.9 67.5,210.6 69.1,213.2 70.8,212.3 72.4,207.5 74.0,208.0 75.6,210.6 77.2,206.7 78.9,213.6 80.5,212.7 82.1,205.2 83.7,208.3 85.3,207.5 87.0,210.0 88.6,208.3 90.2,217.1 91.8,208.3 93.4,214.1 95.1,213.6 96.7,218.7 98.3,213.9 99.9,214.0 101.5,214.2 103.2,206.4 104.8,222.2 106.4,214.0 108.0,212.0 109.6,208.4 111.3,211.6 112.9,219.2 114.5,211.0 116.1,214.8 117.7,217.8 119.4,217.9 121.0,212.4 122.6,206.5 124.2,214.0 125.8,215.8 127.5,212.4 129.1,211.7 130.7,220.4" fill="none" stroke="#c3c3c3" stroke-width="0.6" stroke-linejoin="round"/>
<polyline points="33.5,220.1 35.1,223.7 36.7,224.3 38.4,226.0 40.0,227.0 41.6,225.2 43.2,217.8 44.8,215.6 46.5,202.0 48.1,204.9 49.7,213.9 51.3,219.6 52.9,218.0 54.6,214.2 56.2,211.2 57.8,211.0 59.4,209.5 61.0,203.7 62.7,217.1 64.3,213.9 65.9,210.8 67.5,212.0 69.1,210.5 70.8,206.1 72.4,209.2 74.0,219.7 75.6,217.8 77.2,207.1 78.9,202.1 80.5,207.7 82.1,206.6 83.7,213.4 85.3,215.3 87.0,217.2 88.6,210.9 90.2,209.9 91.8,208.8 93.4,211.7 95.1,213.6 96.7,214.4 98.3,217.0 99.9,216.6 101.5,215.9 103.2,215.4 104.8,201.2 106.4,210.0 108.0,206.2 109.6,214.8 111.3,221.8 112.9,209.3 114.5,219.0 116.1,215.3 117.7,218.0 119.4,212.1 121.0,213.6 122.6,214.0 124.2,221.0 125.8,218.3 127.5,203.7 129.1,210.8 130.7,210.8" fill="none" stroke="#c3c3c3" stroke-width="0.6" stroke-linejoin="round"/>
<polyline points="33.5,224.6 35.1,222.8 36.7,225.6 38.4,223.2 40.0,221.7 41.6,225.8 43.2,194.5 44.8,201.1 46.5,208.1 48.1,210.8 49.7,208.6 51.3,212.8 52.9,219.3 54.6,231.8 56.2,216.8 57.8,215.5 59.4,212.8 61.0,218.1 62.7,217.2 64.3,222.0 65.9,228.6 67.5,220.6 69.1,217.0 70.8,219.3 72.4,227.4 74.0,219.5 75.6,227.7 77.2,227.5 78.9,212.1 80.5,216.1 82.1,214.6 83.7,219.8 85.3,225.2 87.0,221.8 88.6,222.2 90.2,229.9 91.8,223.6 93.4,229.7 95.1,218.9 96.7,228.0 98.3,221.2 99.9,213.6 101.5,218.2 103.2,220.4 104.8,222.0 106.4,225.4 108.0,225.5 109.6,224.7 111.3,219.3 112.9,228.8 114.5,228.2 116.1,223.6 117.7,220.3 119.4,222.1 121.0,221.5 122.6,219.8 124.2,222.0 125.8,220.0 127.5,224.8 129.1,220.5 130.7,224.3" fill="none" stroke="#c3c3c3" stroke-width="0.6" stroke-linejoin="round"/>
<polyline points="33.5,224.7 35.1,223.9 36.7,223.3 38.4,224.5 40.0,222.8 41.6,224.6 43.2,207.8 44.8,199.5 46.5,205.5 48.1,208.2 49.7,201.4 51.3,211.1 52.9,211.2 54.6,218.8 56.2,216.1 57.8,209.4 59.4,217.9 61.0,218.2 62.7,211.8 64.3,215.4 65.9,209.9 67.5,210.2 69.1,212.8 70.8,220.5 72.4,213.5 74.0,204.8 75.6,209.4 77.2,220.7 78.9,223.7 80.5,213.9 82.1,213.9 83.7,218.4 85.3,219.9 87.0,218.7 88.6,215.6 90.2,226.2 91.8,210.4 93.4,217.2 95.1,222.0 96.7,214.9 98.3,218.1 99.9,221.1 101.5,221.2 103.2,226.0 104.8,216.6 106.4,222.5 108.0,217.3 109.6,216.3 111.3,217.5 112.9,212.9 114.5,219.5 116.1,219.7 117.7,218.3 119.4,217.5 121.0,217.2 122.6,220.8 124.2,218.1 125.8,216.2 127.5,212.4 129.1,218.6 130.7,222.7" fill="none" stroke="#c3c3c3" stroke-width="0.6" stroke-linejoin="round"/>
<polyline points="33.5,226.1 35.1,223.2 36.7,225.1 38.4,223.5 40.0,225.0 41.6,224.0 43.2,205.2 44.8,206.7 46.5,208.7 48.1,209.8 49.7,210.5 51.3,204.9 52.9,211.7 54.6,213.3 56.2,217.6 57.8,213.6 59.4,213.9 61.0,219.0 62.7,215.6 64.3,223.9 65.9,224.2 67.5,213.3 69.1,214.2 70.8,220.8 72.4,216.3 74.0,223.0 75.6,217.7 77.2,219.8 78.9,225.3 80.5,214.7 82.1,218.4 83.7,216.2 85.3,219.2 87.0,226.3 88.6,223.5 90.2,215.4 91.8,223.0 93.4,218.5 95.1,220.9 96.7,225.8 98.3,221.0 99.9,226.0 101.5,223.3 103.2,218.6 104.8,220.0 106.4,216.0 108.0,225.5 109.6,222.5 111.3,225.4 112.9,217.5 114.5,224.3 116.1,217.3 117.7,222.2 119.4,221.8 121.0,219.3 122.6,222.6 124.2,221.9 125.8,218.3 127.5,218.2 129.1,216.1 130.7,226.6" fill="none" stroke="#c3c3c3" stroke-width="0.6" stroke-linejoin="round"/>
<polyline points="33.5,222.7 35.1,225.3 36.7,226.0 38.4,225.6 40.0,224.2 41.6,223.4 43.2,206.9 44.8,208.6 46.5,210.6 48.1,212.9 49.7,219.8 51.3,215.4 52.9,214.0 54.6,224.6 56.2,228.2 57.8,221.7 59.4,222.2 61.0,209.9 62.7,211.8 64.3,217.1 65.9,218.8 67.5,219.6 69.1,211.5 70.8,226.3 72.4,222.4 74.0,218.7 75.6,224.4 77.2,216.2 78.9,220.0 80.5,218.6 82.1,218.4 83.7,221.4 85.3,215.6 87.0,223.4 88.6,224.2 90.2,222.4 91.8,224.3 93.4,219.4 95.1,214.0 96.7,222.2 98.3,224.9 99.9,228.6 101.5,222.0 103.2,224.3 104.8,227.5 106.4,222.7 108.0,223.5 109.6,220.7 111.3,219.6 112.9,225.1 114.5,226.9 116.1,224.0 117.7,221.8 119.4,221.9 121.0,219.6 122.6,222.3 124.2,222.2 125.8,228.5 127.5,223.7 129.1,222.7 130.7,221.7" fill="none" stroke="#c3c3c3" stroke-width="0.6" stroke-linejoin="round"/>
<polyline points="33.5,223.0 35.1,223.0 36.7,221.6 38.4,225.0 40.0,221.2 41.6,222.7 43.2,203.4 44.8,201.5 46.5,201.9 48.1,203.3 49.7,204.7 51.3,208.8 52.9,213.0 54.6,218.1 56.2,207.9 57.8,209.5 59.4,209.6 61.0,208.8 62.7,209.2 64.3,204.0 65.9,214.8 67.5,206.8 69.1,205.2 70.8,204.0 72.4,210.9 74.0,206.4 75.6,212.1 77.2,213.9 78.9,212.9 80.5,210.0 82.1,212.3 83.7,214.7 85.3,208.9 87.0,206.3 88.6,208.3 90.2,207.3 91.8,209.2 93.4,210.0 95.1,202.1 96.7,216.7 98.3,210.0 99.9,211.2 101.5,204.7 103.2,203.9 104.8,207.4 106.4,212.9 108.0,216.1 109.6,205.7 111.3,212.2 112.9,218.3 114.5,212.3 116.1,216.2 117.7,214.6 119.4,209.4 121.0,216.4 122.6,210.9 124.2,213.9 125.8,211.4 127.5,211.7 129.1,213.3 130.7,218.4" fill="none" stroke="#c3c3c3" stroke-width="0.6" stroke-linejoin="round"/>
<polyline points="33.5,223.7 35.1,221.9 36.7,223.6 38.4,225.8 40.0,223.3 41.6,224.4 43.2,216.7 44.8,220.7 46.5,205.3 48.1,214.2 49.7,218.2 51.3,214.7 52.9,222.1 54.6,226.1 56.2,226.2 57.8,220.2 59.4,220.4 61.0,216.1 62.7,222.4 64.3,223.3 65.9,224.6 67.5,220.3 69.1,217.1 70.8,217.6 72.4,219.3 74.0,221.9 75.6,214.3 77.2,219.7 78.9,229.5 80.5,222.9 82.1,223.0 83.7,217.4 85.3,212.6 87.0,219.2 88.6,220.2 90.2,223.6 91.8,228.6 93.4,223.2 95.1,218.1 96.7,225.5 98.3,223.1 99.9,224.5 101.5,229.8 103.2,228.5 104.8,218.5 106.4,221.6 108.0,213.5 109.6,221.2 111.3,216.8 112.9,219.6 114.5,219.6 116.1,218.8 117.7,216.2 119.4,227.2 121.0,220.9 122.6,214.5 124.2,221.5 125.8,215.8 127.5,217.0 129.1,223.0 130.7,221.2" fill="none" stroke="#c3c3c3" stroke-width="0.6" stroke-linejoin="round"/>
<polyline points="33.5,223.8 35.1,225.1 36.7,223.1 38.4,225.0 40.0,227.4 41.6,223.3 43.2,211.6 44.8,203.4 46.5,209.8 48.1,214.3 49.7,216.8 51.3,221.7 52.9,225.3 54.6,227.4 56.2,224.0 57.8,224.6 59.4,219.4 61.0,230.1 62.7,224.6 64.3,230.7 65.9,228.9 67.5,226.3 69.1,224.6 70.8,219.1 72.4,231.8 74.0,229.0 75.6,227.8 77.2,226.4 78.9,231.8 80.5,226.8 82.1,224.1 83.7,223.0 85.3,231.8 87.0,229.1 88.6,227.6 90.2,225.1 91.8,231.8 93.4,229.2 95.1,226.6 96.7,231.7 98.3,231.8 99.9,226.2 101.5,231.8 103.2,231.8 104.8,228.9 106.4,223.6 108.0,231.8 109.6,227.8 111.3,227.5 112.9,227.3 114.5,227.4 116.1,231.8 117.7,225.0 119.4,230.5 121.0,231.8 122.6,231.8 124.2,231.8 125.8,230.6 127.5,228.5 129.1,228.5 130.7,225.4" fill="none" stroke="#c3c3c3" stroke-width="0.6" stroke-linejoin="round"/>
<polyline points="33.5,222.3 35.1,224.0 36.7,223.3 38.4,222.2 40.0,224.1 41.6,223.0 43.2,196.1 44.8,193.9 46.5,197.8 48.1,200.4 49.7,202.6 51.3,203.9 52.9,212.6 54.6,218.8 56.2,216.5 57.8,207.4 59.4,213.9 61.0,214.5 62.7,220.2 64.3,224.6 65.9,219.0 67.5,217.3 69.1,219.7 70.8,221.0 72.4,211.1 74.0,220.3 75.6,230.0 77.2,221.7 78.9,227.5 80.5,227.2 82.1,223.2 83.7,221.9 85.3,225.0 87.0,228.4 88.6,216.1 90.2,219.9 91.8,229.8 93.4,222.9 95.1,229.5 96.7,228.7 98.3,231.8 99.9,222.0 101.5,225.0 103.2,227.3 104.8,221.4 106.4,218.7 108.0,224.9 109.6,219.9 111.3,225.3 112.9,224.7 114.5,227.7 116.1,227.9 117.7,231.8 119.4,226.9 121.0,225.6 122.6,227.9 124.2,231.2 125.8,214.4 127.5,223.3 129.1,226.8 130.7,225.2" fill="none" stroke="#c3c3c3" stroke-width="0.6" stroke-linejoin="round"/>
<polyline points="33.5,223.7 35.1,222.8 36.7,224.4 38.4,225.4 40.0,222.3 41.6,223.2 43.2,203.8 44.8,200.0 46.5,197.2 48.1,206.2 49.7,208.2 51.3,210.5 52.9,203.5 54.6,206.0 56.2,208.4 57.8,206.8 59.4,214.7 61.0,208.5 62.7,210.1 64.3,215.5 65.9,221.4 67.5,215.5 69.1,213.5 70.8,218.4 72.4,210.9 74.0,205.0 75.6,209.2 77.2,212.2 78.9,219.8 80.5,215.5 82.1,217.1 83.7,212.5 85.3,212.5 87.0,210.7 88.6,208.8 90.2,214.8 91.8,214.9 93.4,215.6 95.1,212.1 96.7,212.4 98.3,216.1 99.9,218.0 101.5,223.8 103.2,213.1 104.8,218.9 106.4,219.0 108.0,214.4 109.6,215.0 111.3,214.5 112.9,220.5 114.5,225.8 116.1,217.7 117.7,214.4 119.4,218.6 121.0,217.6 122.6,214.5 124.2,218.0 125.8,218.8 127.5,214.1 129.1,218.2 130.7,206.7" fill="none" stroke="#c3c3c3" stroke-width="0.6" stroke-linejoin="round"/>
<polyline points="33.5,224.8 35.1,224.5 36.7,222.7 38.4,225.5 40.0,221.8 41.6,223.5 43.2,217.4 44.8,216.3 46.5,217.7 48.1,205.0 49.7,219.3 51.3,214.7 52.9,203.9 54.6,220.5 56.2,210.4 57.8,210.0 59.4,218.0 61.0,219.0 62.7,219.8 64.3,228.9 65.9,216.4 67.5,220.5 69.1,221.8 70.8,212.9 72.4,220.5 74.0,216.6 75.6,217.0 77.2,223.5 78.9,218.4 80.5,220.4 82.1,212.2 83.7,221.8 85.3,218.5 87.0,213.3 88.6,215.4 90.2,219.5 91.8,220.7 93.4,222.1 95.1,214.7 96.7,219.9 98.3,213.8 99.9,223.2 101.5,230.0 103.2,216.5 104.8,213.1 106.4,212.3 108.0,216.9 109.6,222.6 111.3,221.9 112.9,215.3 114.5,218.1 116.1,219.5 117.7,222.1 119.4,222.6 121.0,220.5 122.6,223.5 124.2,219.7 125.8,219.5 127.5,215.8 129.1,220.9 130.7,225.0" fill="none" stroke="#c3c3c3" stroke-width="0.6" stroke-linejoin="round"/>
<polyline points="33.5,220.6 35.1,224.0 36.7,223.9 38.4,225.5 40.0,223.5 41.6,224.0 43.2,204.5 44.8,199.4 46.5,207.0 48.1,206.5 49.7,208.4 51.3,213.4 52.9,222.4 54.6,221.4 56.2,221.0 57.8,217.3 59.4,207.0 61.0,218.7 62.7,218.0 64.3,219.6 65.9,220.0 67.5,214.8 69.1,224.4 70.8,226.9 72.4,227.5 74.0,214.8 75.6,223.2 77.2,218.6 78.9,222.2 80.5,220.2 82.1,218.4 83.7,217.0 85.3,218.8 87.0,224.5 88.6,229.6 90.2,227.3 91.8,222.9 93.4,221.6 95.1,222.0 96.7,223.2 98.3,221.6 99.9,223.6 101.5,227.8 103.2,223.9 104.8,220.9 106.4,223.1 108.0,224.1 109.6,223.3 111.3,222.6 112.9,226.2 114.5,224.1 116.1,220.0 117.7,225.7 119.4,221.6 121.0,226.9 122.6,227.6 124.2,226.6 125.8,225.7 127.5,219.0 129.1,222.5 130.7,224.4" fill="none" stroke="#c3c3c3" stroke-width="0.6" stroke-linejoin="round"/>
<polyline points="33.5,221.5 35.1,224.1 36.7,223.2 38.4,222.8 40.0,224.4 41.6,224.1 43.2,192.9 44.8,195.1 46.5,196.0 48.1,200.3 49.7,198.6 51.3,198.4 52.9,216.1 54.6,213.1 56.2,205.7 57.8,201.1 59.4,196.1 61.0,202.8 62.7,205.8 64.3,203.2 65.9,213.8 67.5,213.9 69.1,206.6 70.8,202.6 72.4,208.7 74.0,207.8 75.6,208.2 77.2,218.7 78.9,206.7 80.5,209.4 82.1,208.3 83.7,206.5 85.3,210.1 87.0,209.9 88.6,201.9 90.2,199.1 91.8,204.7 93.4,209.1 95.1,212.3 96.7,207.3 98.3,213.3 99.9,214.8 101.5,220.7 103.2,212.7 104.8,207.9 106.4,211.0 108.0,214.1 109.6,206.3 111.3,213.5 112.9,212.7 114.5,201.1 116.1,211.7 117.7,212.5 119.4,203.8 121.0,216.8 122.6,205.5 124.2,211.9 125.8,213.3 127.5,207.4 129.1,205.4 130.7,215.1" fill="none" stroke="#c3c3c3" stroke-width="0.6" stroke-linejoin="round"/>
<polyline points="33.5,224.2 35.1,221.3 36.7,222.2 38.4,224.1 40.0,223.1 41.6,220.9 43.2,200.9 44.8,205.5 46.5,211.3 48.1,212.6 49.7,216.2 51.3,207.0 52.9,214.5 54.6,222.5 56.2,210.1 57.8,215.7 59.4,210.0 61.0,215.7 62.7,216.1 64.3,210.0 65.9,213.1 67.5,221.2 69.1,215.9 70.8,220.2 72.4,218.3 74.0,221.1 75.6,216.7 77.2,219.4 78.9,217.6 80.5,221.4 82.1,214.9 83.7,220.6 85.3,224.2 87.0,214.1 88.6,217.5 90.2,220.1 91.8,225.4 93.4,223.4 95.1,219.7 96.7,212.7 98.3,222.3 99.9,218.4 101.5,220.7 103.2,221.6 104.8,214.4 106.4,223.1 108.0,223.8 109.6,222.2 111.3,222.2 112.9,221.1 114.5,214.0 116.1,216.7 117.7,222.6 119.4,218.9 121.0,219.8 122.6,221.2 124.2,220.3 125.8,220.8 127.5,221.9 129.1,220.1 130.7,215.4" fill="none" stroke="#c3c3c3" stroke-width="0.6" stroke-linejoin="round"/>
<polyline points="33.5,224.7 35.1,221.6 36.7,221.7 38.4,224.0 40.0,224.7 41.6,221.2 43.2,201.6 44.8,206.9 46.5,205.8 48.1,207.5 49.7,205.4 51.3,211.2 52.9,215.0 54.6,216.3 56.2,209.2 57.8,206.0 59.4,209.3 61.0,213.1 62.7,210.5 64.3,209.5 65.9,224.0 67.5,223.6 69.1,219.5 70.8,210.6 72.4,216.7 74.0,217.1 75.6,227.4 77.2,218.6 78.9,222.1 80.5,226.3 82.1,220.9 83.7,217.1 85.3,216.0 87.0,219.4 88.6,221.3 90.2,223.0 91.8,219.0 93.4,221.6 95.1,213.7 96.7,206.7 98.3,217.4 99.9,218.6 101.5,222.9 103.2,219.5 104.8,225.0 106.4,218.1 108.0,219.5 109.6,208.5 111.3,217.9 112.9,222.9 114.5,215.6 116.1,221.8 117.7,216.1 119.4,212.7 121.0,218.6 122.6,221.0 124.2,224.9 125.8,216.8 127.5,219.0 129.1,216.8 130.7,219.1" fill="none" stroke="#c3c3c3" stroke-width="0.6" stroke-linejoin="round"/>
<polyline points="33.5,225.3 35.1,224.7 36.7,223.1 38.4,224.4 40.0,223.3 41.6,223.6 43.2,206.4 44.8,208.5 46.5,209.8 48.1,207.9 49.7,212.7 51.3,219.5 52.9,218.3 54.6,228.0 56.2,221.1 57.8,217.1 59.4,217.3 61.0,215.3 62.7,224.0 64.3,218.2 65.9,225.7 67.5,224.2 69.1,222.2 70.8,224.6 72.4,225.6 74.0,223.5 75.6,228.9 77.2,226.1 78.9,231.3 80.5,231.8 82.1,227.7 83.7,228.8 85.3,220.6 87.0,227.6 88.6,221.3 90.2,225.5 91.8,229.2 93.4,216.5 95.1,222.6 96.7,224.0 98.3,223.9 99.9,228.2 101.5,231.2 103.2,224.5 104.8,225.4 106.4,220.8 108.0,224.2 109.6,219.2 111.3,220.4 112.9,228.7 114.5,231.8 116.1,225.6 117.7,229.4 119.4,225.6 121.0,231.8 122.6,231.8 124.2,219.5 125.8,223.7 127.5,225.1 129.1,226.1 130.7,231.8" fill="none" stroke="#c3c3c3" stroke-width="0.6" stroke-linejoin="round"/>
<polyline points="33.5,226.9 35.1,225.7 36.7,221.5 38.4,223.8 40.0,223.2 41.6,225.6 43.2,212.1 44.8,207.1 46.5,204.2 48.1,205.6 49.7,203.8 51.3,208.3 52.9,214.9 54.6,215.5 56.2,206.3 57.8,206.1 59.4,212.2 61.0,211.7 62.7,209.5 64.3,215.6 65.9,211.7 67.5,207.7 69.1,205.7 70.8,211.5 72.4,217.2 74.0,214.0 75.6,213.5 77.2,211.1 78.9,218.5 80.5,210.4 82.1,214.3 83.7,213.8 85.3,211.8 87.0,213.4 88.6,211.6 90.2,218.3 91.8,217.2 93.4,217.8 95.1,218.7 96.7,218.4 98.3,220.4 99.9,226.4 101.5,228.3 103.2,219.3 104.8,221.1 106.4,212.1 108.0,211.6 109.6,220.6 111.3,222.3 112.9,215.6 114.5,217.1 116.1,211.0 117.7,217.9 119.4,212.1 121.0,220.7 122.6,214.0 124.2,222.8 125.8,224.0 127.5,214.3 129.1,219.9 130.7,218.4" fill="none" stroke="#c3c3c3" stroke-width="0.6" stroke-linejoin="round"/>
<line x1="33.60" y1="66.90" x2="82.00" y2="66.90" stroke="#111" stroke-width="1.3" stroke-dasharray="3.4,2.5" stroke-dashoffset="1.4"/>
<line x1="33.60" y1="100.90" x2="82.00" y2="100.90" stroke="#111" stroke-width="1.3" stroke-dasharray="3.4,2.5" stroke-dashoffset="1.4"/>
<line x1="33.60" y1="121.20" x2="130.00" y2="121.20" stroke="#111" stroke-width="1.3" stroke-dasharray="3.4,2.5" stroke-dashoffset="1.4"/>
<line x1="33.60" y1="155.90" x2="82.00" y2="155.90" stroke="#111" stroke-width="1.3" stroke-dasharray="3.4,2.5" stroke-dashoffset="1.4"/>
<line x1="33.60" y1="172.40" x2="130.00" y2="172.40" stroke="#111" stroke-width="1.3" stroke-dasharray="3.4,2.5" stroke-dashoffset="1.4"/>
<line x1="33.60" y1="207.30" x2="82.00" y2="207.30" stroke="#111" stroke-width="1.3" stroke-dasharray="3.4,2.5" stroke-dashoffset="1.4"/>
<line x1="33.60" y1="224.30" x2="130.00" y2="224.30" stroke="#111" stroke-width="1.3" stroke-dasharray="3.4,2.5" stroke-dashoffset="1.4"/>
<path d="M33.40,70.30 C34.50,70.25 38.23,70.23 40.00,70.00 C41.77,69.77 42.73,69.23 44.00,68.90 C45.27,68.57 46.27,67.85 47.60,68.00 C48.93,68.15 50.60,69.55 52.00,69.80 C53.40,70.05 54.33,69.47 56.00,69.50 C57.67,69.53 59.67,69.98 62.00,70.00 C64.33,70.02 67.00,69.63 70.00,69.60 C73.00,69.57 76.67,69.73 80.00,69.80 C83.33,69.87 86.67,69.97 90.00,70.00 C93.33,70.03 96.67,69.97 100.00,70.00 C103.33,70.03 106.67,70.18 110.00,70.20 C113.33,70.22 116.67,70.10 120.00,70.10 C123.33,70.10 128.33,70.18 130.00,70.20" fill="none" stroke="#000" stroke-width="1.9" stroke-linejoin="round"/>
<polyline points="33.4,120.9 40.2,120.9 43.3,101.5 49.7,112.4 52.4,109.4 56.5,115.8 60.6,112.7 65.3,116.2 69.4,113.5 73.5,115.8 78.9,114.4 81.5,114.4 84.1,114.6 86.7,114.7 89.3,115.0 91.9,114.6 94.5,115.0 97.1,113.4 99.7,114.1 102.3,115.0 104.9,114.5 107.5,114.9 110.1,113.5 112.7,114.1 115.3,113.7 117.9,114.3 120.5,114.3 123.1,113.3 125.7,113.7 128.5,113.6 130.2,112.6" fill="none" stroke="#000" stroke-width="1.9" stroke-linejoin="round"/>
<polyline points="33.4,172.1 40.0,172.3 43.6,156.3" fill="none" stroke="#000" stroke-width="1.9" stroke-linejoin="round"/>
<path d="M43.60,156.30 C44.33,157.00 46.68,159.45 48.00,160.50 C49.32,161.55 49.72,161.92 51.50,162.60 C53.28,163.28 56.32,163.97 58.70,164.60 C61.08,165.23 63.58,165.90 65.80,166.40 C68.02,166.90 69.63,167.33 72.00,167.60 C74.37,167.87 76.62,167.83 80.00,168.00 C83.38,168.17 87.85,168.23 92.30,168.60 C96.75,168.97 102.40,169.83 106.70,170.20 C111.00,170.57 114.28,170.57 118.10,170.80 C121.92,171.03 127.68,171.47 129.60,171.60" fill="none" stroke="#000" stroke-width="1.9" stroke-linejoin="round"/>
<polyline points="33.4,224.2 41.0,223.9 43.5,207.7" fill="none" stroke="#000" stroke-width="1.9" stroke-linejoin="round"/>
<path d="M43.50,207.70 C43.95,207.82 45.12,207.43 46.20,208.40 C47.28,209.37 48.65,211.70 50.00,213.50 C51.35,215.30 53.13,218.87 54.30,219.20 C55.47,219.53 56.15,216.43 57.00,215.50 C57.85,214.57 58.48,213.43 59.40,213.60 C60.32,213.77 61.40,215.40 62.50,216.50 C63.60,217.60 65.00,220.08 66.00,220.20 C67.00,220.32 67.77,217.93 68.50,217.20 C69.23,216.47 69.48,215.58 70.40,215.80 C71.32,216.02 72.65,217.63 74.00,218.50 C75.35,219.37 76.98,221.25 78.50,221.00 C80.02,220.75 81.35,217.13 83.10,217.00 C84.85,216.87 87.40,219.92 89.00,220.20 C90.60,220.48 90.87,218.45 92.70,218.70 C94.53,218.95 97.95,221.32 100.00,221.70 C102.05,222.08 103.27,221.20 105.00,221.00 C106.73,220.80 107.90,220.50 110.40,220.50 C112.90,220.50 116.82,220.92 120.00,221.00 C123.18,221.08 127.92,221.00 129.50,221.00" fill="none" stroke="#000" stroke-width="1.9" stroke-linejoin="round"/>
<rect x="28.90" y="37.50" width="105.90" height="41.40" fill="none" stroke="#111" stroke-width="1.4"/>
<rect x="28.90" y="89.20" width="105.90" height="41.00" fill="none" stroke="#111" stroke-width="1.4"/>
<rect x="28.90" y="140.20" width="105.90" height="41.20" fill="none" stroke="#111" stroke-width="1.4"/>
<rect x="28.90" y="191.70" width="105.90" height="41.30" fill="none" stroke="#111" stroke-width="1.4"/>
<line x1="25.80" y1="67.90" x2="28.90" y2="67.90" stroke="#222" stroke-width="1.0"/>
<path d="M20.4,65.90 L22.0,64.70 L22.0,70.40" fill="none" stroke="#231f20" stroke-width="1.05" stroke-linejoin="round"/>
<line x1="25.80" y1="121.30" x2="28.90" y2="121.30" stroke="#222" stroke-width="1.0"/>
<path d="M20.4,119.30 L22.0,118.10 L22.0,123.80" fill="none" stroke="#231f20" stroke-width="1.05" stroke-linejoin="round"/>
<line x1="25.80" y1="172.40" x2="28.90" y2="172.40" stroke="#222" stroke-width="1.0"/>
<path d="M20.4,170.40 L22.0,169.20 L22.0,174.90" fill="none" stroke="#231f20" stroke-width="1.05" stroke-linejoin="round"/>
<line x1="25.80" y1="223.80" x2="28.90" y2="223.80" stroke="#222" stroke-width="1.0"/>
<path d="M20.4,221.80 L22.0,220.60 L22.0,226.30" fill="none" stroke="#231f20" stroke-width="1.05" stroke-linejoin="round"/>
<text x="106.65" y="49.70" font-size="7.2" fill="#231f20" stroke="#231f20" stroke-width="0.22" textLength="14.60" lengthAdjust="spacingAndGlyphs">GMP</text>
<text x="121.30" y="45.40" font-size="4.3" fill="#231f20" stroke="#231f20" stroke-width="0.08" textLength="7.00" lengthAdjust="spacingAndGlyphs">GM</text>
<text x="112.05" y="99.70" font-size="7.2" fill="#231f20" stroke="#231f20" stroke-width="0.22" textLength="13.70" lengthAdjust="spacingAndGlyphs">GMP</text>
<text x="126.10" y="96.00" font-size="4.3" fill="#231f20" stroke="#231f20" stroke-width="0.08" textLength="3.40" lengthAdjust="spacingAndGlyphs">M</text>
<text x="107.55" y="150.90" font-size="7.2" fill="#231f20" stroke="#231f20" stroke-width="0.22" textLength="14.90" lengthAdjust="spacingAndGlyphs">GMP</text>
<text x="122.20" y="147.20" font-size="4.3" fill="#231f20" stroke="#231f20" stroke-width="0.08" textLength="6.70" lengthAdjust="spacingAndGlyphs">GM</text>
<text x="107.55" y="200.80" font-size="7.2" fill="#231f20" stroke="#231f20" stroke-width="0.22" textLength="14.90" lengthAdjust="spacingAndGlyphs">GMP</text>
<text x="122.20" y="198.00" font-size="4.3" fill="#231f20" stroke="#231f20" stroke-width="0.08" textLength="7.30" lengthAdjust="spacingAndGlyphs">GM</text>
<line x1="41.60" y1="233.00" x2="41.60" y2="235.80" stroke="#222" stroke-width="0.9"/>
<text x="41.60" y="245.20" font-size="8.9" fill="#231f20" stroke="#231f20" stroke-width="0.22" text-anchor="middle" textLength="4.26" lengthAdjust="spacingAndGlyphs">1</text>
<line x1="74.00" y1="233.00" x2="74.00" y2="235.80" stroke="#222" stroke-width="0.9"/>
<text x="74.00" y="245.20" font-size="8.9" fill="#231f20" stroke="#231f20" stroke-width="0.22" text-anchor="middle" textLength="4.26" lengthAdjust="spacingAndGlyphs">5</text>
<line x1="114.60" y1="233.00" x2="114.60" y2="235.80" stroke="#222" stroke-width="0.9"/>
<text x="114.60" y="245.20" font-size="8.9" fill="#231f20" stroke="#231f20" stroke-width="0.22" text-anchor="middle" textLength="8.51" lengthAdjust="spacingAndGlyphs">10</text>
<text x="82.20" y="257.80" font-size="8.4" fill="#231f20" stroke="#231f20" stroke-width="0.22" text-anchor="middle" textLength="27.20" lengthAdjust="spacingAndGlyphs">Time [h]</text>
<text transform="translate(14.50,130.00) rotate(-90)" font-size="8.4" fill="#231f20" stroke="#231f20" stroke-width="0.1" text-anchor="middle" textLength="123.00" lengthAdjust="spacingAndGlyphs">p65 mean nuclear fluorescence [a.u.]</text>
<path d="M155.50,58.20 L155.50,42.30 A15.9,15.9 0 0 1 170.14,51.99 Z" fill="#175a8c"/>
<path d="M155.50,58.20 L170.14,51.99 A15.9,15.9 0 1 1 155.50,42.30 Z" fill="#bdbec2"/>
<path d="M155.40,109.60 L155.40,93.80 A15.8,15.8 0 1 1 147.50,123.28 Z" fill="#f99200"/>
<path d="M155.40,109.60 L147.50,123.28 A15.8,15.8 0 0 1 155.40,93.80 Z" fill="#175a8c"/>
<path d="M155.40,160.70 L155.40,144.80 A15.9,15.9 0 0 1 170.34,166.14 Z" fill="#f99200"/>
<path d="M155.40,160.70 L170.34,166.14 A15.9,15.9 0 1 1 151.02,145.42 Z" fill="#175a8c"/>
<path d="M155.40,160.70 L151.02,145.42 A15.9,15.9 0 0 1 155.40,144.80 Z" fill="#bdbec2"/>
<path d="M155.40,212.10 L155.40,196.40 A15.7,15.7 0 1 1 144.89,223.77 Z" fill="#f99200"/>
<path d="M155.40,212.10 L144.89,223.77 A15.7,15.7 0 0 1 152.94,196.59 Z" fill="#175a8c"/>
<path d="M155.40,212.10 L152.94,196.59 A15.7,15.7 0 0 1 155.40,196.40 Z" fill="#bdbec2"/>
<rect x="184.50" y="44.30" width="22.30" height="7.60" fill="#fff" stroke="#222" stroke-width="0.9"/>
<text x="195.70" y="50.60" font-size="6.8" fill="#111" stroke="#111" stroke-width="0.22" text-anchor="middle" textLength="19.00" lengthAdjust="spacingAndGlyphs">&#8211;TNF</text>
<rect x="184.00" y="54.00" width="23.20" height="8.60" fill="#e6058b"/>
<text x="195.60" y="60.90" font-size="6.8" fill="#fff" stroke="#fff" stroke-width="0.22" text-anchor="middle" textLength="19.00" lengthAdjust="spacingAndGlyphs">+TNF</text>
<rect x="184.00" y="71.20" width="19.80" height="8.60" fill="#c9c9cb"/>
<text x="193.80" y="78.20" font-size="7.0" fill="#111" stroke="#111" stroke-width="0.22" text-anchor="middle" textLength="18.40" lengthAdjust="spacingAndGlyphs">NON</text>
<rect x="184.00" y="81.80" width="19.80" height="8.10" fill="#175a8c"/>
<text x="193.90" y="88.40" font-size="7.0" fill="#fff" stroke="#fff" stroke-width="0.22" text-anchor="middle" textLength="14.00" lengthAdjust="spacingAndGlyphs">TRA</text>
<rect x="184.00" y="92.30" width="19.80" height="8.00" fill="#f99200"/>
<text x="193.85" y="98.90" font-size="7.0" fill="#111" stroke="#111" stroke-width="0.22" text-anchor="middle" textLength="17.00" lengthAdjust="spacingAndGlyphs">OSC</text>
<text transform="translate(262.30,68.80) rotate(-90)" font-size="8.4" fill="#231f20" stroke="#231f20" stroke-width="0.1" text-anchor="middle" textLength="87.80" lengthAdjust="spacingAndGlyphs">Area under the curve [a.u.]</text>
<line x1="283.30" y1="28.90" x2="283.30" y2="108.30" stroke="#111" stroke-width="1.0"/>
<line x1="280.10" y1="51.10" x2="283.30" y2="51.10" stroke="#222" stroke-width="0.9"/>
<text x="277.30" y="54.10" font-size="8.6" fill="#231f20" stroke="#231f20" stroke-width="0.22" text-anchor="end" textLength="8.23" lengthAdjust="spacingAndGlyphs">15</text>
<line x1="280.10" y1="64.60" x2="283.30" y2="64.60" stroke="#222" stroke-width="0.9"/>
<text x="277.30" y="67.60" font-size="8.6" fill="#231f20" stroke="#231f20" stroke-width="0.22" text-anchor="end" textLength="8.23" lengthAdjust="spacingAndGlyphs">10</text>
<line x1="280.10" y1="78.10" x2="283.30" y2="78.10" stroke="#222" stroke-width="0.9"/>
<text x="277.30" y="81.10" font-size="8.6" fill="#231f20" stroke="#231f20" stroke-width="0.22" text-anchor="end" textLength="4.11" lengthAdjust="spacingAndGlyphs">5</text>
<line x1="280.10" y1="91.60" x2="283.30" y2="91.60" stroke="#222" stroke-width="0.9"/>
<text x="277.30" y="94.60" font-size="8.6" fill="#231f20" stroke="#231f20" stroke-width="0.22" text-anchor="end" textLength="4.11" lengthAdjust="spacingAndGlyphs">0</text>
<line x1="280.10" y1="105.10" x2="283.30" y2="105.10" stroke="#222" stroke-width="0.9"/>
<text x="277.30" y="108.10" font-size="8.6" fill="#231f20" stroke="#231f20" stroke-width="0.22" text-anchor="end" textLength="8.23" lengthAdjust="spacingAndGlyphs">&#8211;5</text>
<line x1="282.80" y1="108.30" x2="333.80" y2="108.30" stroke="#111" stroke-width="1.0"/>
<line x1="290.50" y1="108.30" x2="290.50" y2="111.20" stroke="#333" stroke-width="0.7"/>
<line x1="302.50" y1="108.30" x2="302.50" y2="111.20" stroke="#333" stroke-width="0.7"/>
<line x1="314.40" y1="108.30" x2="314.40" y2="111.20" stroke="#333" stroke-width="0.7"/>
<line x1="326.40" y1="108.30" x2="326.40" y2="111.20" stroke="#333" stroke-width="0.7"/>
<rect x="285.20" y="111.20" width="10.60" height="7.20" fill="#fff" stroke="#8a8a8a" stroke-width="0.9" rx="0.9"/>
<rect x="297.20" y="111.20" width="10.50" height="7.20" fill="url(#cg)" stroke="#8a8a8a" stroke-width="0.9" rx="0.9"/>
<rect x="309.50" y="111.20" width="11.30" height="7.20" fill="url(#cg)" stroke="#8a8a8a" stroke-width="0.9" rx="0.9"/>
<rect x="320.80" y="111.20" width="10.80" height="7.20" fill="url(#stripes)"/>
<rect x="320.80" y="111.20" width="1.70" height="7.20" fill="#b8b8b8"/>
<rect x="320.80" y="111.20" width="10.80" height="7.20" fill="none" stroke="#8a8a8a" stroke-width="0.9" rx="0.9"/>
<rect x="297.20" y="118.40" width="10.50" height="9.40" fill="#fff" stroke="#8a8a8a" stroke-width="0.9" rx="0.9"/>
<rect x="309.50" y="118.40" width="22.10" height="9.40" fill="#fff" stroke="#8a8a8a" stroke-width="0.9" rx="0.9"/>
<text x="302.45" y="125.80" font-size="7.9" fill="#231f20" stroke="#231f20" stroke-width="0.1" text-anchor="middle">M</text>
<text x="320.55" y="125.80" font-size="7.9" fill="#231f20" stroke="#231f20" stroke-width="0.1" text-anchor="middle">GM</text>
<line x1="290.50" y1="75.60" x2="290.50" y2="104.60" stroke="#333" stroke-width="0.8"/>
<rect x="286.80" y="87.00" width="7.40" height="12.40" fill="#fff" stroke="#4a4a4a" stroke-width="0.7"/>
<circle cx="290.10" cy="89.79" r="1.0" fill="#c2c2c2"/>
<circle cx="291.33" cy="89.78" r="1.0" fill="#c2c2c2"/>
<circle cx="288.68" cy="94.33" r="1.0" fill="#c2c2c2"/>
<circle cx="289.74" cy="87.34" r="1.0" fill="#c2c2c2"/>
<circle cx="290.81" cy="79.17" r="1.0" fill="#c2c2c2"/>
<circle cx="291.71" cy="102.51" r="1.0" fill="#c2c2c2"/>
<circle cx="288.68" cy="76.10" r="1.0" fill="#c2c2c2"/>
<circle cx="289.99" cy="103.35" r="1.0" fill="#c2c2c2"/>
<circle cx="292.58" cy="99.25" r="1.0" fill="#c2c2c2"/>
<circle cx="290.71" cy="98.51" r="1.0" fill="#c2c2c2"/>
<circle cx="292.03" cy="103.29" r="1.0" fill="#c2c2c2"/>
<circle cx="291.38" cy="92.27" r="1.0" fill="#c2c2c2"/>
<circle cx="291.94" cy="90.74" r="1.0" fill="#c2c2c2"/>
<circle cx="290.99" cy="90.02" r="1.0" fill="#c2c2c2"/>
<circle cx="288.35" cy="100.92" r="1.0" fill="#c2c2c2"/>
<circle cx="289.33" cy="84.94" r="1.0" fill="#c2c2c2"/>
<circle cx="292.03" cy="100.68" r="1.0" fill="#c2c2c2"/>
<circle cx="293.83" cy="101.07" r="1.0" fill="#c2c2c2"/>
<circle cx="290.85" cy="99.85" r="1.0" fill="#c2c2c2"/>
<circle cx="292.91" cy="97.68" r="1.0" fill="#c2c2c2"/>
<circle cx="291.50" cy="96.55" r="1.0" fill="#c2c2c2"/>
<circle cx="291.53" cy="81.97" r="1.0" fill="#c2c2c2"/>
<line x1="286.80" y1="91.10" x2="294.20" y2="91.10" stroke="#333" stroke-width="0.9"/>
<line x1="302.50" y1="51.40" x2="302.50" y2="82.80" stroke="#333" stroke-width="0.8"/>
<rect x="297.60" y="61.00" width="9.80" height="11.40" fill="#e58ca2" opacity="0.95"/>
<circle cx="301.68" cy="72.76" r="1.0" fill="#d3062c"/>
<circle cx="299.44" cy="53.66" r="1.0" fill="#d3062c"/>
<circle cx="302.30" cy="76.87" r="1.0" fill="#d3062c"/>
<circle cx="305.28" cy="80.97" r="1.0" fill="#d3062c"/>
<circle cx="304.53" cy="61.17" r="1.0" fill="#d3062c"/>
<circle cx="302.80" cy="68.09" r="1.0" fill="#d3062c"/>
<circle cx="304.96" cy="69.85" r="1.0" fill="#d3062c"/>
<circle cx="302.81" cy="72.39" r="1.0" fill="#d3062c"/>
<circle cx="303.27" cy="66.89" r="1.0" fill="#d3062c"/>
<circle cx="301.43" cy="75.47" r="1.0" fill="#d3062c"/>
<circle cx="301.03" cy="64.19" r="1.0" fill="#d3062c"/>
<circle cx="304.11" cy="71.31" r="1.0" fill="#d3062c"/>
<circle cx="303.03" cy="80.16" r="1.0" fill="#d3062c"/>
<circle cx="302.46" cy="59.62" r="1.0" fill="#d3062c"/>
<circle cx="303.65" cy="65.70" r="1.0" fill="#d3062c"/>
<circle cx="306.00" cy="70.47" r="1.0" fill="#d3062c"/>
<circle cx="302.46" cy="67.86" r="1.0" fill="#d3062c"/>
<circle cx="301.02" cy="61.97" r="1.0" fill="#d3062c"/>
<circle cx="302.94" cy="55.34" r="1.0" fill="#d3062c"/>
<circle cx="303.85" cy="62.42" r="1.0" fill="#d3062c"/>
<circle cx="302.82" cy="52.89" r="1.0" fill="#d3062c"/>
<circle cx="304.00" cy="79.78" r="1.0" fill="#d3062c"/>
<circle cx="300.50" cy="91.50" r="1.0" fill="#d3062c"/>
<line x1="297.60" y1="69.30" x2="307.40" y2="69.30" stroke="#333" stroke-width="0.9"/>
<line x1="314.60" y1="58.50" x2="314.60" y2="94.10" stroke="#333" stroke-width="0.8"/>
<rect x="309.90" y="71.20" width="9.40" height="12.40" fill="#b2e2b4" opacity="0.95"/>
<circle cx="315.89" cy="81.67" r="1.0" fill="#1fb23e"/>
<circle cx="314.08" cy="90.21" r="1.0" fill="#1fb23e"/>
<circle cx="313.53" cy="69.99" r="1.0" fill="#1fb23e"/>
<circle cx="312.63" cy="88.39" r="1.0" fill="#1fb23e"/>
<circle cx="314.31" cy="71.29" r="1.0" fill="#1fb23e"/>
<circle cx="312.88" cy="93.81" r="1.0" fill="#1fb23e"/>
<circle cx="314.31" cy="73.67" r="1.0" fill="#1fb23e"/>
<circle cx="314.46" cy="72.12" r="1.0" fill="#1fb23e"/>
<circle cx="315.39" cy="76.67" r="1.0" fill="#1fb23e"/>
<circle cx="316.83" cy="92.34" r="1.0" fill="#1fb23e"/>
<circle cx="315.31" cy="68.08" r="1.0" fill="#1fb23e"/>
<circle cx="312.20" cy="78.33" r="1.0" fill="#1fb23e"/>
<circle cx="314.46" cy="86.19" r="1.0" fill="#1fb23e"/>
<circle cx="314.78" cy="59.95" r="1.0" fill="#1fb23e"/>
<circle cx="317.02" cy="73.52" r="1.0" fill="#1fb23e"/>
<circle cx="316.76" cy="83.08" r="1.0" fill="#1fb23e"/>
<circle cx="312.37" cy="65.96" r="1.0" fill="#1fb23e"/>
<circle cx="314.82" cy="85.60" r="1.0" fill="#1fb23e"/>
<circle cx="315.02" cy="61.92" r="1.0" fill="#1fb23e"/>
<circle cx="315.60" cy="93.40" r="1.0" fill="#1fb23e"/>
<circle cx="315.19" cy="73.37" r="1.0" fill="#1fb23e"/>
<circle cx="315.79" cy="82.16" r="1.0" fill="#1fb23e"/>
<circle cx="313.92" cy="64.74" r="1.0" fill="#1fb23e"/>
<circle cx="313.91" cy="76.66" r="1.0" fill="#1fb23e"/>
<circle cx="312.70" cy="74.99" r="1.0" fill="#1fb23e"/>
<circle cx="313.68" cy="72.10" r="1.0" fill="#1fb23e"/>
<circle cx="318.59" cy="60.47" r="1.0" fill="#1fb23e"/>
<circle cx="314.70" cy="70.40" r="1.0" fill="#1fb23e"/>
<circle cx="315.90" cy="80.75" r="1.0" fill="#1fb23e"/>
<circle cx="312.85" cy="74.60" r="1.0" fill="#1fb23e"/>
<circle cx="313.71" cy="76.63" r="1.0" fill="#1fb23e"/>
<circle cx="314.16" cy="71.47" r="1.0" fill="#1fb23e"/>
<circle cx="314.63" cy="72.66" r="1.0" fill="#1fb23e"/>
<circle cx="314.90" cy="85.99" r="1.0" fill="#1fb23e"/>
<circle cx="316.48" cy="65.84" r="1.0" fill="#1fb23e"/>
<circle cx="315.10" cy="86.11" r="1.0" fill="#1fb23e"/>
<circle cx="313.25" cy="67.70" r="1.0" fill="#1fb23e"/>
<circle cx="314.06" cy="66.98" r="1.0" fill="#1fb23e"/>
<circle cx="314.59" cy="80.33" r="1.0" fill="#1fb23e"/>
<circle cx="312.01" cy="73.01" r="1.0" fill="#1fb23e"/>
<circle cx="314.10" cy="74.88" r="1.0" fill="#1fb23e"/>
<circle cx="314.39" cy="73.03" r="1.0" fill="#1fb23e"/>
<circle cx="314.85" cy="61.05" r="1.0" fill="#1fb23e"/>
<circle cx="314.10" cy="80.46" r="1.0" fill="#1fb23e"/>
<circle cx="317.58" cy="87.71" r="1.0" fill="#1fb23e"/>
<circle cx="313.48" cy="62.69" r="1.0" fill="#1fb23e"/>
<circle cx="316.69" cy="79.74" r="1.0" fill="#1fb23e"/>
<circle cx="315.43" cy="73.52" r="1.0" fill="#1fb23e"/>
<circle cx="315.42" cy="63.46" r="1.0" fill="#1fb23e"/>
<circle cx="314.91" cy="87.68" r="1.0" fill="#1fb23e"/>
<circle cx="316.02" cy="90.09" r="1.0" fill="#1fb23e"/>
<circle cx="314.63" cy="61.60" r="1.0" fill="#1fb23e"/>
<circle cx="313.58" cy="83.60" r="1.0" fill="#1fb23e"/>
<circle cx="316.63" cy="83.46" r="1.0" fill="#1fb23e"/>
<circle cx="313.19" cy="71.59" r="1.0" fill="#1fb23e"/>
<circle cx="312.68" cy="84.76" r="1.0" fill="#1fb23e"/>
<circle cx="314.45" cy="77.08" r="1.0" fill="#1fb23e"/>
<circle cx="315.40" cy="71.74" r="1.0" fill="#1fb23e"/>
<circle cx="315.28" cy="72.87" r="1.0" fill="#1fb23e"/>
<circle cx="314.72" cy="66.70" r="1.0" fill="#1fb23e"/>
<line x1="309.90" y1="79.10" x2="319.30" y2="79.10" stroke="#333" stroke-width="0.9"/>
<line x1="326.20" y1="58.50" x2="326.20" y2="96.80" stroke="#333" stroke-width="0.8"/>
<rect x="321.70" y="69.00" width="9.00" height="13.30" fill="#b2e2b4" opacity="0.95"/>
<circle cx="327.68" cy="79.70" r="1.0" fill="#1fb23e"/>
<circle cx="326.63" cy="83.07" r="1.0" fill="#1fb23e"/>
<circle cx="325.87" cy="75.38" r="1.0" fill="#1fb23e"/>
<circle cx="326.65" cy="93.77" r="1.0" fill="#1fb23e"/>
<circle cx="324.56" cy="62.87" r="1.0" fill="#1fb23e"/>
<circle cx="325.59" cy="61.86" r="1.0" fill="#1fb23e"/>
<circle cx="326.37" cy="89.83" r="1.0" fill="#1fb23e"/>
<circle cx="328.16" cy="89.53" r="1.0" fill="#1fb23e"/>
<circle cx="325.85" cy="76.24" r="1.0" fill="#1fb23e"/>
<circle cx="325.32" cy="88.24" r="1.0" fill="#1fb23e"/>
<circle cx="326.26" cy="75.91" r="1.0" fill="#1fb23e"/>
<circle cx="325.29" cy="75.49" r="1.0" fill="#1fb23e"/>
<circle cx="326.89" cy="74.78" r="1.0" fill="#1fb23e"/>
<circle cx="326.91" cy="80.92" r="1.0" fill="#1fb23e"/>
<circle cx="325.05" cy="61.44" r="1.0" fill="#1fb23e"/>
<circle cx="324.85" cy="74.85" r="1.0" fill="#1fb23e"/>
<circle cx="326.47" cy="66.97" r="1.0" fill="#1fb23e"/>
<circle cx="326.14" cy="62.49" r="1.0" fill="#1fb23e"/>
<circle cx="324.49" cy="79.90" r="1.0" fill="#1fb23e"/>
<circle cx="326.92" cy="94.90" r="1.0" fill="#1fb23e"/>
<circle cx="327.36" cy="64.04" r="1.0" fill="#1fb23e"/>
<circle cx="327.06" cy="79.27" r="1.0" fill="#1fb23e"/>
<circle cx="323.54" cy="59.93" r="1.0" fill="#1fb23e"/>
<circle cx="324.75" cy="87.76" r="1.0" fill="#1fb23e"/>
<circle cx="322.70" cy="76.06" r="1.0" fill="#1fb23e"/>
<circle cx="328.18" cy="95.26" r="1.0" fill="#1fb23e"/>
<circle cx="327.53" cy="83.83" r="1.0" fill="#1fb23e"/>
<circle cx="325.73" cy="76.99" r="1.0" fill="#1fb23e"/>
<circle cx="327.13" cy="71.78" r="1.0" fill="#1fb23e"/>
<circle cx="326.05" cy="74.22" r="1.0" fill="#1fb23e"/>
<circle cx="324.75" cy="93.97" r="1.0" fill="#1fb23e"/>
<circle cx="326.63" cy="79.61" r="1.0" fill="#1fb23e"/>
<circle cx="324.67" cy="85.46" r="1.0" fill="#1fb23e"/>
<circle cx="323.46" cy="72.08" r="1.0" fill="#1fb23e"/>
<circle cx="326.09" cy="65.04" r="1.0" fill="#1fb23e"/>
<circle cx="326.29" cy="78.37" r="1.0" fill="#1fb23e"/>
<circle cx="326.37" cy="75.40" r="1.0" fill="#1fb23e"/>
<circle cx="324.84" cy="77.99" r="1.0" fill="#1fb23e"/>
<circle cx="327.40" cy="64.89" r="1.0" fill="#1fb23e"/>
<circle cx="325.41" cy="63.25" r="1.0" fill="#1fb23e"/>
<circle cx="326.28" cy="87.09" r="1.0" fill="#1fb23e"/>
<circle cx="327.62" cy="93.07" r="1.0" fill="#1fb23e"/>
<circle cx="327.54" cy="79.87" r="1.0" fill="#1fb23e"/>
<circle cx="326.09" cy="92.35" r="1.0" fill="#1fb23e"/>
<circle cx="329.19" cy="60.94" r="1.0" fill="#1fb23e"/>
<circle cx="326.22" cy="79.95" r="1.0" fill="#1fb23e"/>
<circle cx="325.95" cy="94.72" r="1.0" fill="#1fb23e"/>
<circle cx="323.82" cy="95.96" r="1.0" fill="#1fb23e"/>
<circle cx="324.74" cy="95.06" r="1.0" fill="#1fb23e"/>
<circle cx="329.21" cy="71.45" r="1.0" fill="#1fb23e"/>
<circle cx="327.48" cy="90.23" r="1.0" fill="#1fb23e"/>
<circle cx="325.82" cy="70.99" r="1.0" fill="#1fb23e"/>
<circle cx="324.25" cy="94.02" r="1.0" fill="#1fb23e"/>
<circle cx="327.14" cy="81.46" r="1.0" fill="#1fb23e"/>
<circle cx="324.51" cy="71.65" r="1.0" fill="#1fb23e"/>
<circle cx="326.34" cy="78.56" r="1.0" fill="#1fb23e"/>
<circle cx="325.52" cy="79.58" r="1.0" fill="#1fb23e"/>
<circle cx="327.53" cy="93.02" r="1.0" fill="#1fb23e"/>
<circle cx="324.99" cy="66.83" r="1.0" fill="#1fb23e"/>
<circle cx="326.84" cy="67.40" r="1.0" fill="#1fb23e"/>
<circle cx="322.68" cy="78.33" r="1.0" fill="#1fb23e"/>
<circle cx="326.76" cy="68.18" r="1.0" fill="#1fb23e"/>
<circle cx="326.20" cy="75.14" r="1.0" fill="#1fb23e"/>
<circle cx="327.21" cy="71.84" r="1.0" fill="#1fb23e"/>
<circle cx="326.00" cy="64.47" r="1.0" fill="#1fb23e"/>
<circle cx="323.73" cy="89.95" r="1.0" fill="#1fb23e"/>
<circle cx="324.86" cy="64.06" r="1.0" fill="#1fb23e"/>
<circle cx="326.39" cy="73.42" r="1.0" fill="#1fb23e"/>
<circle cx="324.09" cy="63.17" r="1.0" fill="#1fb23e"/>
<circle cx="325.55" cy="90.76" r="1.0" fill="#1fb23e"/>
<circle cx="324.30" cy="46.40" r="1.0" fill="#1fb23e"/>
<line x1="321.70" y1="76.50" x2="330.70" y2="76.50" stroke="#333" stroke-width="0.9"/>
<text x="303.70" y="39.30" font-size="7.3" fill="#231f20" stroke="#231f20" stroke-width="0.22" textLength="21.70" lengthAdjust="spacingAndGlyphs">2.7E-2</text>
<line x1="302.90" y1="41.50" x2="326.50" y2="41.50" stroke="#222" stroke-width="1.0"/>
<text x="314.80" y="55.00" font-size="7.3" fill="#231f20" stroke="#231f20" stroke-width="0.22" textLength="10.40" lengthAdjust="spacingAndGlyphs">NS</text>
<line x1="314.10" y1="56.80" x2="326.00" y2="56.80" stroke="#222" stroke-width="1.0"/>
<text x="298.10" y="105.10" font-size="7.3" fill="#231f20" stroke="#231f20" stroke-width="0.22" textLength="21.20" lengthAdjust="spacingAndGlyphs">1.5E-3</text>
<line x1="302.30" y1="98.20" x2="314.20" y2="98.20" stroke="#222" stroke-width="1.0"/>
<text transform="translate(352.20,68.70) rotate(-90)" font-size="8.4" fill="#231f20" stroke="#231f20" stroke-width="0.1" text-anchor="middle" textLength="72.80" lengthAdjust="spacingAndGlyphs">Amplitude score [a.u.]</text>
<line x1="372.60" y1="29.00" x2="372.60" y2="108.30" stroke="#111" stroke-width="1.0"/>
<line x1="369.40" y1="48.90" x2="372.60" y2="48.90" stroke="#222" stroke-width="0.9"/>
<text x="366.60" y="51.90" font-size="8.6" fill="#231f20" stroke="#231f20" stroke-width="0.22" text-anchor="end" textLength="8.23" lengthAdjust="spacingAndGlyphs">20</text>
<line x1="369.40" y1="60.73" x2="372.60" y2="60.73" stroke="#222" stroke-width="0.9"/>
<text x="366.60" y="63.73" font-size="8.6" fill="#231f20" stroke="#231f20" stroke-width="0.22" text-anchor="end" textLength="8.23" lengthAdjust="spacingAndGlyphs">15</text>
<line x1="369.40" y1="72.55" x2="372.60" y2="72.55" stroke="#222" stroke-width="0.9"/>
<text x="366.60" y="75.55" font-size="8.6" fill="#231f20" stroke="#231f20" stroke-width="0.22" text-anchor="end" textLength="8.23" lengthAdjust="spacingAndGlyphs">10</text>
<line x1="369.40" y1="84.38" x2="372.60" y2="84.38" stroke="#222" stroke-width="0.9"/>
<text x="366.60" y="87.38" font-size="8.6" fill="#231f20" stroke="#231f20" stroke-width="0.22" text-anchor="end" textLength="4.11" lengthAdjust="spacingAndGlyphs">5</text>
<line x1="369.40" y1="96.20" x2="372.60" y2="96.20" stroke="#222" stroke-width="0.9"/>
<text x="366.60" y="99.20" font-size="8.6" fill="#231f20" stroke="#231f20" stroke-width="0.22" text-anchor="end" textLength="4.11" lengthAdjust="spacingAndGlyphs">0</text>
<line x1="372.10" y1="108.30" x2="423.10" y2="108.30" stroke="#111" stroke-width="1.0"/>
<line x1="379.80" y1="108.30" x2="379.80" y2="111.20" stroke="#333" stroke-width="0.7"/>
<line x1="391.80" y1="108.30" x2="391.80" y2="111.20" stroke="#333" stroke-width="0.7"/>
<line x1="403.70" y1="108.30" x2="403.70" y2="111.20" stroke="#333" stroke-width="0.7"/>
<line x1="415.70" y1="108.30" x2="415.70" y2="111.20" stroke="#333" stroke-width="0.7"/>
<rect x="374.50" y="111.20" width="10.60" height="7.20" fill="#fff" stroke="#8a8a8a" stroke-width="0.9" rx="0.9"/>
<rect x="386.50" y="111.20" width="10.50" height="7.20" fill="url(#cg)" stroke="#8a8a8a" stroke-width="0.9" rx="0.9"/>
<rect x="398.80" y="111.20" width="11.30" height="7.20" fill="url(#cg)" stroke="#8a8a8a" stroke-width="0.9" rx="0.9"/>
<rect x="410.10" y="111.20" width="10.80" height="7.20" fill="url(#stripes)"/>
<rect x="410.10" y="111.20" width="1.70" height="7.20" fill="#b8b8b8"/>
<rect x="410.10" y="111.20" width="10.80" height="7.20" fill="none" stroke="#8a8a8a" stroke-width="0.9" rx="0.9"/>
<rect x="386.50" y="118.40" width="10.50" height="9.40" fill="#fff" stroke="#8a8a8a" stroke-width="0.9" rx="0.9"/>
<rect x="398.80" y="118.40" width="22.10" height="9.40" fill="#fff" stroke="#8a8a8a" stroke-width="0.9" rx="0.9"/>
<text x="391.75" y="125.80" font-size="7.9" fill="#231f20" stroke="#231f20" stroke-width="0.1" text-anchor="middle">M</text>
<text x="409.85" y="125.80" font-size="7.9" fill="#231f20" stroke="#231f20" stroke-width="0.1" text-anchor="middle">GM</text>
<line x1="379.30" y1="78.50" x2="379.30" y2="104.90" stroke="#333" stroke-width="0.8"/>
<rect x="375.30" y="89.60" width="8.00" height="10.00" fill="#fff" stroke="#4a4a4a" stroke-width="0.7"/>
<circle cx="377.95" cy="101.28" r="1.0" fill="#c2c2c2"/>
<circle cx="378.20" cy="94.19" r="1.0" fill="#c2c2c2"/>
<circle cx="381.43" cy="99.42" r="1.0" fill="#c2c2c2"/>
<circle cx="380.38" cy="93.06" r="1.0" fill="#c2c2c2"/>
<circle cx="378.41" cy="99.06" r="1.0" fill="#c2c2c2"/>
<circle cx="380.79" cy="96.22" r="1.0" fill="#c2c2c2"/>
<circle cx="379.54" cy="84.40" r="1.0" fill="#c2c2c2"/>
<circle cx="379.49" cy="78.52" r="1.0" fill="#c2c2c2"/>
<circle cx="379.24" cy="81.60" r="1.0" fill="#c2c2c2"/>
<circle cx="378.13" cy="91.19" r="1.0" fill="#c2c2c2"/>
<circle cx="378.60" cy="96.06" r="1.0" fill="#c2c2c2"/>
<circle cx="376.91" cy="102.55" r="1.0" fill="#c2c2c2"/>
<circle cx="378.20" cy="96.26" r="1.0" fill="#c2c2c2"/>
<circle cx="380.73" cy="93.57" r="1.0" fill="#c2c2c2"/>
<circle cx="380.50" cy="96.38" r="1.0" fill="#c2c2c2"/>
<circle cx="378.89" cy="85.56" r="1.0" fill="#c2c2c2"/>
<circle cx="379.08" cy="101.50" r="1.0" fill="#c2c2c2"/>
<circle cx="381.21" cy="94.57" r="1.0" fill="#c2c2c2"/>
<circle cx="380.50" cy="84.67" r="1.0" fill="#c2c2c2"/>
<circle cx="379.09" cy="93.66" r="1.0" fill="#c2c2c2"/>
<circle cx="380.06" cy="104.14" r="1.0" fill="#c2c2c2"/>
<circle cx="379.60" cy="97.40" r="1.0" fill="#c2c2c2"/>
<line x1="375.30" y1="93.00" x2="383.30" y2="93.00" stroke="#333" stroke-width="0.9"/>
<line x1="391.80" y1="62.60" x2="391.80" y2="87.70" stroke="#333" stroke-width="0.8"/>
<rect x="387.20" y="66.60" width="9.20" height="14.00" fill="#e58ca2" opacity="0.95"/>
<circle cx="392.56" cy="63.26" r="1.0" fill="#d3062c"/>
<circle cx="388.86" cy="83.07" r="1.0" fill="#d3062c"/>
<circle cx="392.56" cy="82.45" r="1.0" fill="#d3062c"/>
<circle cx="391.45" cy="70.86" r="1.0" fill="#d3062c"/>
<circle cx="389.95" cy="86.03" r="1.0" fill="#d3062c"/>
<circle cx="391.43" cy="74.82" r="1.0" fill="#d3062c"/>
<circle cx="393.41" cy="76.71" r="1.0" fill="#d3062c"/>
<circle cx="391.34" cy="74.79" r="1.0" fill="#d3062c"/>
<circle cx="392.19" cy="79.60" r="1.0" fill="#d3062c"/>
<circle cx="393.51" cy="65.59" r="1.0" fill="#d3062c"/>
<circle cx="391.51" cy="68.31" r="1.0" fill="#d3062c"/>
<circle cx="391.07" cy="80.74" r="1.0" fill="#d3062c"/>
<circle cx="388.61" cy="86.39" r="1.0" fill="#d3062c"/>
<circle cx="391.67" cy="85.37" r="1.0" fill="#d3062c"/>
<circle cx="392.31" cy="67.86" r="1.0" fill="#d3062c"/>
<circle cx="392.25" cy="65.41" r="1.0" fill="#d3062c"/>
<circle cx="389.83" cy="83.32" r="1.0" fill="#d3062c"/>
<circle cx="394.08" cy="87.56" r="1.0" fill="#d3062c"/>
<circle cx="389.48" cy="79.97" r="1.0" fill="#d3062c"/>
<circle cx="393.21" cy="74.18" r="1.0" fill="#d3062c"/>
<circle cx="391.58" cy="85.71" r="1.0" fill="#d3062c"/>
<circle cx="391.18" cy="80.99" r="1.0" fill="#d3062c"/>
<circle cx="391.70" cy="45.80" r="1.0" fill="#d3062c"/>
<line x1="387.20" y1="75.30" x2="396.40" y2="75.30" stroke="#333" stroke-width="0.9"/>
<line x1="404.20" y1="58.00" x2="404.20" y2="100.00" stroke="#333" stroke-width="0.8"/>
<rect x="399.60" y="66.60" width="9.20" height="16.60" fill="#b2e2b4" opacity="0.95"/>
<circle cx="403.42" cy="92.70" r="1.0" fill="#1fb23e"/>
<circle cx="403.45" cy="95.97" r="1.0" fill="#1fb23e"/>
<circle cx="401.60" cy="82.03" r="1.0" fill="#1fb23e"/>
<circle cx="405.72" cy="72.80" r="1.0" fill="#1fb23e"/>
<circle cx="404.75" cy="67.17" r="1.0" fill="#1fb23e"/>
<circle cx="404.88" cy="62.15" r="1.0" fill="#1fb23e"/>
<circle cx="402.99" cy="81.82" r="1.0" fill="#1fb23e"/>
<circle cx="402.82" cy="73.53" r="1.0" fill="#1fb23e"/>
<circle cx="400.77" cy="90.32" r="1.0" fill="#1fb23e"/>
<circle cx="404.14" cy="80.77" r="1.0" fill="#1fb23e"/>
<circle cx="405.08" cy="78.36" r="1.0" fill="#1fb23e"/>
<circle cx="405.04" cy="81.23" r="1.0" fill="#1fb23e"/>
<circle cx="403.46" cy="96.53" r="1.0" fill="#1fb23e"/>
<circle cx="404.20" cy="65.73" r="1.0" fill="#1fb23e"/>
<circle cx="407.89" cy="58.02" r="1.0" fill="#1fb23e"/>
<circle cx="403.91" cy="58.19" r="1.0" fill="#1fb23e"/>
<circle cx="405.84" cy="63.37" r="1.0" fill="#1fb23e"/>
<circle cx="404.24" cy="67.63" r="1.0" fill="#1fb23e"/>
<circle cx="403.80" cy="64.58" r="1.0" fill="#1fb23e"/>
<circle cx="404.99" cy="70.39" r="1.0" fill="#1fb23e"/>
<circle cx="404.43" cy="60.35" r="1.0" fill="#1fb23e"/>
<circle cx="404.06" cy="76.96" r="1.0" fill="#1fb23e"/>
<circle cx="403.27" cy="67.98" r="1.0" fill="#1fb23e"/>
<circle cx="405.00" cy="87.23" r="1.0" fill="#1fb23e"/>
<circle cx="403.80" cy="63.80" r="1.0" fill="#1fb23e"/>
<circle cx="404.43" cy="58.93" r="1.0" fill="#1fb23e"/>
<circle cx="405.93" cy="81.95" r="1.0" fill="#1fb23e"/>
<circle cx="407.60" cy="67.13" r="1.0" fill="#1fb23e"/>
<circle cx="405.16" cy="80.53" r="1.0" fill="#1fb23e"/>
<circle cx="403.47" cy="72.26" r="1.0" fill="#1fb23e"/>
<circle cx="402.04" cy="60.61" r="1.0" fill="#1fb23e"/>
<circle cx="404.64" cy="68.83" r="1.0" fill="#1fb23e"/>
<circle cx="405.82" cy="63.60" r="1.0" fill="#1fb23e"/>
<circle cx="404.24" cy="93.17" r="1.0" fill="#1fb23e"/>
<circle cx="404.64" cy="66.40" r="1.0" fill="#1fb23e"/>
<circle cx="405.66" cy="81.51" r="1.0" fill="#1fb23e"/>
<circle cx="403.44" cy="65.51" r="1.0" fill="#1fb23e"/>
<circle cx="403.05" cy="60.33" r="1.0" fill="#1fb23e"/>
<circle cx="404.39" cy="63.39" r="1.0" fill="#1fb23e"/>
<circle cx="403.08" cy="92.33" r="1.0" fill="#1fb23e"/>
<circle cx="403.54" cy="58.82" r="1.0" fill="#1fb23e"/>
<circle cx="404.09" cy="64.81" r="1.0" fill="#1fb23e"/>
<circle cx="402.82" cy="73.80" r="1.0" fill="#1fb23e"/>
<circle cx="402.83" cy="97.35" r="1.0" fill="#1fb23e"/>
<circle cx="406.35" cy="61.00" r="1.0" fill="#1fb23e"/>
<circle cx="404.97" cy="78.29" r="1.0" fill="#1fb23e"/>
<circle cx="405.82" cy="65.40" r="1.0" fill="#1fb23e"/>
<circle cx="404.84" cy="72.27" r="1.0" fill="#1fb23e"/>
<circle cx="402.36" cy="80.42" r="1.0" fill="#1fb23e"/>
<circle cx="404.73" cy="75.83" r="1.0" fill="#1fb23e"/>
<circle cx="403.57" cy="59.07" r="1.0" fill="#1fb23e"/>
<circle cx="405.21" cy="58.68" r="1.0" fill="#1fb23e"/>
<circle cx="404.56" cy="89.73" r="1.0" fill="#1fb23e"/>
<circle cx="404.02" cy="98.31" r="1.0" fill="#1fb23e"/>
<circle cx="403.27" cy="72.82" r="1.0" fill="#1fb23e"/>
<circle cx="403.30" cy="81.77" r="1.0" fill="#1fb23e"/>
<circle cx="401.58" cy="62.29" r="1.0" fill="#1fb23e"/>
<circle cx="404.88" cy="60.42" r="1.0" fill="#1fb23e"/>
<circle cx="405.69" cy="73.41" r="1.0" fill="#1fb23e"/>
<circle cx="404.74" cy="77.65" r="1.0" fill="#1fb23e"/>
<line x1="399.60" y1="75.30" x2="408.80" y2="75.30" stroke="#333" stroke-width="0.9"/>
<line x1="415.70" y1="53.00" x2="415.70" y2="100.00" stroke="#333" stroke-width="0.8"/>
<rect x="411.40" y="66.60" width="8.60" height="15.10" fill="#b2e2b4" opacity="0.95"/>
<circle cx="415.91" cy="71.52" r="1.0" fill="#1fb23e"/>
<circle cx="416.76" cy="79.98" r="1.0" fill="#1fb23e"/>
<circle cx="414.22" cy="74.85" r="1.0" fill="#1fb23e"/>
<circle cx="418.89" cy="55.31" r="1.0" fill="#1fb23e"/>
<circle cx="418.03" cy="53.01" r="1.0" fill="#1fb23e"/>
<circle cx="415.63" cy="73.08" r="1.0" fill="#1fb23e"/>
<circle cx="416.12" cy="95.86" r="1.0" fill="#1fb23e"/>
<circle cx="413.88" cy="76.44" r="1.0" fill="#1fb23e"/>
<circle cx="417.32" cy="55.05" r="1.0" fill="#1fb23e"/>
<circle cx="416.31" cy="87.70" r="1.0" fill="#1fb23e"/>
<circle cx="417.84" cy="54.42" r="1.0" fill="#1fb23e"/>
<circle cx="413.65" cy="77.45" r="1.0" fill="#1fb23e"/>
<circle cx="416.02" cy="58.87" r="1.0" fill="#1fb23e"/>
<circle cx="415.40" cy="68.37" r="1.0" fill="#1fb23e"/>
<circle cx="415.97" cy="95.21" r="1.0" fill="#1fb23e"/>
<circle cx="417.77" cy="60.72" r="1.0" fill="#1fb23e"/>
<circle cx="414.54" cy="75.15" r="1.0" fill="#1fb23e"/>
<circle cx="415.24" cy="69.06" r="1.0" fill="#1fb23e"/>
<circle cx="415.96" cy="64.16" r="1.0" fill="#1fb23e"/>
<circle cx="417.57" cy="69.34" r="1.0" fill="#1fb23e"/>
<circle cx="415.67" cy="67.16" r="1.0" fill="#1fb23e"/>
<circle cx="414.94" cy="74.30" r="1.0" fill="#1fb23e"/>
<circle cx="414.70" cy="75.37" r="1.0" fill="#1fb23e"/>
<circle cx="415.86" cy="61.70" r="1.0" fill="#1fb23e"/>
<circle cx="416.03" cy="87.84" r="1.0" fill="#1fb23e"/>
<circle cx="413.74" cy="53.50" r="1.0" fill="#1fb23e"/>
<circle cx="416.32" cy="73.08" r="1.0" fill="#1fb23e"/>
<circle cx="415.88" cy="83.73" r="1.0" fill="#1fb23e"/>
<circle cx="414.30" cy="56.24" r="1.0" fill="#1fb23e"/>
<circle cx="415.47" cy="73.50" r="1.0" fill="#1fb23e"/>
<circle cx="414.98" cy="80.86" r="1.0" fill="#1fb23e"/>
<circle cx="415.88" cy="55.23" r="1.0" fill="#1fb23e"/>
<circle cx="417.22" cy="63.54" r="1.0" fill="#1fb23e"/>
<circle cx="414.90" cy="63.76" r="1.0" fill="#1fb23e"/>
<circle cx="417.55" cy="92.78" r="1.0" fill="#1fb23e"/>
<circle cx="414.25" cy="72.17" r="1.0" fill="#1fb23e"/>
<circle cx="413.39" cy="98.67" r="1.0" fill="#1fb23e"/>
<circle cx="417.94" cy="94.43" r="1.0" fill="#1fb23e"/>
<circle cx="415.16" cy="70.76" r="1.0" fill="#1fb23e"/>
<circle cx="417.79" cy="69.96" r="1.0" fill="#1fb23e"/>
<circle cx="416.02" cy="78.83" r="1.0" fill="#1fb23e"/>
<circle cx="416.51" cy="53.74" r="1.0" fill="#1fb23e"/>
<circle cx="416.84" cy="69.67" r="1.0" fill="#1fb23e"/>
<circle cx="414.30" cy="73.67" r="1.0" fill="#1fb23e"/>
<circle cx="415.87" cy="79.34" r="1.0" fill="#1fb23e"/>
<circle cx="415.64" cy="63.69" r="1.0" fill="#1fb23e"/>
<circle cx="418.14" cy="99.23" r="1.0" fill="#1fb23e"/>
<circle cx="414.03" cy="81.62" r="1.0" fill="#1fb23e"/>
<circle cx="416.49" cy="93.49" r="1.0" fill="#1fb23e"/>
<circle cx="414.93" cy="68.25" r="1.0" fill="#1fb23e"/>
<circle cx="415.26" cy="81.57" r="1.0" fill="#1fb23e"/>
<circle cx="414.19" cy="69.80" r="1.0" fill="#1fb23e"/>
<circle cx="413.86" cy="70.95" r="1.0" fill="#1fb23e"/>
<circle cx="415.83" cy="75.56" r="1.0" fill="#1fb23e"/>
<circle cx="412.98" cy="74.12" r="1.0" fill="#1fb23e"/>
<circle cx="415.94" cy="92.40" r="1.0" fill="#1fb23e"/>
<circle cx="416.34" cy="87.23" r="1.0" fill="#1fb23e"/>
<circle cx="416.75" cy="78.16" r="1.0" fill="#1fb23e"/>
<circle cx="415.85" cy="93.45" r="1.0" fill="#1fb23e"/>
<circle cx="416.44" cy="92.20" r="1.0" fill="#1fb23e"/>
<circle cx="415.77" cy="81.60" r="1.0" fill="#1fb23e"/>
<circle cx="412.06" cy="96.05" r="1.0" fill="#1fb23e"/>
<circle cx="416.40" cy="98.96" r="1.0" fill="#1fb23e"/>
<circle cx="416.80" cy="61.68" r="1.0" fill="#1fb23e"/>
<circle cx="416.22" cy="70.70" r="1.0" fill="#1fb23e"/>
<circle cx="412.04" cy="80.68" r="1.0" fill="#1fb23e"/>
<circle cx="416.22" cy="98.19" r="1.0" fill="#1fb23e"/>
<circle cx="417.00" cy="64.05" r="1.0" fill="#1fb23e"/>
<circle cx="415.56" cy="83.90" r="1.0" fill="#1fb23e"/>
<circle cx="415.41" cy="67.39" r="1.0" fill="#1fb23e"/>
<circle cx="414.00" cy="103.50" r="1.0" fill="#1fb23e"/>
<line x1="411.40" y1="74.50" x2="420.00" y2="74.50" stroke="#333" stroke-width="0.9"/>
<text x="393.50" y="39.50" font-size="7.3" fill="#231f20" stroke="#231f20" stroke-width="0.22" textLength="20.70" lengthAdjust="spacingAndGlyphs">All NS</text>
<line x1="392.00" y1="41.80" x2="416.00" y2="41.80" stroke="#222" stroke-width="1.0"/>
<line x1="392.20" y1="55.10" x2="404.00" y2="55.10" stroke="#222" stroke-width="1.0"/>
<line x1="403.80" y1="49.20" x2="414.90" y2="49.20" stroke="#222" stroke-width="1.0"/>
<text transform="translate(437.40,69.80) rotate(-90)" font-size="8.4" fill="#231f20" stroke="#231f20" stroke-width="0.1" text-anchor="middle" textLength="71.00" lengthAdjust="spacingAndGlyphs">Oscillation score [a.u.]</text>
<line x1="462.40" y1="28.50" x2="462.40" y2="108.40" stroke="#111" stroke-width="1.0"/>
<line x1="459.20" y1="54.70" x2="462.40" y2="54.70" stroke="#222" stroke-width="0.9"/>
<text x="456.40" y="57.70" font-size="8.6" fill="#231f20" stroke="#231f20" stroke-width="0.22" text-anchor="end" textLength="10.28" lengthAdjust="spacingAndGlyphs">0.9</text>
<line x1="459.20" y1="70.70" x2="462.40" y2="70.70" stroke="#222" stroke-width="0.9"/>
<text x="456.40" y="73.70" font-size="8.6" fill="#231f20" stroke="#231f20" stroke-width="0.22" text-anchor="end" textLength="10.28" lengthAdjust="spacingAndGlyphs">0.6</text>
<line x1="459.20" y1="86.70" x2="462.40" y2="86.70" stroke="#222" stroke-width="0.9"/>
<text x="456.40" y="89.70" font-size="8.6" fill="#231f20" stroke="#231f20" stroke-width="0.22" text-anchor="end" textLength="10.28" lengthAdjust="spacingAndGlyphs">0.3</text>
<line x1="461.90" y1="108.40" x2="512.90" y2="108.40" stroke="#111" stroke-width="1.0"/>
<line x1="469.60" y1="108.40" x2="469.60" y2="111.20" stroke="#333" stroke-width="0.7"/>
<line x1="481.60" y1="108.40" x2="481.60" y2="111.20" stroke="#333" stroke-width="0.7"/>
<line x1="493.50" y1="108.40" x2="493.50" y2="111.20" stroke="#333" stroke-width="0.7"/>
<line x1="505.50" y1="108.40" x2="505.50" y2="111.20" stroke="#333" stroke-width="0.7"/>
<rect x="464.30" y="111.20" width="10.60" height="7.20" fill="#fff" stroke="#8a8a8a" stroke-width="0.9" rx="0.9"/>
<rect x="476.30" y="111.20" width="10.50" height="7.20" fill="url(#cg)" stroke="#8a8a8a" stroke-width="0.9" rx="0.9"/>
<rect x="488.60" y="111.20" width="11.30" height="7.20" fill="url(#cg)" stroke="#8a8a8a" stroke-width="0.9" rx="0.9"/>
<rect x="499.90" y="111.20" width="10.80" height="7.20" fill="url(#stripes)"/>
<rect x="499.90" y="111.20" width="1.70" height="7.20" fill="#b8b8b8"/>
<rect x="499.90" y="111.20" width="10.80" height="7.20" fill="none" stroke="#8a8a8a" stroke-width="0.9" rx="0.9"/>
<rect x="476.30" y="118.40" width="10.50" height="9.40" fill="#fff" stroke="#8a8a8a" stroke-width="0.9" rx="0.9"/>
<rect x="488.60" y="118.40" width="22.10" height="9.40" fill="#fff" stroke="#8a8a8a" stroke-width="0.9" rx="0.9"/>
<text x="481.55" y="125.80" font-size="7.9" fill="#231f20" stroke="#231f20" stroke-width="0.1" text-anchor="middle">M</text>
<text x="499.65" y="125.80" font-size="7.9" fill="#231f20" stroke="#231f20" stroke-width="0.1" text-anchor="middle">GM</text>
<line x1="469.40" y1="59.40" x2="469.40" y2="105.00" stroke="#333" stroke-width="0.8"/>
<rect x="465.00" y="86.70" width="8.80" height="17.60" fill="#fff" stroke="#4a4a4a" stroke-width="0.7"/>
<circle cx="468.60" cy="62.84" r="1.0" fill="#c2c2c2"/>
<circle cx="468.15" cy="104.53" r="1.0" fill="#c2c2c2"/>
<circle cx="470.89" cy="104.38" r="1.0" fill="#c2c2c2"/>
<circle cx="470.24" cy="82.47" r="1.0" fill="#c2c2c2"/>
<circle cx="469.44" cy="89.88" r="1.0" fill="#c2c2c2"/>
<circle cx="470.95" cy="104.76" r="1.0" fill="#c2c2c2"/>
<circle cx="469.60" cy="93.52" r="1.0" fill="#c2c2c2"/>
<circle cx="467.56" cy="93.04" r="1.0" fill="#c2c2c2"/>
<circle cx="469.54" cy="94.72" r="1.0" fill="#c2c2c2"/>
<circle cx="470.62" cy="101.92" r="1.0" fill="#c2c2c2"/>
<circle cx="470.44" cy="88.27" r="1.0" fill="#c2c2c2"/>
<circle cx="470.53" cy="103.08" r="1.0" fill="#c2c2c2"/>
<circle cx="470.64" cy="66.74" r="1.0" fill="#c2c2c2"/>
<circle cx="470.75" cy="104.46" r="1.0" fill="#c2c2c2"/>
<circle cx="472.89" cy="104.55" r="1.0" fill="#c2c2c2"/>
<circle cx="468.44" cy="100.88" r="1.0" fill="#c2c2c2"/>
<circle cx="466.27" cy="69.98" r="1.0" fill="#c2c2c2"/>
<circle cx="469.04" cy="96.63" r="1.0" fill="#c2c2c2"/>
<circle cx="469.44" cy="87.13" r="1.0" fill="#c2c2c2"/>
<circle cx="468.72" cy="104.31" r="1.0" fill="#c2c2c2"/>
<circle cx="468.59" cy="66.37" r="1.0" fill="#c2c2c2"/>
<circle cx="467.53" cy="81.78" r="1.0" fill="#c2c2c2"/>
<line x1="465.00" y1="100.20" x2="473.80" y2="100.20" stroke="#333" stroke-width="0.9"/>
<line x1="481.80" y1="52.00" x2="481.80" y2="104.30" stroke="#333" stroke-width="0.8"/>
<rect x="477.70" y="71.30" width="8.20" height="28.20" fill="#e58ca2" opacity="0.95"/>
<circle cx="482.00" cy="100.06" r="1.0" fill="#d3062c"/>
<circle cx="483.34" cy="101.40" r="1.0" fill="#d3062c"/>
<circle cx="481.58" cy="86.08" r="1.0" fill="#d3062c"/>
<circle cx="482.30" cy="101.69" r="1.0" fill="#d3062c"/>
<circle cx="481.45" cy="100.00" r="1.0" fill="#d3062c"/>
<circle cx="482.38" cy="101.65" r="1.0" fill="#d3062c"/>
<circle cx="480.55" cy="52.98" r="1.0" fill="#d3062c"/>
<circle cx="482.29" cy="56.56" r="1.0" fill="#d3062c"/>
<circle cx="480.28" cy="101.08" r="1.0" fill="#d3062c"/>
<circle cx="481.67" cy="72.91" r="1.0" fill="#d3062c"/>
<circle cx="483.65" cy="97.07" r="1.0" fill="#d3062c"/>
<circle cx="481.56" cy="76.76" r="1.0" fill="#d3062c"/>
<circle cx="481.20" cy="72.26" r="1.0" fill="#d3062c"/>
<circle cx="482.72" cy="94.93" r="1.0" fill="#d3062c"/>
<circle cx="481.62" cy="71.29" r="1.0" fill="#d3062c"/>
<circle cx="482.28" cy="102.99" r="1.0" fill="#d3062c"/>
<circle cx="482.04" cy="101.29" r="1.0" fill="#d3062c"/>
<circle cx="481.23" cy="65.37" r="1.0" fill="#d3062c"/>
<circle cx="480.40" cy="63.87" r="1.0" fill="#d3062c"/>
<circle cx="482.12" cy="88.44" r="1.0" fill="#d3062c"/>
<circle cx="480.54" cy="101.11" r="1.0" fill="#d3062c"/>
<circle cx="481.33" cy="91.17" r="1.0" fill="#d3062c"/>
<line x1="477.70" y1="89.90" x2="485.90" y2="89.90" stroke="#333" stroke-width="0.9"/>
<line x1="493.50" y1="75.50" x2="493.50" y2="105.00" stroke="#333" stroke-width="0.8"/>
<rect x="488.70" y="92.50" width="9.60" height="11.80" fill="#b2e2b4" opacity="0.95"/>
<circle cx="494.42" cy="102.86" r="1.0" fill="#1fb23e"/>
<circle cx="493.79" cy="82.88" r="1.0" fill="#1fb23e"/>
<circle cx="495.57" cy="98.26" r="1.0" fill="#1fb23e"/>
<circle cx="492.54" cy="103.69" r="1.0" fill="#1fb23e"/>
<circle cx="493.22" cy="93.62" r="1.0" fill="#1fb23e"/>
<circle cx="490.66" cy="104.58" r="1.0" fill="#1fb23e"/>
<circle cx="493.08" cy="79.08" r="1.0" fill="#1fb23e"/>
<circle cx="497.26" cy="104.96" r="1.0" fill="#1fb23e"/>
<circle cx="492.47" cy="87.57" r="1.0" fill="#1fb23e"/>
<circle cx="494.71" cy="104.82" r="1.0" fill="#1fb23e"/>
<circle cx="490.48" cy="104.41" r="1.0" fill="#1fb23e"/>
<circle cx="495.34" cy="104.87" r="1.0" fill="#1fb23e"/>
<circle cx="493.33" cy="104.48" r="1.0" fill="#1fb23e"/>
<circle cx="492.77" cy="92.64" r="1.0" fill="#1fb23e"/>
<circle cx="491.51" cy="94.79" r="1.0" fill="#1fb23e"/>
<circle cx="494.77" cy="90.50" r="1.0" fill="#1fb23e"/>
<circle cx="492.67" cy="104.51" r="1.0" fill="#1fb23e"/>
<circle cx="494.93" cy="102.45" r="1.0" fill="#1fb23e"/>
<circle cx="492.71" cy="104.76" r="1.0" fill="#1fb23e"/>
<circle cx="492.44" cy="101.48" r="1.0" fill="#1fb23e"/>
<circle cx="494.17" cy="104.20" r="1.0" fill="#1fb23e"/>
<circle cx="494.35" cy="104.94" r="1.0" fill="#1fb23e"/>
<circle cx="492.68" cy="103.58" r="1.0" fill="#1fb23e"/>
<circle cx="493.45" cy="79.43" r="1.0" fill="#1fb23e"/>
<circle cx="495.31" cy="86.18" r="1.0" fill="#1fb23e"/>
<circle cx="490.43" cy="104.77" r="1.0" fill="#1fb23e"/>
<circle cx="494.47" cy="90.27" r="1.0" fill="#1fb23e"/>
<circle cx="491.92" cy="104.97" r="1.0" fill="#1fb23e"/>
<circle cx="492.00" cy="95.00" r="1.0" fill="#1fb23e"/>
<circle cx="492.19" cy="98.38" r="1.0" fill="#1fb23e"/>
<circle cx="491.30" cy="97.43" r="1.0" fill="#1fb23e"/>
<circle cx="492.03" cy="77.25" r="1.0" fill="#1fb23e"/>
<circle cx="493.68" cy="98.20" r="1.0" fill="#1fb23e"/>
<circle cx="492.24" cy="79.40" r="1.0" fill="#1fb23e"/>
<circle cx="494.51" cy="102.53" r="1.0" fill="#1fb23e"/>
<circle cx="496.37" cy="75.94" r="1.0" fill="#1fb23e"/>
<circle cx="494.58" cy="98.88" r="1.0" fill="#1fb23e"/>
<circle cx="494.58" cy="98.09" r="1.0" fill="#1fb23e"/>
<circle cx="494.55" cy="104.57" r="1.0" fill="#1fb23e"/>
<circle cx="492.70" cy="78.14" r="1.0" fill="#1fb23e"/>
<circle cx="493.74" cy="88.20" r="1.0" fill="#1fb23e"/>
<circle cx="493.04" cy="78.12" r="1.0" fill="#1fb23e"/>
<circle cx="494.08" cy="104.51" r="1.0" fill="#1fb23e"/>
<circle cx="492.74" cy="104.68" r="1.0" fill="#1fb23e"/>
<circle cx="494.13" cy="103.30" r="1.0" fill="#1fb23e"/>
<circle cx="491.04" cy="95.23" r="1.0" fill="#1fb23e"/>
<circle cx="493.30" cy="89.93" r="1.0" fill="#1fb23e"/>
<circle cx="491.01" cy="97.96" r="1.0" fill="#1fb23e"/>
<circle cx="492.45" cy="98.80" r="1.0" fill="#1fb23e"/>
<circle cx="491.63" cy="96.12" r="1.0" fill="#1fb23e"/>
<circle cx="493.27" cy="97.47" r="1.0" fill="#1fb23e"/>
<circle cx="494.51" cy="98.29" r="1.0" fill="#1fb23e"/>
<circle cx="495.77" cy="104.45" r="1.0" fill="#1fb23e"/>
<circle cx="492.93" cy="104.92" r="1.0" fill="#1fb23e"/>
<circle cx="494.27" cy="104.94" r="1.0" fill="#1fb23e"/>
<circle cx="495.60" cy="94.47" r="1.0" fill="#1fb23e"/>
<circle cx="494.00" cy="100.13" r="1.0" fill="#1fb23e"/>
<circle cx="494.05" cy="104.87" r="1.0" fill="#1fb23e"/>
<circle cx="495.45" cy="94.86" r="1.0" fill="#1fb23e"/>
<circle cx="493.54" cy="104.41" r="1.0" fill="#1fb23e"/>
<line x1="488.70" y1="102.10" x2="498.30" y2="102.10" stroke="#333" stroke-width="0.9"/>
<line x1="505.50" y1="46.60" x2="505.50" y2="105.00" stroke="#333" stroke-width="0.8"/>
<rect x="501.00" y="69.00" width="9.00" height="35.30" fill="#b2e2b4" opacity="0.95"/>
<circle cx="505.23" cy="56.47" r="1.0" fill="#1fb23e"/>
<circle cx="503.54" cy="48.98" r="1.0" fill="#1fb23e"/>
<circle cx="505.67" cy="104.85" r="1.0" fill="#1fb23e"/>
<circle cx="505.63" cy="104.84" r="1.0" fill="#1fb23e"/>
<circle cx="504.30" cy="101.78" r="1.0" fill="#1fb23e"/>
<circle cx="504.19" cy="86.11" r="1.0" fill="#1fb23e"/>
<circle cx="503.88" cy="84.41" r="1.0" fill="#1fb23e"/>
<circle cx="507.89" cy="72.41" r="1.0" fill="#1fb23e"/>
<circle cx="504.13" cy="98.52" r="1.0" fill="#1fb23e"/>
<circle cx="505.35" cy="104.99" r="1.0" fill="#1fb23e"/>
<circle cx="505.19" cy="73.91" r="1.0" fill="#1fb23e"/>
<circle cx="506.15" cy="104.80" r="1.0" fill="#1fb23e"/>
<circle cx="508.26" cy="91.91" r="1.0" fill="#1fb23e"/>
<circle cx="501.56" cy="85.22" r="1.0" fill="#1fb23e"/>
<circle cx="503.89" cy="56.52" r="1.0" fill="#1fb23e"/>
<circle cx="505.20" cy="89.23" r="1.0" fill="#1fb23e"/>
<circle cx="503.26" cy="79.45" r="1.0" fill="#1fb23e"/>
<circle cx="506.80" cy="85.69" r="1.0" fill="#1fb23e"/>
<circle cx="506.87" cy="101.75" r="1.0" fill="#1fb23e"/>
<circle cx="505.57" cy="104.80" r="1.0" fill="#1fb23e"/>
<circle cx="504.84" cy="94.95" r="1.0" fill="#1fb23e"/>
<circle cx="505.49" cy="70.56" r="1.0" fill="#1fb23e"/>
<circle cx="508.56" cy="83.47" r="1.0" fill="#1fb23e"/>
<circle cx="504.93" cy="61.54" r="1.0" fill="#1fb23e"/>
<circle cx="504.02" cy="64.80" r="1.0" fill="#1fb23e"/>
<circle cx="507.06" cy="77.02" r="1.0" fill="#1fb23e"/>
<circle cx="504.92" cy="83.26" r="1.0" fill="#1fb23e"/>
<circle cx="507.42" cy="80.15" r="1.0" fill="#1fb23e"/>
<circle cx="505.87" cy="64.40" r="1.0" fill="#1fb23e"/>
<circle cx="503.97" cy="47.18" r="1.0" fill="#1fb23e"/>
<circle cx="505.69" cy="104.77" r="1.0" fill="#1fb23e"/>
<circle cx="504.82" cy="79.54" r="1.0" fill="#1fb23e"/>
<circle cx="507.63" cy="104.83" r="1.0" fill="#1fb23e"/>
<circle cx="508.78" cy="73.72" r="1.0" fill="#1fb23e"/>
<circle cx="505.94" cy="56.41" r="1.0" fill="#1fb23e"/>
<circle cx="505.37" cy="104.80" r="1.0" fill="#1fb23e"/>
<circle cx="505.40" cy="74.35" r="1.0" fill="#1fb23e"/>
<circle cx="505.14" cy="71.92" r="1.0" fill="#1fb23e"/>
<circle cx="506.56" cy="104.06" r="1.0" fill="#1fb23e"/>
<circle cx="503.95" cy="60.75" r="1.0" fill="#1fb23e"/>
<circle cx="508.99" cy="104.88" r="1.0" fill="#1fb23e"/>
<circle cx="504.69" cy="102.51" r="1.0" fill="#1fb23e"/>
<circle cx="505.23" cy="73.01" r="1.0" fill="#1fb23e"/>
<circle cx="505.13" cy="104.98" r="1.0" fill="#1fb23e"/>
<circle cx="505.01" cy="104.48" r="1.0" fill="#1fb23e"/>
<circle cx="505.41" cy="98.05" r="1.0" fill="#1fb23e"/>
<circle cx="504.65" cy="74.57" r="1.0" fill="#1fb23e"/>
<circle cx="506.59" cy="80.43" r="1.0" fill="#1fb23e"/>
<circle cx="503.46" cy="91.67" r="1.0" fill="#1fb23e"/>
<circle cx="505.61" cy="100.89" r="1.0" fill="#1fb23e"/>
<circle cx="503.34" cy="104.69" r="1.0" fill="#1fb23e"/>
<circle cx="507.44" cy="83.73" r="1.0" fill="#1fb23e"/>
<circle cx="504.88" cy="47.87" r="1.0" fill="#1fb23e"/>
<circle cx="505.52" cy="104.85" r="1.0" fill="#1fb23e"/>
<circle cx="504.55" cy="76.46" r="1.0" fill="#1fb23e"/>
<circle cx="503.90" cy="83.39" r="1.0" fill="#1fb23e"/>
<circle cx="506.02" cy="83.46" r="1.0" fill="#1fb23e"/>
<circle cx="505.67" cy="69.94" r="1.0" fill="#1fb23e"/>
<circle cx="504.28" cy="76.01" r="1.0" fill="#1fb23e"/>
<circle cx="507.07" cy="104.79" r="1.0" fill="#1fb23e"/>
<circle cx="505.65" cy="104.69" r="1.0" fill="#1fb23e"/>
<circle cx="503.41" cy="81.94" r="1.0" fill="#1fb23e"/>
<circle cx="504.46" cy="93.21" r="1.0" fill="#1fb23e"/>
<circle cx="506.70" cy="103.22" r="1.0" fill="#1fb23e"/>
<circle cx="504.60" cy="73.93" r="1.0" fill="#1fb23e"/>
<circle cx="506.44" cy="93.58" r="1.0" fill="#1fb23e"/>
<circle cx="506.22" cy="69.41" r="1.0" fill="#1fb23e"/>
<circle cx="505.26" cy="104.99" r="1.0" fill="#1fb23e"/>
<circle cx="506.49" cy="63.77" r="1.0" fill="#1fb23e"/>
<circle cx="505.53" cy="104.79" r="1.0" fill="#1fb23e"/>
<circle cx="507.84" cy="78.43" r="1.0" fill="#1fb23e"/>
<circle cx="506.71" cy="54.43" r="1.0" fill="#1fb23e"/>
<circle cx="505.37" cy="57.80" r="1.0" fill="#1fb23e"/>
<circle cx="507.34" cy="94.36" r="1.0" fill="#1fb23e"/>
<circle cx="503.67" cy="104.42" r="1.0" fill="#1fb23e"/>
<circle cx="506.28" cy="63.91" r="1.0" fill="#1fb23e"/>
<circle cx="503.86" cy="95.55" r="1.0" fill="#1fb23e"/>
<circle cx="507.49" cy="59.45" r="1.0" fill="#1fb23e"/>
<circle cx="504.13" cy="104.42" r="1.0" fill="#1fb23e"/>
<circle cx="505.51" cy="96.50" r="1.0" fill="#1fb23e"/>
<line x1="501.00" y1="88.30" x2="510.00" y2="88.30" stroke="#333" stroke-width="0.9"/>
<text x="488.60" y="31.90" font-size="7.3" fill="#231f20" stroke="#231f20" stroke-width="0.22" textLength="10.10" lengthAdjust="spacingAndGlyphs">NS</text>
<line x1="482.00" y1="33.30" x2="505.80" y2="33.30" stroke="#222" stroke-width="1.0"/>
<text x="490.60" y="40.70" font-size="7.3" fill="#231f20" stroke="#231f20" stroke-width="0.22" textLength="21.10" lengthAdjust="spacingAndGlyphs">3.6E-4</text>
<line x1="493.50" y1="41.50" x2="505.00" y2="41.50" stroke="#222" stroke-width="1.0"/>
<text x="474.90" y="47.80" font-size="7.3" fill="#231f20" stroke="#231f20" stroke-width="0.22" textLength="18.50" lengthAdjust="spacingAndGlyphs">0.024</text>
<line x1="481.00" y1="48.80" x2="493.10" y2="48.80" stroke="#222" stroke-width="1.0"/>
<text transform="translate(188.60,195.80) rotate(-90)" font-size="8.4" fill="#231f20" stroke="#231f20" stroke-width="0.1" text-anchor="middle" textLength="79.50" lengthAdjust="spacingAndGlyphs">Mean nuclear area [a.u.]</text>
<line x1="213.10" y1="157.60" x2="213.10" y2="233.60" stroke="#111" stroke-width="1.0"/>
<line x1="209.90" y1="184.30" x2="213.10" y2="184.30" stroke="#222" stroke-width="0.9"/>
<text x="207.10" y="187.30" font-size="8.6" fill="#231f20" stroke="#231f20" stroke-width="0.22" text-anchor="end" textLength="12.34" lengthAdjust="spacingAndGlyphs">200</text>
<line x1="209.90" y1="201.95" x2="213.10" y2="201.95" stroke="#222" stroke-width="0.9"/>
<text x="207.10" y="204.95" font-size="8.6" fill="#231f20" stroke="#231f20" stroke-width="0.22" text-anchor="end" textLength="12.34" lengthAdjust="spacingAndGlyphs">150</text>
<line x1="209.90" y1="219.60" x2="213.10" y2="219.60" stroke="#222" stroke-width="0.9"/>
<text x="207.10" y="222.60" font-size="8.6" fill="#231f20" stroke="#231f20" stroke-width="0.22" text-anchor="end" textLength="12.34" lengthAdjust="spacingAndGlyphs">100</text>
<line x1="212.60" y1="233.60" x2="263.60" y2="233.60" stroke="#111" stroke-width="1.0"/>
<line x1="220.30" y1="233.60" x2="220.30" y2="237.20" stroke="#333" stroke-width="0.7"/>
<line x1="232.30" y1="233.60" x2="232.30" y2="237.20" stroke="#333" stroke-width="0.7"/>
<line x1="244.20" y1="233.60" x2="244.20" y2="237.20" stroke="#333" stroke-width="0.7"/>
<line x1="256.20" y1="233.60" x2="256.20" y2="237.20" stroke="#333" stroke-width="0.7"/>
<rect x="215.00" y="237.20" width="10.60" height="7.00" fill="#fff" stroke="#8a8a8a" stroke-width="0.9" rx="0.9"/>
<rect x="227.00" y="237.20" width="10.50" height="7.00" fill="url(#cg)" stroke="#8a8a8a" stroke-width="0.9" rx="0.9"/>
<rect x="239.30" y="237.20" width="11.30" height="7.00" fill="url(#cg)" stroke="#8a8a8a" stroke-width="0.9" rx="0.9"/>
<rect x="250.60" y="237.20" width="10.80" height="7.00" fill="url(#stripes)"/>
<rect x="250.60" y="237.20" width="1.70" height="7.00" fill="#b8b8b8"/>
<rect x="250.60" y="237.20" width="10.80" height="7.00" fill="none" stroke="#8a8a8a" stroke-width="0.9" rx="0.9"/>
<rect x="227.00" y="244.20" width="10.50" height="9.30" fill="#fff" stroke="#8a8a8a" stroke-width="0.9" rx="0.9"/>
<rect x="239.30" y="244.20" width="22.10" height="9.30" fill="#fff" stroke="#8a8a8a" stroke-width="0.9" rx="0.9"/>
<text x="232.25" y="251.50" font-size="7.9" fill="#231f20" stroke="#231f20" stroke-width="0.1" text-anchor="middle">M</text>
<text x="250.35" y="251.50" font-size="7.9" fill="#231f20" stroke="#231f20" stroke-width="0.1" text-anchor="middle">GM</text>
<line x1="220.30" y1="196.70" x2="220.30" y2="227.00" stroke="#333" stroke-width="0.8"/>
<rect x="215.90" y="208.40" width="8.80" height="9.80" fill="#fff" stroke="#4a4a4a" stroke-width="0.7"/>
<circle cx="221.96" cy="210.02" r="1.0" fill="#c2c2c2"/>
<circle cx="222.20" cy="200.54" r="1.0" fill="#c2c2c2"/>
<circle cx="219.89" cy="211.90" r="1.0" fill="#c2c2c2"/>
<circle cx="220.32" cy="217.79" r="1.0" fill="#c2c2c2"/>
<circle cx="219.11" cy="215.27" r="1.0" fill="#c2c2c2"/>
<circle cx="219.19" cy="204.84" r="1.0" fill="#c2c2c2"/>
<circle cx="219.97" cy="205.90" r="1.0" fill="#c2c2c2"/>
<circle cx="221.30" cy="216.12" r="1.0" fill="#c2c2c2"/>
<circle cx="217.30" cy="208.45" r="1.0" fill="#c2c2c2"/>
<circle cx="220.99" cy="214.01" r="1.0" fill="#c2c2c2"/>
<circle cx="220.41" cy="213.71" r="1.0" fill="#c2c2c2"/>
<circle cx="219.01" cy="212.79" r="1.0" fill="#c2c2c2"/>
<circle cx="219.96" cy="218.43" r="1.0" fill="#c2c2c2"/>
<circle cx="221.26" cy="216.11" r="1.0" fill="#c2c2c2"/>
<circle cx="220.59" cy="203.58" r="1.0" fill="#c2c2c2"/>
<circle cx="222.07" cy="200.59" r="1.0" fill="#c2c2c2"/>
<circle cx="216.53" cy="217.90" r="1.0" fill="#c2c2c2"/>
<circle cx="220.17" cy="200.69" r="1.0" fill="#c2c2c2"/>
<circle cx="220.45" cy="217.55" r="1.0" fill="#c2c2c2"/>
<circle cx="218.41" cy="211.36" r="1.0" fill="#c2c2c2"/>
<circle cx="218.69" cy="209.30" r="1.0" fill="#c2c2c2"/>
<circle cx="220.59" cy="213.55" r="1.0" fill="#c2c2c2"/>
<circle cx="219.50" cy="229.00" r="1.0" fill="#c2c2c2"/>
<line x1="215.90" y1="211.40" x2="224.70" y2="211.40" stroke="#333" stroke-width="0.9"/>
<line x1="232.10" y1="209.40" x2="232.10" y2="227.00" stroke="#333" stroke-width="0.8"/>
<rect x="227.70" y="214.30" width="8.80" height="5.90" fill="#e58ca2" opacity="0.95"/>
<circle cx="232.64" cy="226.14" r="1.0" fill="#d3062c"/>
<circle cx="230.99" cy="217.12" r="1.0" fill="#d3062c"/>
<circle cx="234.63" cy="221.64" r="1.0" fill="#d3062c"/>
<circle cx="233.38" cy="217.31" r="1.0" fill="#d3062c"/>
<circle cx="233.33" cy="224.10" r="1.0" fill="#d3062c"/>
<circle cx="232.17" cy="224.82" r="1.0" fill="#d3062c"/>
<circle cx="231.24" cy="217.03" r="1.0" fill="#d3062c"/>
<circle cx="232.20" cy="216.14" r="1.0" fill="#d3062c"/>
<circle cx="230.67" cy="219.92" r="1.0" fill="#d3062c"/>
<circle cx="234.81" cy="217.06" r="1.0" fill="#d3062c"/>
<circle cx="231.54" cy="214.65" r="1.0" fill="#d3062c"/>
<circle cx="234.27" cy="210.81" r="1.0" fill="#d3062c"/>
<circle cx="233.57" cy="212.85" r="1.0" fill="#d3062c"/>
<circle cx="230.43" cy="218.92" r="1.0" fill="#d3062c"/>
<circle cx="231.68" cy="226.17" r="1.0" fill="#d3062c"/>
<circle cx="231.47" cy="223.56" r="1.0" fill="#d3062c"/>
<circle cx="232.17" cy="213.94" r="1.0" fill="#d3062c"/>
<circle cx="232.41" cy="226.26" r="1.0" fill="#d3062c"/>
<circle cx="233.36" cy="217.00" r="1.0" fill="#d3062c"/>
<circle cx="230.54" cy="214.29" r="1.0" fill="#d3062c"/>
<circle cx="234.16" cy="216.49" r="1.0" fill="#d3062c"/>
<circle cx="235.19" cy="210.68" r="1.0" fill="#d3062c"/>
<circle cx="233.60" cy="192.20" r="1.0" fill="#d3062c"/>
<line x1="227.70" y1="216.90" x2="236.50" y2="216.90" stroke="#333" stroke-width="0.9"/>
<line x1="244.00" y1="183.90" x2="244.00" y2="221.20" stroke="#333" stroke-width="0.8"/>
<rect x="239.10" y="202.50" width="9.80" height="9.90" fill="#b2e2b4" opacity="0.95"/>
<circle cx="240.05" cy="220.44" r="1.0" fill="#1fb23e"/>
<circle cx="244.45" cy="209.34" r="1.0" fill="#1fb23e"/>
<circle cx="243.11" cy="214.43" r="1.0" fill="#1fb23e"/>
<circle cx="241.09" cy="214.75" r="1.0" fill="#1fb23e"/>
<circle cx="240.78" cy="203.63" r="1.0" fill="#1fb23e"/>
<circle cx="243.88" cy="211.22" r="1.0" fill="#1fb23e"/>
<circle cx="242.45" cy="207.15" r="1.0" fill="#1fb23e"/>
<circle cx="241.49" cy="215.54" r="1.0" fill="#1fb23e"/>
<circle cx="244.82" cy="210.02" r="1.0" fill="#1fb23e"/>
<circle cx="241.26" cy="211.05" r="1.0" fill="#1fb23e"/>
<circle cx="242.68" cy="217.61" r="1.0" fill="#1fb23e"/>
<circle cx="246.24" cy="209.82" r="1.0" fill="#1fb23e"/>
<circle cx="242.70" cy="210.04" r="1.0" fill="#1fb23e"/>
<circle cx="243.20" cy="207.48" r="1.0" fill="#1fb23e"/>
<circle cx="243.31" cy="205.07" r="1.0" fill="#1fb23e"/>
<circle cx="243.19" cy="217.05" r="1.0" fill="#1fb23e"/>
<circle cx="243.73" cy="204.25" r="1.0" fill="#1fb23e"/>
<circle cx="245.60" cy="205.56" r="1.0" fill="#1fb23e"/>
<circle cx="247.36" cy="220.65" r="1.0" fill="#1fb23e"/>
<circle cx="241.94" cy="201.86" r="1.0" fill="#1fb23e"/>
<circle cx="245.15" cy="191.52" r="1.0" fill="#1fb23e"/>
<circle cx="246.05" cy="220.66" r="1.0" fill="#1fb23e"/>
<circle cx="241.06" cy="216.29" r="1.0" fill="#1fb23e"/>
<circle cx="239.59" cy="199.81" r="1.0" fill="#1fb23e"/>
<circle cx="245.06" cy="217.29" r="1.0" fill="#1fb23e"/>
<circle cx="242.93" cy="216.22" r="1.0" fill="#1fb23e"/>
<circle cx="244.61" cy="210.69" r="1.0" fill="#1fb23e"/>
<circle cx="241.78" cy="205.10" r="1.0" fill="#1fb23e"/>
<circle cx="242.55" cy="218.25" r="1.0" fill="#1fb23e"/>
<circle cx="241.37" cy="210.37" r="1.0" fill="#1fb23e"/>
<circle cx="247.09" cy="213.63" r="1.0" fill="#1fb23e"/>
<circle cx="244.95" cy="207.79" r="1.0" fill="#1fb23e"/>
<circle cx="243.43" cy="214.10" r="1.0" fill="#1fb23e"/>
<circle cx="244.02" cy="219.97" r="1.0" fill="#1fb23e"/>
<circle cx="245.71" cy="210.35" r="1.0" fill="#1fb23e"/>
<circle cx="246.38" cy="218.82" r="1.0" fill="#1fb23e"/>
<circle cx="242.40" cy="205.45" r="1.0" fill="#1fb23e"/>
<circle cx="241.40" cy="209.30" r="1.0" fill="#1fb23e"/>
<circle cx="243.77" cy="208.27" r="1.0" fill="#1fb23e"/>
<circle cx="245.06" cy="217.27" r="1.0" fill="#1fb23e"/>
<circle cx="242.98" cy="205.42" r="1.0" fill="#1fb23e"/>
<circle cx="245.67" cy="206.96" r="1.0" fill="#1fb23e"/>
<circle cx="243.67" cy="206.33" r="1.0" fill="#1fb23e"/>
<circle cx="244.37" cy="215.07" r="1.0" fill="#1fb23e"/>
<circle cx="242.90" cy="201.48" r="1.0" fill="#1fb23e"/>
<circle cx="245.02" cy="201.44" r="1.0" fill="#1fb23e"/>
<circle cx="245.09" cy="195.92" r="1.0" fill="#1fb23e"/>
<circle cx="244.88" cy="208.97" r="1.0" fill="#1fb23e"/>
<circle cx="244.64" cy="209.81" r="1.0" fill="#1fb23e"/>
<circle cx="242.96" cy="185.78" r="1.0" fill="#1fb23e"/>
<circle cx="244.50" cy="208.22" r="1.0" fill="#1fb23e"/>
<circle cx="243.07" cy="218.21" r="1.0" fill="#1fb23e"/>
<circle cx="243.10" cy="212.98" r="1.0" fill="#1fb23e"/>
<circle cx="243.90" cy="218.37" r="1.0" fill="#1fb23e"/>
<circle cx="245.28" cy="212.30" r="1.0" fill="#1fb23e"/>
<circle cx="243.03" cy="210.16" r="1.0" fill="#1fb23e"/>
<circle cx="243.45" cy="211.03" r="1.0" fill="#1fb23e"/>
<circle cx="247.12" cy="208.33" r="1.0" fill="#1fb23e"/>
<circle cx="245.43" cy="208.64" r="1.0" fill="#1fb23e"/>
<circle cx="244.56" cy="208.35" r="1.0" fill="#1fb23e"/>
<circle cx="243.50" cy="183.50" r="1.0" fill="#1fb23e"/>
<line x1="239.10" y1="210.00" x2="248.90" y2="210.00" stroke="#333" stroke-width="0.9"/>
<line x1="255.40" y1="193.70" x2="255.40" y2="224.10" stroke="#333" stroke-width="0.8"/>
<rect x="250.80" y="204.50" width="9.20" height="10.80" fill="#b2e2b4" opacity="0.95"/>
<circle cx="256.24" cy="219.64" r="1.0" fill="#1fb23e"/>
<circle cx="255.14" cy="197.99" r="1.0" fill="#1fb23e"/>
<circle cx="254.16" cy="208.11" r="1.0" fill="#1fb23e"/>
<circle cx="256.65" cy="213.05" r="1.0" fill="#1fb23e"/>
<circle cx="255.64" cy="218.82" r="1.0" fill="#1fb23e"/>
<circle cx="253.37" cy="213.44" r="1.0" fill="#1fb23e"/>
<circle cx="252.08" cy="220.93" r="1.0" fill="#1fb23e"/>
<circle cx="255.27" cy="220.42" r="1.0" fill="#1fb23e"/>
<circle cx="255.90" cy="210.08" r="1.0" fill="#1fb23e"/>
<circle cx="257.03" cy="196.08" r="1.0" fill="#1fb23e"/>
<circle cx="254.62" cy="209.84" r="1.0" fill="#1fb23e"/>
<circle cx="253.72" cy="224.09" r="1.0" fill="#1fb23e"/>
<circle cx="253.51" cy="218.25" r="1.0" fill="#1fb23e"/>
<circle cx="256.03" cy="214.65" r="1.0" fill="#1fb23e"/>
<circle cx="254.05" cy="223.79" r="1.0" fill="#1fb23e"/>
<circle cx="256.58" cy="194.81" r="1.0" fill="#1fb23e"/>
<circle cx="255.89" cy="211.59" r="1.0" fill="#1fb23e"/>
<circle cx="255.16" cy="210.00" r="1.0" fill="#1fb23e"/>
<circle cx="256.02" cy="207.35" r="1.0" fill="#1fb23e"/>
<circle cx="256.55" cy="207.54" r="1.0" fill="#1fb23e"/>
<circle cx="254.31" cy="214.00" r="1.0" fill="#1fb23e"/>
<circle cx="253.99" cy="211.83" r="1.0" fill="#1fb23e"/>
<circle cx="256.03" cy="213.55" r="1.0" fill="#1fb23e"/>
<circle cx="254.49" cy="197.62" r="1.0" fill="#1fb23e"/>
<circle cx="256.45" cy="217.37" r="1.0" fill="#1fb23e"/>
<circle cx="255.66" cy="220.76" r="1.0" fill="#1fb23e"/>
<circle cx="254.95" cy="198.99" r="1.0" fill="#1fb23e"/>
<circle cx="253.86" cy="200.73" r="1.0" fill="#1fb23e"/>
<circle cx="253.57" cy="223.58" r="1.0" fill="#1fb23e"/>
<circle cx="253.23" cy="206.70" r="1.0" fill="#1fb23e"/>
<circle cx="254.30" cy="215.87" r="1.0" fill="#1fb23e"/>
<circle cx="255.69" cy="196.97" r="1.0" fill="#1fb23e"/>
<circle cx="257.13" cy="216.20" r="1.0" fill="#1fb23e"/>
<circle cx="252.03" cy="213.20" r="1.0" fill="#1fb23e"/>
<circle cx="254.62" cy="196.13" r="1.0" fill="#1fb23e"/>
<circle cx="255.30" cy="205.30" r="1.0" fill="#1fb23e"/>
<circle cx="252.37" cy="214.06" r="1.0" fill="#1fb23e"/>
<circle cx="255.22" cy="207.82" r="1.0" fill="#1fb23e"/>
<circle cx="255.80" cy="208.40" r="1.0" fill="#1fb23e"/>
<circle cx="255.34" cy="206.87" r="1.0" fill="#1fb23e"/>
<circle cx="256.91" cy="197.90" r="1.0" fill="#1fb23e"/>
<circle cx="256.84" cy="220.11" r="1.0" fill="#1fb23e"/>
<circle cx="255.41" cy="209.89" r="1.0" fill="#1fb23e"/>
<circle cx="255.85" cy="208.63" r="1.0" fill="#1fb23e"/>
<circle cx="255.94" cy="218.90" r="1.0" fill="#1fb23e"/>
<circle cx="254.86" cy="206.41" r="1.0" fill="#1fb23e"/>
<circle cx="253.74" cy="216.76" r="1.0" fill="#1fb23e"/>
<circle cx="254.71" cy="199.38" r="1.0" fill="#1fb23e"/>
<circle cx="254.50" cy="214.74" r="1.0" fill="#1fb23e"/>
<circle cx="255.49" cy="199.25" r="1.0" fill="#1fb23e"/>
<circle cx="252.99" cy="204.94" r="1.0" fill="#1fb23e"/>
<circle cx="255.45" cy="211.45" r="1.0" fill="#1fb23e"/>
<circle cx="255.92" cy="212.35" r="1.0" fill="#1fb23e"/>
<circle cx="253.60" cy="218.89" r="1.0" fill="#1fb23e"/>
<circle cx="253.56" cy="204.60" r="1.0" fill="#1fb23e"/>
<circle cx="257.20" cy="219.08" r="1.0" fill="#1fb23e"/>
<circle cx="257.14" cy="211.05" r="1.0" fill="#1fb23e"/>
<circle cx="256.02" cy="216.41" r="1.0" fill="#1fb23e"/>
<circle cx="254.26" cy="209.86" r="1.0" fill="#1fb23e"/>
<circle cx="254.45" cy="214.60" r="1.0" fill="#1fb23e"/>
<circle cx="256.03" cy="223.93" r="1.0" fill="#1fb23e"/>
<circle cx="256.58" cy="214.30" r="1.0" fill="#1fb23e"/>
<circle cx="257.71" cy="199.71" r="1.0" fill="#1fb23e"/>
<circle cx="256.81" cy="217.31" r="1.0" fill="#1fb23e"/>
<circle cx="256.01" cy="204.63" r="1.0" fill="#1fb23e"/>
<circle cx="254.47" cy="213.90" r="1.0" fill="#1fb23e"/>
<circle cx="255.58" cy="198.49" r="1.0" fill="#1fb23e"/>
<circle cx="259.19" cy="212.47" r="1.0" fill="#1fb23e"/>
<circle cx="256.95" cy="197.89" r="1.0" fill="#1fb23e"/>
<circle cx="255.14" cy="206.95" r="1.0" fill="#1fb23e"/>
<circle cx="257.50" cy="183.50" r="1.0" fill="#1fb23e"/>
<circle cx="256.00" cy="188.00" r="1.0" fill="#1fb23e"/>
<line x1="250.80" y1="210.40" x2="260.00" y2="210.40" stroke="#333" stroke-width="0.9"/>
<text x="233.80" y="166.60" font-size="7.3" fill="#231f20" stroke="#231f20" stroke-width="0.22" textLength="19.10" lengthAdjust="spacingAndGlyphs">0.027</text>
<line x1="231.50" y1="168.50" x2="255.60" y2="168.50" stroke="#222" stroke-width="1.0"/>
<text x="220.00" y="179.80" font-size="7.3" fill="#231f20" stroke="#231f20" stroke-width="0.22" textLength="21.70" lengthAdjust="spacingAndGlyphs">2.5E-4</text>
<line x1="230.80" y1="181.10" x2="243.00" y2="181.10" stroke="#222" stroke-width="1.0"/>
<text x="243.10" y="176.40" font-size="7.3" fill="#231f20" stroke="#231f20" stroke-width="0.22" textLength="19.00" lengthAdjust="spacingAndGlyphs">0.013</text>
<line x1="244.00" y1="177.40" x2="255.90" y2="177.40" stroke="#222" stroke-width="1.0"/>
<text transform="translate(273.80,195.60) rotate(-90)" font-size="8.4" fill="#231f20" stroke="#231f20" stroke-width="0.1" text-anchor="middle" textLength="99.70" lengthAdjust="spacingAndGlyphs">Mean nuclear perimeter [a.u.]</text>
<line x1="295.80" y1="157.80" x2="295.80" y2="233.40" stroke="#111" stroke-width="1.0"/>
<line x1="292.60" y1="175.60" x2="295.80" y2="175.60" stroke="#222" stroke-width="0.9"/>
<text x="289.80" y="178.60" font-size="8.6" fill="#231f20" stroke="#231f20" stroke-width="0.22" text-anchor="end" textLength="8.23" lengthAdjust="spacingAndGlyphs">60</text>
<line x1="292.60" y1="194.85" x2="295.80" y2="194.85" stroke="#222" stroke-width="0.9"/>
<text x="289.80" y="197.85" font-size="8.6" fill="#231f20" stroke="#231f20" stroke-width="0.22" text-anchor="end" textLength="8.23" lengthAdjust="spacingAndGlyphs">50</text>
<line x1="292.60" y1="214.10" x2="295.80" y2="214.10" stroke="#222" stroke-width="0.9"/>
<text x="289.80" y="217.10" font-size="8.6" fill="#231f20" stroke="#231f20" stroke-width="0.22" text-anchor="end" textLength="8.23" lengthAdjust="spacingAndGlyphs">40</text>
<line x1="295.30" y1="233.40" x2="346.30" y2="233.40" stroke="#111" stroke-width="1.0"/>
<line x1="303.00" y1="233.40" x2="303.00" y2="237.20" stroke="#333" stroke-width="0.7"/>
<line x1="315.00" y1="233.40" x2="315.00" y2="237.20" stroke="#333" stroke-width="0.7"/>
<line x1="326.90" y1="233.40" x2="326.90" y2="237.20" stroke="#333" stroke-width="0.7"/>
<line x1="338.90" y1="233.40" x2="338.90" y2="237.20" stroke="#333" stroke-width="0.7"/>
<rect x="297.70" y="237.20" width="10.60" height="7.00" fill="#fff" stroke="#8a8a8a" stroke-width="0.9" rx="0.9"/>
<rect x="309.70" y="237.20" width="10.50" height="7.00" fill="url(#cg)" stroke="#8a8a8a" stroke-width="0.9" rx="0.9"/>
<rect x="322.00" y="237.20" width="11.30" height="7.00" fill="url(#cg)" stroke="#8a8a8a" stroke-width="0.9" rx="0.9"/>
<rect x="333.30" y="237.20" width="10.80" height="7.00" fill="url(#stripes)"/>
<rect x="333.30" y="237.20" width="1.70" height="7.00" fill="#b8b8b8"/>
<rect x="333.30" y="237.20" width="10.80" height="7.00" fill="none" stroke="#8a8a8a" stroke-width="0.9" rx="0.9"/>
<rect x="309.70" y="244.20" width="10.50" height="9.30" fill="#fff" stroke="#8a8a8a" stroke-width="0.9" rx="0.9"/>
<rect x="322.00" y="244.20" width="22.10" height="9.30" fill="#fff" stroke="#8a8a8a" stroke-width="0.9" rx="0.9"/>
<text x="314.95" y="251.50" font-size="7.9" fill="#231f20" stroke="#231f20" stroke-width="0.1" text-anchor="middle">M</text>
<text x="333.05" y="251.50" font-size="7.9" fill="#231f20" stroke="#231f20" stroke-width="0.1" text-anchor="middle">GM</text>
<line x1="302.80" y1="181.60" x2="302.80" y2="222.30" stroke="#333" stroke-width="0.8"/>
<rect x="298.30" y="195.80" width="9.00" height="12.70" fill="#fff" stroke="#4a4a4a" stroke-width="0.7"/>
<circle cx="304.98" cy="201.53" r="1.0" fill="#c2c2c2"/>
<circle cx="301.79" cy="199.64" r="1.0" fill="#c2c2c2"/>
<circle cx="302.37" cy="219.84" r="1.0" fill="#c2c2c2"/>
<circle cx="303.84" cy="206.11" r="1.0" fill="#c2c2c2"/>
<circle cx="301.62" cy="204.37" r="1.0" fill="#c2c2c2"/>
<circle cx="300.41" cy="181.95" r="1.0" fill="#c2c2c2"/>
<circle cx="304.00" cy="185.03" r="1.0" fill="#c2c2c2"/>
<circle cx="301.24" cy="191.35" r="1.0" fill="#c2c2c2"/>
<circle cx="305.21" cy="219.77" r="1.0" fill="#c2c2c2"/>
<circle cx="301.43" cy="205.27" r="1.0" fill="#c2c2c2"/>
<circle cx="300.98" cy="205.36" r="1.0" fill="#c2c2c2"/>
<circle cx="302.12" cy="198.12" r="1.0" fill="#c2c2c2"/>
<circle cx="305.00" cy="197.05" r="1.0" fill="#c2c2c2"/>
<circle cx="300.40" cy="201.58" r="1.0" fill="#c2c2c2"/>
<circle cx="306.22" cy="191.47" r="1.0" fill="#c2c2c2"/>
<circle cx="304.83" cy="197.25" r="1.0" fill="#c2c2c2"/>
<circle cx="301.58" cy="186.27" r="1.0" fill="#c2c2c2"/>
<circle cx="301.34" cy="202.38" r="1.0" fill="#c2c2c2"/>
<circle cx="302.99" cy="214.09" r="1.0" fill="#c2c2c2"/>
<circle cx="300.83" cy="209.96" r="1.0" fill="#c2c2c2"/>
<circle cx="304.63" cy="196.10" r="1.0" fill="#c2c2c2"/>
<circle cx="303.14" cy="198.12" r="1.0" fill="#c2c2c2"/>
<circle cx="301.50" cy="229.70" r="1.0" fill="#c2c2c2"/>
<circle cx="302.00" cy="226.00" r="1.0" fill="#c2c2c2"/>
<line x1="298.30" y1="198.30" x2="307.30" y2="198.30" stroke="#333" stroke-width="0.9"/>
<line x1="314.80" y1="187.50" x2="314.80" y2="216.40" stroke="#333" stroke-width="0.8"/>
<rect x="310.10" y="198.30" width="9.40" height="7.30" fill="#e58ca2" opacity="0.95"/>
<circle cx="316.34" cy="199.76" r="1.0" fill="#d3062c"/>
<circle cx="313.54" cy="202.45" r="1.0" fill="#d3062c"/>
<circle cx="318.79" cy="201.89" r="1.0" fill="#d3062c"/>
<circle cx="316.78" cy="195.32" r="1.0" fill="#d3062c"/>
<circle cx="315.83" cy="206.68" r="1.0" fill="#d3062c"/>
<circle cx="315.21" cy="199.72" r="1.0" fill="#d3062c"/>
<circle cx="312.73" cy="204.36" r="1.0" fill="#d3062c"/>
<circle cx="313.44" cy="205.05" r="1.0" fill="#d3062c"/>
<circle cx="313.05" cy="207.00" r="1.0" fill="#d3062c"/>
<circle cx="311.41" cy="211.56" r="1.0" fill="#d3062c"/>
<circle cx="314.71" cy="198.95" r="1.0" fill="#d3062c"/>
<circle cx="315.47" cy="203.98" r="1.0" fill="#d3062c"/>
<circle cx="314.47" cy="191.46" r="1.0" fill="#d3062c"/>
<circle cx="313.48" cy="208.10" r="1.0" fill="#d3062c"/>
<circle cx="317.89" cy="199.91" r="1.0" fill="#d3062c"/>
<circle cx="313.88" cy="205.08" r="1.0" fill="#d3062c"/>
<circle cx="313.72" cy="203.40" r="1.0" fill="#d3062c"/>
<circle cx="315.08" cy="189.92" r="1.0" fill="#d3062c"/>
<circle cx="311.86" cy="195.55" r="1.0" fill="#d3062c"/>
<circle cx="316.38" cy="207.57" r="1.0" fill="#d3062c"/>
<circle cx="314.43" cy="198.38" r="1.0" fill="#d3062c"/>
<circle cx="315.29" cy="199.18" r="1.0" fill="#d3062c"/>
<circle cx="313.00" cy="182.00" r="1.0" fill="#d3062c"/>
<circle cx="314.50" cy="219.90" r="1.0" fill="#d3062c"/>
<line x1="310.10" y1="202.30" x2="319.50" y2="202.30" stroke="#333" stroke-width="0.9"/>
<line x1="326.50" y1="175.70" x2="326.50" y2="210.50" stroke="#333" stroke-width="0.8"/>
<rect x="321.75" y="188.00" width="9.50" height="6.80" fill="#b2e2b4" opacity="0.95"/>
<circle cx="329.00" cy="189.75" r="1.0" fill="#1fb23e"/>
<circle cx="325.25" cy="191.65" r="1.0" fill="#1fb23e"/>
<circle cx="326.78" cy="188.42" r="1.0" fill="#1fb23e"/>
<circle cx="325.89" cy="189.61" r="1.0" fill="#1fb23e"/>
<circle cx="327.18" cy="189.47" r="1.0" fill="#1fb23e"/>
<circle cx="330.09" cy="192.42" r="1.0" fill="#1fb23e"/>
<circle cx="327.97" cy="194.33" r="1.0" fill="#1fb23e"/>
<circle cx="325.34" cy="206.19" r="1.0" fill="#1fb23e"/>
<circle cx="327.05" cy="203.01" r="1.0" fill="#1fb23e"/>
<circle cx="326.80" cy="209.88" r="1.0" fill="#1fb23e"/>
<circle cx="327.63" cy="194.04" r="1.0" fill="#1fb23e"/>
<circle cx="325.74" cy="207.02" r="1.0" fill="#1fb23e"/>
<circle cx="327.83" cy="178.55" r="1.0" fill="#1fb23e"/>
<circle cx="326.95" cy="191.55" r="1.0" fill="#1fb23e"/>
<circle cx="326.17" cy="190.72" r="1.0" fill="#1fb23e"/>
<circle cx="327.28" cy="192.53" r="1.0" fill="#1fb23e"/>
<circle cx="327.70" cy="194.08" r="1.0" fill="#1fb23e"/>
<circle cx="325.24" cy="192.45" r="1.0" fill="#1fb23e"/>
<circle cx="326.76" cy="207.62" r="1.0" fill="#1fb23e"/>
<circle cx="327.55" cy="194.41" r="1.0" fill="#1fb23e"/>
<circle cx="326.63" cy="190.67" r="1.0" fill="#1fb23e"/>
<circle cx="325.21" cy="175.91" r="1.0" fill="#1fb23e"/>
<circle cx="327.05" cy="188.18" r="1.0" fill="#1fb23e"/>
<circle cx="325.34" cy="206.66" r="1.0" fill="#1fb23e"/>
<circle cx="327.15" cy="190.04" r="1.0" fill="#1fb23e"/>
<circle cx="324.21" cy="188.90" r="1.0" fill="#1fb23e"/>
<circle cx="324.22" cy="190.37" r="1.0" fill="#1fb23e"/>
<circle cx="326.61" cy="205.66" r="1.0" fill="#1fb23e"/>
<circle cx="326.11" cy="182.20" r="1.0" fill="#1fb23e"/>
<circle cx="326.17" cy="191.70" r="1.0" fill="#1fb23e"/>
<circle cx="326.66" cy="193.89" r="1.0" fill="#1fb23e"/>
<circle cx="327.94" cy="192.45" r="1.0" fill="#1fb23e"/>
<circle cx="324.72" cy="196.37" r="1.0" fill="#1fb23e"/>
<circle cx="328.06" cy="185.16" r="1.0" fill="#1fb23e"/>
<circle cx="323.38" cy="192.90" r="1.0" fill="#1fb23e"/>
<circle cx="327.49" cy="193.70" r="1.0" fill="#1fb23e"/>
<circle cx="327.20" cy="204.34" r="1.0" fill="#1fb23e"/>
<circle cx="327.77" cy="194.00" r="1.0" fill="#1fb23e"/>
<circle cx="325.19" cy="190.82" r="1.0" fill="#1fb23e"/>
<circle cx="327.91" cy="176.07" r="1.0" fill="#1fb23e"/>
<circle cx="324.24" cy="188.56" r="1.0" fill="#1fb23e"/>
<circle cx="326.60" cy="206.19" r="1.0" fill="#1fb23e"/>
<circle cx="327.53" cy="194.75" r="1.0" fill="#1fb23e"/>
<circle cx="326.60" cy="183.64" r="1.0" fill="#1fb23e"/>
<circle cx="325.20" cy="192.63" r="1.0" fill="#1fb23e"/>
<circle cx="326.91" cy="190.92" r="1.0" fill="#1fb23e"/>
<circle cx="327.51" cy="192.86" r="1.0" fill="#1fb23e"/>
<circle cx="328.30" cy="207.57" r="1.0" fill="#1fb23e"/>
<circle cx="326.59" cy="197.71" r="1.0" fill="#1fb23e"/>
<circle cx="326.26" cy="189.87" r="1.0" fill="#1fb23e"/>
<circle cx="326.92" cy="187.78" r="1.0" fill="#1fb23e"/>
<circle cx="328.29" cy="192.92" r="1.0" fill="#1fb23e"/>
<circle cx="326.20" cy="194.16" r="1.0" fill="#1fb23e"/>
<circle cx="327.43" cy="206.24" r="1.0" fill="#1fb23e"/>
<circle cx="324.91" cy="208.60" r="1.0" fill="#1fb23e"/>
<circle cx="326.98" cy="202.56" r="1.0" fill="#1fb23e"/>
<circle cx="324.04" cy="192.17" r="1.0" fill="#1fb23e"/>
<circle cx="327.51" cy="207.25" r="1.0" fill="#1fb23e"/>
<circle cx="326.05" cy="191.76" r="1.0" fill="#1fb23e"/>
<circle cx="326.66" cy="188.05" r="1.0" fill="#1fb23e"/>
<circle cx="326.00" cy="171.80" r="1.0" fill="#1fb23e"/>
<circle cx="325.00" cy="216.00" r="1.0" fill="#1fb23e"/>
<line x1="321.75" y1="192.80" x2="331.25" y2="192.80" stroke="#333" stroke-width="0.9"/>
<line x1="338.60" y1="175.70" x2="338.60" y2="217.40" stroke="#333" stroke-width="0.8"/>
<rect x="334.20" y="193.80" width="8.80" height="8.80" fill="#b2e2b4" opacity="0.95"/>
<circle cx="339.88" cy="179.56" r="1.0" fill="#1fb23e"/>
<circle cx="341.21" cy="199.84" r="1.0" fill="#1fb23e"/>
<circle cx="339.50" cy="187.17" r="1.0" fill="#1fb23e"/>
<circle cx="339.07" cy="208.36" r="1.0" fill="#1fb23e"/>
<circle cx="340.83" cy="198.16" r="1.0" fill="#1fb23e"/>
<circle cx="339.10" cy="216.91" r="1.0" fill="#1fb23e"/>
<circle cx="341.26" cy="199.87" r="1.0" fill="#1fb23e"/>
<circle cx="337.51" cy="202.21" r="1.0" fill="#1fb23e"/>
<circle cx="337.77" cy="185.91" r="1.0" fill="#1fb23e"/>
<circle cx="338.17" cy="198.23" r="1.0" fill="#1fb23e"/>
<circle cx="336.41" cy="210.90" r="1.0" fill="#1fb23e"/>
<circle cx="341.78" cy="195.36" r="1.0" fill="#1fb23e"/>
<circle cx="337.16" cy="202.42" r="1.0" fill="#1fb23e"/>
<circle cx="338.90" cy="206.02" r="1.0" fill="#1fb23e"/>
<circle cx="335.74" cy="203.72" r="1.0" fill="#1fb23e"/>
<circle cx="336.69" cy="180.11" r="1.0" fill="#1fb23e"/>
<circle cx="338.27" cy="200.89" r="1.0" fill="#1fb23e"/>
<circle cx="341.93" cy="194.68" r="1.0" fill="#1fb23e"/>
<circle cx="338.50" cy="189.07" r="1.0" fill="#1fb23e"/>
<circle cx="338.42" cy="198.12" r="1.0" fill="#1fb23e"/>
<circle cx="337.38" cy="204.00" r="1.0" fill="#1fb23e"/>
<circle cx="339.17" cy="183.88" r="1.0" fill="#1fb23e"/>
<circle cx="338.20" cy="198.06" r="1.0" fill="#1fb23e"/>
<circle cx="338.49" cy="196.02" r="1.0" fill="#1fb23e"/>
<circle cx="338.38" cy="196.94" r="1.0" fill="#1fb23e"/>
<circle cx="339.97" cy="179.93" r="1.0" fill="#1fb23e"/>
<circle cx="337.95" cy="203.76" r="1.0" fill="#1fb23e"/>
<circle cx="340.85" cy="181.23" r="1.0" fill="#1fb23e"/>
<circle cx="336.73" cy="200.09" r="1.0" fill="#1fb23e"/>
<circle cx="340.44" cy="204.84" r="1.0" fill="#1fb23e"/>
<circle cx="335.77" cy="179.92" r="1.0" fill="#1fb23e"/>
<circle cx="337.36" cy="191.56" r="1.0" fill="#1fb23e"/>
<circle cx="337.28" cy="196.30" r="1.0" fill="#1fb23e"/>
<circle cx="338.24" cy="180.28" r="1.0" fill="#1fb23e"/>
<circle cx="339.40" cy="199.16" r="1.0" fill="#1fb23e"/>
<circle cx="339.28" cy="199.87" r="1.0" fill="#1fb23e"/>
<circle cx="339.70" cy="196.21" r="1.0" fill="#1fb23e"/>
<circle cx="337.22" cy="196.69" r="1.0" fill="#1fb23e"/>
<circle cx="338.09" cy="189.76" r="1.0" fill="#1fb23e"/>
<circle cx="339.21" cy="199.97" r="1.0" fill="#1fb23e"/>
<circle cx="339.02" cy="201.99" r="1.0" fill="#1fb23e"/>
<circle cx="340.86" cy="196.28" r="1.0" fill="#1fb23e"/>
<circle cx="338.89" cy="181.50" r="1.0" fill="#1fb23e"/>
<circle cx="340.16" cy="194.54" r="1.0" fill="#1fb23e"/>
<circle cx="338.11" cy="208.50" r="1.0" fill="#1fb23e"/>
<circle cx="339.18" cy="195.42" r="1.0" fill="#1fb23e"/>
<circle cx="336.88" cy="198.63" r="1.0" fill="#1fb23e"/>
<circle cx="336.35" cy="200.88" r="1.0" fill="#1fb23e"/>
<circle cx="338.92" cy="176.75" r="1.0" fill="#1fb23e"/>
<circle cx="339.52" cy="213.65" r="1.0" fill="#1fb23e"/>
<circle cx="339.67" cy="195.93" r="1.0" fill="#1fb23e"/>
<circle cx="340.34" cy="202.10" r="1.0" fill="#1fb23e"/>
<circle cx="338.36" cy="206.83" r="1.0" fill="#1fb23e"/>
<circle cx="340.30" cy="200.79" r="1.0" fill="#1fb23e"/>
<circle cx="337.37" cy="201.43" r="1.0" fill="#1fb23e"/>
<circle cx="337.83" cy="207.76" r="1.0" fill="#1fb23e"/>
<circle cx="341.84" cy="216.86" r="1.0" fill="#1fb23e"/>
<circle cx="336.00" cy="200.62" r="1.0" fill="#1fb23e"/>
<circle cx="335.48" cy="207.01" r="1.0" fill="#1fb23e"/>
<circle cx="339.55" cy="207.12" r="1.0" fill="#1fb23e"/>
<circle cx="337.11" cy="204.32" r="1.0" fill="#1fb23e"/>
<circle cx="339.78" cy="193.89" r="1.0" fill="#1fb23e"/>
<circle cx="338.14" cy="186.82" r="1.0" fill="#1fb23e"/>
<circle cx="337.85" cy="194.20" r="1.0" fill="#1fb23e"/>
<circle cx="339.09" cy="176.38" r="1.0" fill="#1fb23e"/>
<circle cx="340.24" cy="199.83" r="1.0" fill="#1fb23e"/>
<circle cx="337.75" cy="198.34" r="1.0" fill="#1fb23e"/>
<circle cx="339.05" cy="216.40" r="1.0" fill="#1fb23e"/>
<circle cx="340.82" cy="206.32" r="1.0" fill="#1fb23e"/>
<circle cx="338.94" cy="207.76" r="1.0" fill="#1fb23e"/>
<line x1="334.20" y1="198.70" x2="343.00" y2="198.70" stroke="#333" stroke-width="0.9"/>
<text x="321.50" y="165.10" font-size="7.3" fill="#231f20" stroke="#231f20" stroke-width="0.22" textLength="9.90" lengthAdjust="spacingAndGlyphs">NS</text>
<line x1="315.00" y1="166.90" x2="338.00" y2="166.90" stroke="#222" stroke-width="1.0"/>
<text x="304.10" y="173.30" font-size="7.3" fill="#231f20" stroke="#231f20" stroke-width="0.22" textLength="21.20" lengthAdjust="spacingAndGlyphs">4.4E-4</text>
<line x1="314.10" y1="174.60" x2="325.80" y2="174.60" stroke="#222" stroke-width="1.0"/>
<text x="322.20" y="227.70" font-size="7.3" fill="#231f20" stroke="#231f20" stroke-width="0.22" textLength="20.80" lengthAdjust="spacingAndGlyphs">1.5E-4</text>
<line x1="326.40" y1="221.00" x2="337.90" y2="221.00" stroke="#222" stroke-width="1.0"/>
<text transform="translate(357.00,196.50) rotate(-90)" font-size="8.4" fill="#231f20" stroke="#231f20" stroke-width="0.1" text-anchor="middle" textLength="70.50" lengthAdjust="spacingAndGlyphs">Mean div. time [a.u.]</text>
<line x1="380.80" y1="160.30" x2="380.80" y2="235.70" stroke="#111" stroke-width="1.0"/>
<line x1="377.60" y1="184.16" x2="380.80" y2="184.16" stroke="#222" stroke-width="0.9"/>
<text x="374.80" y="187.16" font-size="8.6" fill="#231f20" stroke="#231f20" stroke-width="0.22" text-anchor="end" textLength="12.34" lengthAdjust="spacingAndGlyphs">100</text>
<line x1="377.60" y1="196.62" x2="380.80" y2="196.62" stroke="#222" stroke-width="0.9"/>
<text x="374.80" y="199.62" font-size="8.6" fill="#231f20" stroke="#231f20" stroke-width="0.22" text-anchor="end" textLength="8.23" lengthAdjust="spacingAndGlyphs">80</text>
<line x1="377.60" y1="209.08" x2="380.80" y2="209.08" stroke="#222" stroke-width="0.9"/>
<text x="374.80" y="212.08" font-size="8.6" fill="#231f20" stroke="#231f20" stroke-width="0.22" text-anchor="end" textLength="8.23" lengthAdjust="spacingAndGlyphs">60</text>
<line x1="377.60" y1="221.54" x2="380.80" y2="221.54" stroke="#222" stroke-width="0.9"/>
<text x="374.80" y="224.54" font-size="8.6" fill="#231f20" stroke="#231f20" stroke-width="0.22" text-anchor="end" textLength="8.23" lengthAdjust="spacingAndGlyphs">40</text>
<line x1="377.60" y1="234.00" x2="380.80" y2="234.00" stroke="#222" stroke-width="0.9"/>
<text x="374.80" y="237.00" font-size="8.6" fill="#231f20" stroke="#231f20" stroke-width="0.22" text-anchor="end" textLength="8.23" lengthAdjust="spacingAndGlyphs">20</text>
<line x1="380.30" y1="235.70" x2="431.30" y2="235.70" stroke="#111" stroke-width="1.0"/>
<line x1="388.00" y1="235.70" x2="388.00" y2="240.20" stroke="#333" stroke-width="0.7"/>
<line x1="400.00" y1="235.70" x2="400.00" y2="240.20" stroke="#333" stroke-width="0.7"/>
<line x1="411.90" y1="235.70" x2="411.90" y2="240.20" stroke="#333" stroke-width="0.7"/>
<line x1="423.90" y1="235.70" x2="423.90" y2="240.20" stroke="#333" stroke-width="0.7"/>
<rect x="382.70" y="240.20" width="10.60" height="6.80" fill="#fff" stroke="#8a8a8a" stroke-width="0.9" rx="0.9"/>
<rect x="394.70" y="240.20" width="10.50" height="6.80" fill="url(#cg)" stroke="#8a8a8a" stroke-width="0.9" rx="0.9"/>
<rect x="407.00" y="240.20" width="11.30" height="6.80" fill="url(#cg)" stroke="#8a8a8a" stroke-width="0.9" rx="0.9"/>
<rect x="418.30" y="240.20" width="10.80" height="6.80" fill="url(#stripes)"/>
<rect x="418.30" y="240.20" width="1.70" height="6.80" fill="#b8b8b8"/>
<rect x="418.30" y="240.20" width="10.80" height="6.80" fill="none" stroke="#8a8a8a" stroke-width="0.9" rx="0.9"/>
<rect x="394.70" y="247.00" width="10.50" height="9.20" fill="#fff" stroke="#8a8a8a" stroke-width="0.9" rx="0.9"/>
<rect x="407.00" y="247.00" width="22.10" height="9.20" fill="#fff" stroke="#8a8a8a" stroke-width="0.9" rx="0.9"/>
<text x="399.95" y="254.20" font-size="7.9" fill="#231f20" stroke="#231f20" stroke-width="0.1" text-anchor="middle">M</text>
<text x="418.05" y="254.20" font-size="7.9" fill="#231f20" stroke="#231f20" stroke-width="0.1" text-anchor="middle">GM</text>
<line x1="387.90" y1="177.80" x2="387.90" y2="227.70" stroke="#333" stroke-width="0.8"/>
<rect x="383.50" y="198.90" width="8.80" height="23.40" fill="#fff" stroke="#4a4a4a" stroke-width="0.7"/>
<circle cx="386.06" cy="217.76" r="1.0" fill="#c2c2c2"/>
<circle cx="387.27" cy="188.80" r="1.0" fill="#c2c2c2"/>
<circle cx="387.88" cy="225.31" r="1.0" fill="#c2c2c2"/>
<circle cx="387.69" cy="220.06" r="1.0" fill="#c2c2c2"/>
<circle cx="384.60" cy="215.09" r="1.0" fill="#c2c2c2"/>
<circle cx="387.25" cy="205.50" r="1.0" fill="#c2c2c2"/>
<circle cx="388.84" cy="219.27" r="1.0" fill="#c2c2c2"/>
<circle cx="387.75" cy="204.67" r="1.0" fill="#c2c2c2"/>
<circle cx="387.81" cy="192.77" r="1.0" fill="#c2c2c2"/>
<circle cx="390.62" cy="210.53" r="1.0" fill="#c2c2c2"/>
<circle cx="388.30" cy="209.57" r="1.0" fill="#c2c2c2"/>
<circle cx="387.99" cy="223.86" r="1.0" fill="#c2c2c2"/>
<circle cx="387.66" cy="221.80" r="1.0" fill="#c2c2c2"/>
<circle cx="388.50" cy="224.46" r="1.0" fill="#c2c2c2"/>
<circle cx="388.61" cy="184.09" r="1.0" fill="#c2c2c2"/>
<circle cx="388.63" cy="225.21" r="1.0" fill="#c2c2c2"/>
<circle cx="385.93" cy="193.20" r="1.0" fill="#c2c2c2"/>
<circle cx="386.94" cy="203.21" r="1.0" fill="#c2c2c2"/>
<circle cx="388.31" cy="218.58" r="1.0" fill="#c2c2c2"/>
<circle cx="390.39" cy="226.27" r="1.0" fill="#c2c2c2"/>
<circle cx="388.27" cy="201.91" r="1.0" fill="#c2c2c2"/>
<circle cx="386.95" cy="212.56" r="1.0" fill="#c2c2c2"/>
<line x1="383.50" y1="218.30" x2="392.30" y2="218.30" stroke="#333" stroke-width="0.9"/>
<line x1="399.90" y1="206.60" x2="399.90" y2="230.00" stroke="#333" stroke-width="0.8"/>
<rect x="395.20" y="214.30" width="9.40" height="7.50" fill="#e58ca2" opacity="0.95"/>
<circle cx="399.43" cy="212.94" r="1.0" fill="#d3062c"/>
<circle cx="397.86" cy="221.25" r="1.0" fill="#d3062c"/>
<circle cx="401.45" cy="217.69" r="1.0" fill="#d3062c"/>
<circle cx="401.21" cy="210.57" r="1.0" fill="#d3062c"/>
<circle cx="399.60" cy="214.64" r="1.0" fill="#d3062c"/>
<circle cx="399.56" cy="226.87" r="1.0" fill="#d3062c"/>
<circle cx="399.99" cy="227.22" r="1.0" fill="#d3062c"/>
<circle cx="398.64" cy="226.61" r="1.0" fill="#d3062c"/>
<circle cx="401.11" cy="209.56" r="1.0" fill="#d3062c"/>
<circle cx="398.07" cy="211.32" r="1.0" fill="#d3062c"/>
<circle cx="401.18" cy="229.91" r="1.0" fill="#d3062c"/>
<circle cx="403.64" cy="217.56" r="1.0" fill="#d3062c"/>
<circle cx="399.17" cy="212.86" r="1.0" fill="#d3062c"/>
<circle cx="401.01" cy="210.30" r="1.0" fill="#d3062c"/>
<circle cx="403.49" cy="216.55" r="1.0" fill="#d3062c"/>
<circle cx="400.16" cy="221.16" r="1.0" fill="#d3062c"/>
<circle cx="400.55" cy="207.45" r="1.0" fill="#d3062c"/>
<circle cx="401.25" cy="215.08" r="1.0" fill="#d3062c"/>
<circle cx="400.98" cy="225.83" r="1.0" fill="#d3062c"/>
<circle cx="401.43" cy="213.04" r="1.0" fill="#d3062c"/>
<circle cx="401.91" cy="215.89" r="1.0" fill="#d3062c"/>
<circle cx="400.39" cy="214.26" r="1.0" fill="#d3062c"/>
<line x1="395.20" y1="218.30" x2="404.60" y2="218.30" stroke="#333" stroke-width="0.9"/>
<line x1="411.20" y1="214.80" x2="411.20" y2="229.30" stroke="#333" stroke-width="0.8"/>
<rect x="407.60" y="220.70" width="7.20" height="4.70" fill="#b2e2b4" opacity="0.95"/>
<circle cx="409.40" cy="220.95" r="1.0" fill="#1fb23e"/>
<circle cx="410.86" cy="221.99" r="1.0" fill="#1fb23e"/>
<circle cx="410.35" cy="224.67" r="1.0" fill="#1fb23e"/>
<circle cx="410.77" cy="221.90" r="1.0" fill="#1fb23e"/>
<circle cx="411.32" cy="224.61" r="1.0" fill="#1fb23e"/>
<circle cx="410.17" cy="225.07" r="1.0" fill="#1fb23e"/>
<circle cx="412.07" cy="224.00" r="1.0" fill="#1fb23e"/>
<circle cx="410.69" cy="226.64" r="1.0" fill="#1fb23e"/>
<circle cx="412.04" cy="225.96" r="1.0" fill="#1fb23e"/>
<circle cx="412.83" cy="222.85" r="1.0" fill="#1fb23e"/>
<circle cx="411.45" cy="226.02" r="1.0" fill="#1fb23e"/>
<circle cx="412.83" cy="222.83" r="1.0" fill="#1fb23e"/>
<circle cx="410.99" cy="223.69" r="1.0" fill="#1fb23e"/>
<circle cx="410.89" cy="229.06" r="1.0" fill="#1fb23e"/>
<circle cx="410.29" cy="224.40" r="1.0" fill="#1fb23e"/>
<circle cx="413.58" cy="228.16" r="1.0" fill="#1fb23e"/>
<circle cx="412.18" cy="222.32" r="1.0" fill="#1fb23e"/>
<circle cx="413.45" cy="228.16" r="1.0" fill="#1fb23e"/>
<circle cx="412.38" cy="226.70" r="1.0" fill="#1fb23e"/>
<circle cx="411.87" cy="227.72" r="1.0" fill="#1fb23e"/>
<circle cx="410.03" cy="227.93" r="1.0" fill="#1fb23e"/>
<circle cx="411.92" cy="222.54" r="1.0" fill="#1fb23e"/>
<circle cx="409.79" cy="228.99" r="1.0" fill="#1fb23e"/>
<circle cx="409.99" cy="223.73" r="1.0" fill="#1fb23e"/>
<circle cx="411.92" cy="225.70" r="1.0" fill="#1fb23e"/>
<circle cx="411.09" cy="220.81" r="1.0" fill="#1fb23e"/>
<circle cx="411.36" cy="224.17" r="1.0" fill="#1fb23e"/>
<circle cx="414.04" cy="225.94" r="1.0" fill="#1fb23e"/>
<circle cx="411.11" cy="226.23" r="1.0" fill="#1fb23e"/>
<circle cx="410.83" cy="226.76" r="1.0" fill="#1fb23e"/>
<circle cx="410.03" cy="215.21" r="1.0" fill="#1fb23e"/>
<circle cx="411.20" cy="222.69" r="1.0" fill="#1fb23e"/>
<circle cx="412.25" cy="225.54" r="1.0" fill="#1fb23e"/>
<circle cx="410.94" cy="228.57" r="1.0" fill="#1fb23e"/>
<circle cx="412.47" cy="218.44" r="1.0" fill="#1fb23e"/>
<circle cx="410.96" cy="227.28" r="1.0" fill="#1fb23e"/>
<circle cx="413.07" cy="225.38" r="1.0" fill="#1fb23e"/>
<circle cx="413.46" cy="215.84" r="1.0" fill="#1fb23e"/>
<circle cx="410.62" cy="225.55" r="1.0" fill="#1fb23e"/>
<circle cx="408.22" cy="228.98" r="1.0" fill="#1fb23e"/>
<circle cx="413.47" cy="219.10" r="1.0" fill="#1fb23e"/>
<circle cx="409.69" cy="221.52" r="1.0" fill="#1fb23e"/>
<circle cx="412.24" cy="221.19" r="1.0" fill="#1fb23e"/>
<circle cx="410.49" cy="225.83" r="1.0" fill="#1fb23e"/>
<circle cx="409.92" cy="223.54" r="1.0" fill="#1fb23e"/>
<circle cx="412.56" cy="220.84" r="1.0" fill="#1fb23e"/>
<circle cx="410.24" cy="227.50" r="1.0" fill="#1fb23e"/>
<circle cx="413.05" cy="222.13" r="1.0" fill="#1fb23e"/>
<circle cx="410.07" cy="224.73" r="1.0" fill="#1fb23e"/>
<circle cx="410.52" cy="220.30" r="1.0" fill="#1fb23e"/>
<circle cx="410.58" cy="221.58" r="1.0" fill="#1fb23e"/>
<circle cx="411.05" cy="223.80" r="1.0" fill="#1fb23e"/>
<circle cx="414.38" cy="221.53" r="1.0" fill="#1fb23e"/>
<circle cx="411.23" cy="227.88" r="1.0" fill="#1fb23e"/>
<circle cx="414.44" cy="217.62" r="1.0" fill="#1fb23e"/>
<circle cx="410.49" cy="227.93" r="1.0" fill="#1fb23e"/>
<circle cx="411.36" cy="220.27" r="1.0" fill="#1fb23e"/>
<circle cx="412.58" cy="216.71" r="1.0" fill="#1fb23e"/>
<circle cx="412.37" cy="218.24" r="1.0" fill="#1fb23e"/>
<circle cx="410.59" cy="223.28" r="1.0" fill="#1fb23e"/>
<circle cx="412.80" cy="185.50" r="1.0" fill="#1fb23e"/>
<circle cx="412.00" cy="190.00" r="1.0" fill="#1fb23e"/>
<circle cx="410.00" cy="195.00" r="1.0" fill="#1fb23e"/>
<circle cx="414.00" cy="211.30" r="1.0" fill="#1fb23e"/>
<circle cx="409.00" cy="204.00" r="1.0" fill="#1fb23e"/>
<line x1="407.60" y1="223.00" x2="414.80" y2="223.00" stroke="#333" stroke-width="0.9"/>
<line x1="423.60" y1="180.90" x2="423.60" y2="232.40" stroke="#333" stroke-width="0.8"/>
<rect x="419.25" y="212.00" width="8.70" height="9.80" fill="#b2e2b4" opacity="0.95"/>
<circle cx="426.50" cy="212.29" r="1.0" fill="#1fb23e"/>
<circle cx="424.12" cy="229.82" r="1.0" fill="#1fb23e"/>
<circle cx="424.65" cy="218.02" r="1.0" fill="#1fb23e"/>
<circle cx="425.05" cy="201.97" r="1.0" fill="#1fb23e"/>
<circle cx="419.69" cy="221.08" r="1.0" fill="#1fb23e"/>
<circle cx="420.83" cy="219.12" r="1.0" fill="#1fb23e"/>
<circle cx="423.71" cy="232.33" r="1.0" fill="#1fb23e"/>
<circle cx="424.87" cy="229.21" r="1.0" fill="#1fb23e"/>
<circle cx="422.84" cy="217.94" r="1.0" fill="#1fb23e"/>
<circle cx="426.06" cy="219.08" r="1.0" fill="#1fb23e"/>
<circle cx="423.54" cy="213.55" r="1.0" fill="#1fb23e"/>
<circle cx="426.17" cy="232.04" r="1.0" fill="#1fb23e"/>
<circle cx="422.60" cy="220.65" r="1.0" fill="#1fb23e"/>
<circle cx="422.58" cy="219.03" r="1.0" fill="#1fb23e"/>
<circle cx="423.03" cy="187.62" r="1.0" fill="#1fb23e"/>
<circle cx="423.47" cy="230.77" r="1.0" fill="#1fb23e"/>
<circle cx="424.32" cy="211.78" r="1.0" fill="#1fb23e"/>
<circle cx="425.09" cy="231.38" r="1.0" fill="#1fb23e"/>
<circle cx="421.78" cy="184.35" r="1.0" fill="#1fb23e"/>
<circle cx="423.66" cy="189.83" r="1.0" fill="#1fb23e"/>
<circle cx="423.68" cy="214.96" r="1.0" fill="#1fb23e"/>
<circle cx="427.28" cy="214.02" r="1.0" fill="#1fb23e"/>
<circle cx="425.00" cy="223.16" r="1.0" fill="#1fb23e"/>
<circle cx="423.90" cy="201.36" r="1.0" fill="#1fb23e"/>
<circle cx="426.17" cy="231.51" r="1.0" fill="#1fb23e"/>
<circle cx="423.83" cy="217.97" r="1.0" fill="#1fb23e"/>
<circle cx="420.40" cy="223.09" r="1.0" fill="#1fb23e"/>
<circle cx="422.73" cy="218.27" r="1.0" fill="#1fb23e"/>
<circle cx="425.32" cy="225.66" r="1.0" fill="#1fb23e"/>
<circle cx="424.99" cy="221.09" r="1.0" fill="#1fb23e"/>
<circle cx="424.71" cy="217.43" r="1.0" fill="#1fb23e"/>
<circle cx="424.99" cy="218.40" r="1.0" fill="#1fb23e"/>
<circle cx="421.21" cy="214.81" r="1.0" fill="#1fb23e"/>
<circle cx="422.96" cy="181.73" r="1.0" fill="#1fb23e"/>
<circle cx="420.90" cy="225.99" r="1.0" fill="#1fb23e"/>
<circle cx="420.46" cy="225.61" r="1.0" fill="#1fb23e"/>
<circle cx="422.83" cy="216.98" r="1.0" fill="#1fb23e"/>
<circle cx="423.60" cy="207.10" r="1.0" fill="#1fb23e"/>
<circle cx="422.64" cy="218.05" r="1.0" fill="#1fb23e"/>
<circle cx="423.36" cy="223.26" r="1.0" fill="#1fb23e"/>
<circle cx="424.48" cy="222.58" r="1.0" fill="#1fb23e"/>
<circle cx="422.87" cy="201.56" r="1.0" fill="#1fb23e"/>
<circle cx="423.40" cy="204.89" r="1.0" fill="#1fb23e"/>
<circle cx="425.13" cy="203.05" r="1.0" fill="#1fb23e"/>
<circle cx="423.15" cy="215.47" r="1.0" fill="#1fb23e"/>
<circle cx="423.15" cy="193.36" r="1.0" fill="#1fb23e"/>
<circle cx="425.68" cy="191.09" r="1.0" fill="#1fb23e"/>
<circle cx="424.37" cy="212.69" r="1.0" fill="#1fb23e"/>
<circle cx="422.81" cy="221.31" r="1.0" fill="#1fb23e"/>
<circle cx="423.59" cy="217.47" r="1.0" fill="#1fb23e"/>
<circle cx="421.95" cy="212.45" r="1.0" fill="#1fb23e"/>
<circle cx="423.15" cy="184.28" r="1.0" fill="#1fb23e"/>
<circle cx="425.31" cy="218.11" r="1.0" fill="#1fb23e"/>
<circle cx="423.62" cy="220.49" r="1.0" fill="#1fb23e"/>
<circle cx="425.23" cy="185.48" r="1.0" fill="#1fb23e"/>
<circle cx="425.71" cy="217.84" r="1.0" fill="#1fb23e"/>
<circle cx="422.26" cy="214.99" r="1.0" fill="#1fb23e"/>
<circle cx="425.08" cy="215.29" r="1.0" fill="#1fb23e"/>
<circle cx="426.00" cy="220.32" r="1.0" fill="#1fb23e"/>
<circle cx="423.24" cy="225.83" r="1.0" fill="#1fb23e"/>
<circle cx="424.66" cy="201.81" r="1.0" fill="#1fb23e"/>
<circle cx="423.52" cy="217.02" r="1.0" fill="#1fb23e"/>
<circle cx="424.54" cy="190.77" r="1.0" fill="#1fb23e"/>
<circle cx="423.44" cy="207.39" r="1.0" fill="#1fb23e"/>
<circle cx="423.50" cy="225.89" r="1.0" fill="#1fb23e"/>
<circle cx="422.81" cy="185.11" r="1.0" fill="#1fb23e"/>
<circle cx="427.25" cy="227.47" r="1.0" fill="#1fb23e"/>
<circle cx="424.97" cy="220.37" r="1.0" fill="#1fb23e"/>
<circle cx="421.59" cy="228.03" r="1.0" fill="#1fb23e"/>
<circle cx="424.41" cy="213.78" r="1.0" fill="#1fb23e"/>
<circle cx="424.00" cy="177.30" r="1.0" fill="#1fb23e"/>
<circle cx="423.00" cy="183.00" r="1.0" fill="#1fb23e"/>
<line x1="419.25" y1="218.30" x2="427.95" y2="218.30" stroke="#333" stroke-width="0.9"/>
<text x="401.50" y="168.40" font-size="7.3" fill="#231f20" stroke="#231f20" stroke-width="0.22" textLength="19.60" lengthAdjust="spacingAndGlyphs">0.035</text>
<line x1="399.00" y1="170.20" x2="422.70" y2="170.20" stroke="#222" stroke-width="1.0"/>
<text x="402.00" y="178.00" font-size="7.3" fill="#231f20" stroke="#231f20" stroke-width="0.22" textLength="21.00" lengthAdjust="spacingAndGlyphs">3.7E-4</text>
<line x1="411.30" y1="179.80" x2="423.10" y2="179.80" stroke="#222" stroke-width="1.0"/>
<text x="397.20" y="200.70" font-size="7.3" fill="#231f20" stroke="#231f20" stroke-width="0.22" textLength="19.40" lengthAdjust="spacingAndGlyphs">0.093</text>
<line x1="400.10" y1="202.80" x2="411.80" y2="202.80" stroke="#222" stroke-width="1.0"/>
<text transform="translate(443.00,195.00) rotate(-90)" font-size="8.4" fill="#231f20" stroke="#231f20" stroke-width="0.1" text-anchor="middle" textLength="59.40" lengthAdjust="spacingAndGlyphs">CD115 expr. [a.u.]</text>
<line x1="463.20" y1="157.50" x2="463.20" y2="233.60" stroke="#111" stroke-width="1.0"/>
<line x1="460.00" y1="179.60" x2="463.20" y2="179.60" stroke="#222" stroke-width="0.9"/>
<text x="457.20" y="182.60" font-size="8.6" fill="#231f20" stroke="#231f20" stroke-width="0.22" text-anchor="end" textLength="10.28" lengthAdjust="spacingAndGlyphs">0.4</text>
<line x1="460.00" y1="192.40" x2="463.20" y2="192.40" stroke="#222" stroke-width="0.9"/>
<text x="457.20" y="195.40" font-size="8.6" fill="#231f20" stroke="#231f20" stroke-width="0.22" text-anchor="end" textLength="10.28" lengthAdjust="spacingAndGlyphs">0.3</text>
<line x1="460.00" y1="205.20" x2="463.20" y2="205.20" stroke="#222" stroke-width="0.9"/>
<text x="457.20" y="208.20" font-size="8.6" fill="#231f20" stroke="#231f20" stroke-width="0.22" text-anchor="end" textLength="10.28" lengthAdjust="spacingAndGlyphs">0.2</text>
<line x1="460.00" y1="218.00" x2="463.20" y2="218.00" stroke="#222" stroke-width="0.9"/>
<text x="457.20" y="221.00" font-size="8.6" fill="#231f20" stroke="#231f20" stroke-width="0.22" text-anchor="end" textLength="10.28" lengthAdjust="spacingAndGlyphs">0.1</text>
<line x1="460.00" y1="230.80" x2="463.20" y2="230.80" stroke="#222" stroke-width="0.9"/>
<text x="457.20" y="233.80" font-size="8.6" fill="#231f20" stroke="#231f20" stroke-width="0.22" text-anchor="end" textLength="10.28" lengthAdjust="spacingAndGlyphs">0.0</text>
<line x1="462.70" y1="233.60" x2="513.70" y2="233.60" stroke="#111" stroke-width="1.0"/>
<line x1="470.40" y1="233.60" x2="470.40" y2="237.20" stroke="#333" stroke-width="0.7"/>
<line x1="482.40" y1="233.60" x2="482.40" y2="237.20" stroke="#333" stroke-width="0.7"/>
<line x1="494.30" y1="233.60" x2="494.30" y2="237.20" stroke="#333" stroke-width="0.7"/>
<line x1="506.30" y1="233.60" x2="506.30" y2="237.20" stroke="#333" stroke-width="0.7"/>
<rect x="465.10" y="237.20" width="10.60" height="7.00" fill="#fff" stroke="#8a8a8a" stroke-width="0.9" rx="0.9"/>
<rect x="477.10" y="237.20" width="10.50" height="7.00" fill="url(#cg)" stroke="#8a8a8a" stroke-width="0.9" rx="0.9"/>
<rect x="489.40" y="237.20" width="11.30" height="7.00" fill="url(#cg)" stroke="#8a8a8a" stroke-width="0.9" rx="0.9"/>
<rect x="500.70" y="237.20" width="10.80" height="7.00" fill="url(#stripes)"/>
<rect x="500.70" y="237.20" width="1.70" height="7.00" fill="#b8b8b8"/>
<rect x="500.70" y="237.20" width="10.80" height="7.00" fill="none" stroke="#8a8a8a" stroke-width="0.9" rx="0.9"/>
<rect x="477.10" y="244.20" width="10.50" height="9.30" fill="#fff" stroke="#8a8a8a" stroke-width="0.9" rx="0.9"/>
<rect x="489.40" y="244.20" width="22.10" height="9.30" fill="#fff" stroke="#8a8a8a" stroke-width="0.9" rx="0.9"/>
<text x="482.35" y="251.50" font-size="7.9" fill="#231f20" stroke="#231f20" stroke-width="0.1" text-anchor="middle">M</text>
<text x="500.45" y="251.50" font-size="7.9" fill="#231f20" stroke="#231f20" stroke-width="0.1" text-anchor="middle">GM</text>
<line x1="470.80" y1="205.60" x2="470.80" y2="230.50" stroke="#333" stroke-width="0.8"/>
<rect x="466.30" y="220.30" width="9.00" height="8.80" fill="#fff" stroke="#4a4a4a" stroke-width="0.7"/>
<circle cx="472.84" cy="227.02" r="1.0" fill="#c2c2c2"/>
<circle cx="469.62" cy="217.93" r="1.0" fill="#c2c2c2"/>
<circle cx="471.48" cy="222.77" r="1.0" fill="#c2c2c2"/>
<circle cx="467.79" cy="213.37" r="1.0" fill="#c2c2c2"/>
<circle cx="470.30" cy="211.32" r="1.0" fill="#c2c2c2"/>
<circle cx="471.06" cy="217.43" r="1.0" fill="#c2c2c2"/>
<circle cx="470.54" cy="226.48" r="1.0" fill="#c2c2c2"/>
<circle cx="468.55" cy="224.22" r="1.0" fill="#c2c2c2"/>
<circle cx="471.49" cy="218.57" r="1.0" fill="#c2c2c2"/>
<circle cx="470.89" cy="227.27" r="1.0" fill="#c2c2c2"/>
<circle cx="470.06" cy="225.01" r="1.0" fill="#c2c2c2"/>
<circle cx="472.96" cy="222.70" r="1.0" fill="#c2c2c2"/>
<circle cx="472.00" cy="218.71" r="1.0" fill="#c2c2c2"/>
<circle cx="469.41" cy="219.18" r="1.0" fill="#c2c2c2"/>
<circle cx="470.89" cy="214.68" r="1.0" fill="#c2c2c2"/>
<circle cx="470.08" cy="209.45" r="1.0" fill="#c2c2c2"/>
<circle cx="470.40" cy="221.05" r="1.0" fill="#c2c2c2"/>
<circle cx="472.55" cy="230.47" r="1.0" fill="#c2c2c2"/>
<circle cx="471.34" cy="229.97" r="1.0" fill="#c2c2c2"/>
<circle cx="469.43" cy="223.01" r="1.0" fill="#c2c2c2"/>
<circle cx="471.59" cy="213.87" r="1.0" fill="#c2c2c2"/>
<circle cx="471.48" cy="219.43" r="1.0" fill="#c2c2c2"/>
<circle cx="470.00" cy="203.60" r="1.0" fill="#c2c2c2"/>
<line x1="466.30" y1="224.20" x2="475.30" y2="224.20" stroke="#333" stroke-width="0.9"/>
<line x1="482.50" y1="172.60" x2="482.50" y2="192.20" stroke="#333" stroke-width="0.8"/>
<rect x="478.00" y="176.70" width="9.00" height="9.40" fill="#e58ca2" opacity="0.95"/>
<circle cx="484.43" cy="181.57" r="1.0" fill="#d3062c"/>
<circle cx="481.02" cy="174.82" r="1.0" fill="#d3062c"/>
<circle cx="485.06" cy="188.09" r="1.0" fill="#d3062c"/>
<circle cx="483.39" cy="173.01" r="1.0" fill="#d3062c"/>
<circle cx="481.92" cy="188.92" r="1.0" fill="#d3062c"/>
<circle cx="482.66" cy="184.29" r="1.0" fill="#d3062c"/>
<circle cx="481.13" cy="174.94" r="1.0" fill="#d3062c"/>
<circle cx="482.24" cy="192.07" r="1.0" fill="#d3062c"/>
<circle cx="482.82" cy="179.19" r="1.0" fill="#d3062c"/>
<circle cx="480.25" cy="186.93" r="1.0" fill="#d3062c"/>
<circle cx="484.40" cy="181.13" r="1.0" fill="#d3062c"/>
<circle cx="482.78" cy="181.40" r="1.0" fill="#d3062c"/>
<circle cx="484.77" cy="186.66" r="1.0" fill="#d3062c"/>
<circle cx="481.55" cy="177.59" r="1.0" fill="#d3062c"/>
<circle cx="484.17" cy="174.37" r="1.0" fill="#d3062c"/>
<circle cx="482.46" cy="173.99" r="1.0" fill="#d3062c"/>
<circle cx="482.83" cy="180.55" r="1.0" fill="#d3062c"/>
<circle cx="484.23" cy="183.51" r="1.0" fill="#d3062c"/>
<circle cx="482.39" cy="190.23" r="1.0" fill="#d3062c"/>
<circle cx="482.98" cy="188.54" r="1.0" fill="#d3062c"/>
<circle cx="480.31" cy="186.84" r="1.0" fill="#d3062c"/>
<circle cx="480.56" cy="180.40" r="1.0" fill="#d3062c"/>
<circle cx="483.96" cy="176.85" r="1.0" fill="#d3062c"/>
<circle cx="482.15" cy="186.13" r="1.0" fill="#d3062c"/>
<circle cx="481.50" cy="194.80" r="1.0" fill="#d3062c"/>
<circle cx="482.00" cy="171.00" r="1.0" fill="#d3062c"/>
<line x1="478.00" y1="180.30" x2="487.00" y2="180.30" stroke="#333" stroke-width="0.9"/>
<line x1="493.90" y1="206.60" x2="493.90" y2="231.00" stroke="#333" stroke-width="0.8"/>
<rect x="489.50" y="218.70" width="8.80" height="11.80" fill="#b2e2b4" opacity="0.95"/>
<circle cx="494.50" cy="230.74" r="1.0" fill="#1fb23e"/>
<circle cx="492.82" cy="224.14" r="1.0" fill="#1fb23e"/>
<circle cx="494.06" cy="222.62" r="1.0" fill="#1fb23e"/>
<circle cx="494.22" cy="220.42" r="1.0" fill="#1fb23e"/>
<circle cx="492.95" cy="228.54" r="1.0" fill="#1fb23e"/>
<circle cx="492.30" cy="222.41" r="1.0" fill="#1fb23e"/>
<circle cx="495.00" cy="230.95" r="1.0" fill="#1fb23e"/>
<circle cx="493.08" cy="209.63" r="1.0" fill="#1fb23e"/>
<circle cx="493.49" cy="213.05" r="1.0" fill="#1fb23e"/>
<circle cx="493.65" cy="222.03" r="1.0" fill="#1fb23e"/>
<circle cx="492.70" cy="210.36" r="1.0" fill="#1fb23e"/>
<circle cx="495.10" cy="210.93" r="1.0" fill="#1fb23e"/>
<circle cx="492.22" cy="225.46" r="1.0" fill="#1fb23e"/>
<circle cx="492.21" cy="208.06" r="1.0" fill="#1fb23e"/>
<circle cx="493.16" cy="226.24" r="1.0" fill="#1fb23e"/>
<circle cx="490.83" cy="213.84" r="1.0" fill="#1fb23e"/>
<circle cx="492.66" cy="209.85" r="1.0" fill="#1fb23e"/>
<circle cx="493.27" cy="221.31" r="1.0" fill="#1fb23e"/>
<circle cx="493.30" cy="230.98" r="1.0" fill="#1fb23e"/>
<circle cx="495.54" cy="228.48" r="1.0" fill="#1fb23e"/>
<circle cx="494.08" cy="228.75" r="1.0" fill="#1fb23e"/>
<circle cx="495.63" cy="213.81" r="1.0" fill="#1fb23e"/>
<circle cx="492.47" cy="230.87" r="1.0" fill="#1fb23e"/>
<circle cx="494.09" cy="224.06" r="1.0" fill="#1fb23e"/>
<circle cx="493.15" cy="230.51" r="1.0" fill="#1fb23e"/>
<circle cx="496.02" cy="228.14" r="1.0" fill="#1fb23e"/>
<circle cx="494.10" cy="229.13" r="1.0" fill="#1fb23e"/>
<circle cx="496.39" cy="230.66" r="1.0" fill="#1fb23e"/>
<circle cx="495.67" cy="215.98" r="1.0" fill="#1fb23e"/>
<circle cx="493.23" cy="230.95" r="1.0" fill="#1fb23e"/>
<circle cx="491.97" cy="230.60" r="1.0" fill="#1fb23e"/>
<circle cx="494.44" cy="207.84" r="1.0" fill="#1fb23e"/>
<circle cx="493.01" cy="217.73" r="1.0" fill="#1fb23e"/>
<circle cx="493.67" cy="229.43" r="1.0" fill="#1fb23e"/>
<circle cx="493.49" cy="219.68" r="1.0" fill="#1fb23e"/>
<circle cx="495.75" cy="224.50" r="1.0" fill="#1fb23e"/>
<circle cx="493.74" cy="226.54" r="1.0" fill="#1fb23e"/>
<circle cx="494.82" cy="220.85" r="1.0" fill="#1fb23e"/>
<circle cx="494.45" cy="211.36" r="1.0" fill="#1fb23e"/>
<circle cx="493.15" cy="209.97" r="1.0" fill="#1fb23e"/>
<circle cx="492.26" cy="220.30" r="1.0" fill="#1fb23e"/>
<circle cx="493.26" cy="214.83" r="1.0" fill="#1fb23e"/>
<circle cx="494.94" cy="230.15" r="1.0" fill="#1fb23e"/>
<circle cx="493.47" cy="228.07" r="1.0" fill="#1fb23e"/>
<circle cx="492.53" cy="226.26" r="1.0" fill="#1fb23e"/>
<circle cx="497.40" cy="224.49" r="1.0" fill="#1fb23e"/>
<circle cx="493.37" cy="220.22" r="1.0" fill="#1fb23e"/>
<circle cx="491.40" cy="230.42" r="1.0" fill="#1fb23e"/>
<circle cx="493.91" cy="222.19" r="1.0" fill="#1fb23e"/>
<circle cx="495.01" cy="206.74" r="1.0" fill="#1fb23e"/>
<circle cx="495.92" cy="230.91" r="1.0" fill="#1fb23e"/>
<circle cx="493.33" cy="222.10" r="1.0" fill="#1fb23e"/>
<circle cx="492.08" cy="229.70" r="1.0" fill="#1fb23e"/>
<circle cx="492.49" cy="230.88" r="1.0" fill="#1fb23e"/>
<circle cx="492.81" cy="230.59" r="1.0" fill="#1fb23e"/>
<circle cx="495.13" cy="212.66" r="1.0" fill="#1fb23e"/>
<circle cx="493.63" cy="222.42" r="1.0" fill="#1fb23e"/>
<circle cx="493.39" cy="230.54" r="1.0" fill="#1fb23e"/>
<circle cx="494.60" cy="229.01" r="1.0" fill="#1fb23e"/>
<circle cx="495.51" cy="220.03" r="1.0" fill="#1fb23e"/>
<circle cx="494.50" cy="204.60" r="1.0" fill="#1fb23e"/>
<line x1="489.50" y1="227.20" x2="498.30" y2="227.20" stroke="#333" stroke-width="0.9"/>
<line x1="505.90" y1="207.50" x2="505.90" y2="231.00" stroke="#333" stroke-width="0.8"/>
<rect x="501.20" y="217.40" width="9.40" height="12.30" fill="#b2e2b4" opacity="0.95"/>
<circle cx="502.97" cy="216.40" r="1.0" fill="#1fb23e"/>
<circle cx="507.74" cy="225.75" r="1.0" fill="#1fb23e"/>
<circle cx="505.75" cy="229.93" r="1.0" fill="#1fb23e"/>
<circle cx="504.65" cy="219.17" r="1.0" fill="#1fb23e"/>
<circle cx="503.48" cy="230.08" r="1.0" fill="#1fb23e"/>
<circle cx="507.68" cy="224.49" r="1.0" fill="#1fb23e"/>
<circle cx="502.84" cy="215.31" r="1.0" fill="#1fb23e"/>
<circle cx="506.92" cy="229.62" r="1.0" fill="#1fb23e"/>
<circle cx="502.75" cy="227.41" r="1.0" fill="#1fb23e"/>
<circle cx="505.54" cy="218.51" r="1.0" fill="#1fb23e"/>
<circle cx="505.40" cy="230.24" r="1.0" fill="#1fb23e"/>
<circle cx="508.86" cy="209.57" r="1.0" fill="#1fb23e"/>
<circle cx="507.70" cy="213.44" r="1.0" fill="#1fb23e"/>
<circle cx="506.47" cy="209.35" r="1.0" fill="#1fb23e"/>
<circle cx="504.64" cy="230.19" r="1.0" fill="#1fb23e"/>
<circle cx="505.40" cy="229.45" r="1.0" fill="#1fb23e"/>
<circle cx="505.84" cy="223.14" r="1.0" fill="#1fb23e"/>
<circle cx="507.48" cy="229.22" r="1.0" fill="#1fb23e"/>
<circle cx="506.33" cy="229.89" r="1.0" fill="#1fb23e"/>
<circle cx="502.64" cy="216.81" r="1.0" fill="#1fb23e"/>
<circle cx="506.37" cy="228.64" r="1.0" fill="#1fb23e"/>
<circle cx="503.60" cy="226.31" r="1.0" fill="#1fb23e"/>
<circle cx="508.08" cy="229.93" r="1.0" fill="#1fb23e"/>
<circle cx="506.28" cy="228.45" r="1.0" fill="#1fb23e"/>
<circle cx="507.01" cy="231.00" r="1.0" fill="#1fb23e"/>
<circle cx="507.12" cy="226.04" r="1.0" fill="#1fb23e"/>
<circle cx="506.16" cy="218.76" r="1.0" fill="#1fb23e"/>
<circle cx="506.78" cy="230.90" r="1.0" fill="#1fb23e"/>
<circle cx="504.95" cy="214.43" r="1.0" fill="#1fb23e"/>
<circle cx="506.33" cy="218.41" r="1.0" fill="#1fb23e"/>
<circle cx="505.34" cy="220.87" r="1.0" fill="#1fb23e"/>
<circle cx="505.71" cy="212.44" r="1.0" fill="#1fb23e"/>
<circle cx="503.41" cy="218.37" r="1.0" fill="#1fb23e"/>
<circle cx="507.63" cy="214.53" r="1.0" fill="#1fb23e"/>
<circle cx="505.98" cy="219.50" r="1.0" fill="#1fb23e"/>
<circle cx="505.25" cy="221.82" r="1.0" fill="#1fb23e"/>
<circle cx="505.25" cy="218.02" r="1.0" fill="#1fb23e"/>
<circle cx="507.81" cy="215.56" r="1.0" fill="#1fb23e"/>
<circle cx="506.10" cy="217.03" r="1.0" fill="#1fb23e"/>
<circle cx="507.20" cy="219.17" r="1.0" fill="#1fb23e"/>
<circle cx="504.92" cy="223.56" r="1.0" fill="#1fb23e"/>
<circle cx="506.73" cy="230.65" r="1.0" fill="#1fb23e"/>
<circle cx="504.08" cy="230.41" r="1.0" fill="#1fb23e"/>
<circle cx="504.87" cy="230.13" r="1.0" fill="#1fb23e"/>
<circle cx="506.22" cy="230.36" r="1.0" fill="#1fb23e"/>
<circle cx="503.20" cy="224.70" r="1.0" fill="#1fb23e"/>
<circle cx="503.05" cy="219.42" r="1.0" fill="#1fb23e"/>
<circle cx="508.48" cy="219.01" r="1.0" fill="#1fb23e"/>
<circle cx="505.28" cy="212.18" r="1.0" fill="#1fb23e"/>
<circle cx="505.38" cy="211.94" r="1.0" fill="#1fb23e"/>
<circle cx="501.67" cy="212.20" r="1.0" fill="#1fb23e"/>
<circle cx="504.38" cy="218.05" r="1.0" fill="#1fb23e"/>
<circle cx="508.42" cy="218.87" r="1.0" fill="#1fb23e"/>
<circle cx="506.44" cy="229.71" r="1.0" fill="#1fb23e"/>
<circle cx="502.42" cy="220.00" r="1.0" fill="#1fb23e"/>
<circle cx="509.16" cy="222.18" r="1.0" fill="#1fb23e"/>
<circle cx="504.64" cy="209.49" r="1.0" fill="#1fb23e"/>
<circle cx="507.97" cy="215.38" r="1.0" fill="#1fb23e"/>
<circle cx="506.09" cy="210.81" r="1.0" fill="#1fb23e"/>
<circle cx="506.11" cy="215.38" r="1.0" fill="#1fb23e"/>
<circle cx="505.49" cy="213.47" r="1.0" fill="#1fb23e"/>
<circle cx="506.16" cy="218.77" r="1.0" fill="#1fb23e"/>
<circle cx="503.09" cy="226.82" r="1.0" fill="#1fb23e"/>
<circle cx="504.21" cy="230.64" r="1.0" fill="#1fb23e"/>
<circle cx="505.78" cy="229.90" r="1.0" fill="#1fb23e"/>
<circle cx="503.71" cy="208.70" r="1.0" fill="#1fb23e"/>
<circle cx="505.10" cy="228.53" r="1.0" fill="#1fb23e"/>
<circle cx="502.41" cy="229.79" r="1.0" fill="#1fb23e"/>
<circle cx="505.57" cy="227.80" r="1.0" fill="#1fb23e"/>
<circle cx="504.13" cy="222.23" r="1.0" fill="#1fb23e"/>
<circle cx="503.86" cy="221.76" r="1.0" fill="#1fb23e"/>
<circle cx="506.28" cy="219.48" r="1.0" fill="#1fb23e"/>
<circle cx="504.02" cy="213.18" r="1.0" fill="#1fb23e"/>
<circle cx="506.02" cy="229.67" r="1.0" fill="#1fb23e"/>
<circle cx="505.26" cy="223.94" r="1.0" fill="#1fb23e"/>
<circle cx="507.50" cy="193.80" r="1.0" fill="#1fb23e"/>
<circle cx="506.50" cy="198.70" r="1.0" fill="#1fb23e"/>
<line x1="501.20" y1="223.20" x2="510.60" y2="223.20" stroke="#333" stroke-width="0.9"/>
<text x="481.90" y="169.20" font-size="7.3" fill="#231f20" stroke="#231f20" stroke-width="0.22" textLength="24.10" lengthAdjust="spacingAndGlyphs">1.7E-21</text>
<line x1="481.20" y1="170.30" x2="506.20" y2="170.30" stroke="#222" stroke-width="1.0"/>
<text x="495.40" y="187.90" font-size="7.3" fill="#231f20" stroke="#231f20" stroke-width="0.22" textLength="10.10" lengthAdjust="spacingAndGlyphs">NS</text>
<line x1="494.30" y1="189.20" x2="505.70" y2="189.20" stroke="#222" stroke-width="1.0"/>
<text x="476.40" y="200.60" font-size="7.3" fill="#231f20" stroke="#231f20" stroke-width="0.22" textLength="25.10" lengthAdjust="spacingAndGlyphs">3.9E-24</text>
<line x1="487.60" y1="201.50" x2="494.30" y2="201.50" stroke="#222" stroke-width="1.0"/></svg>
</body></html>
